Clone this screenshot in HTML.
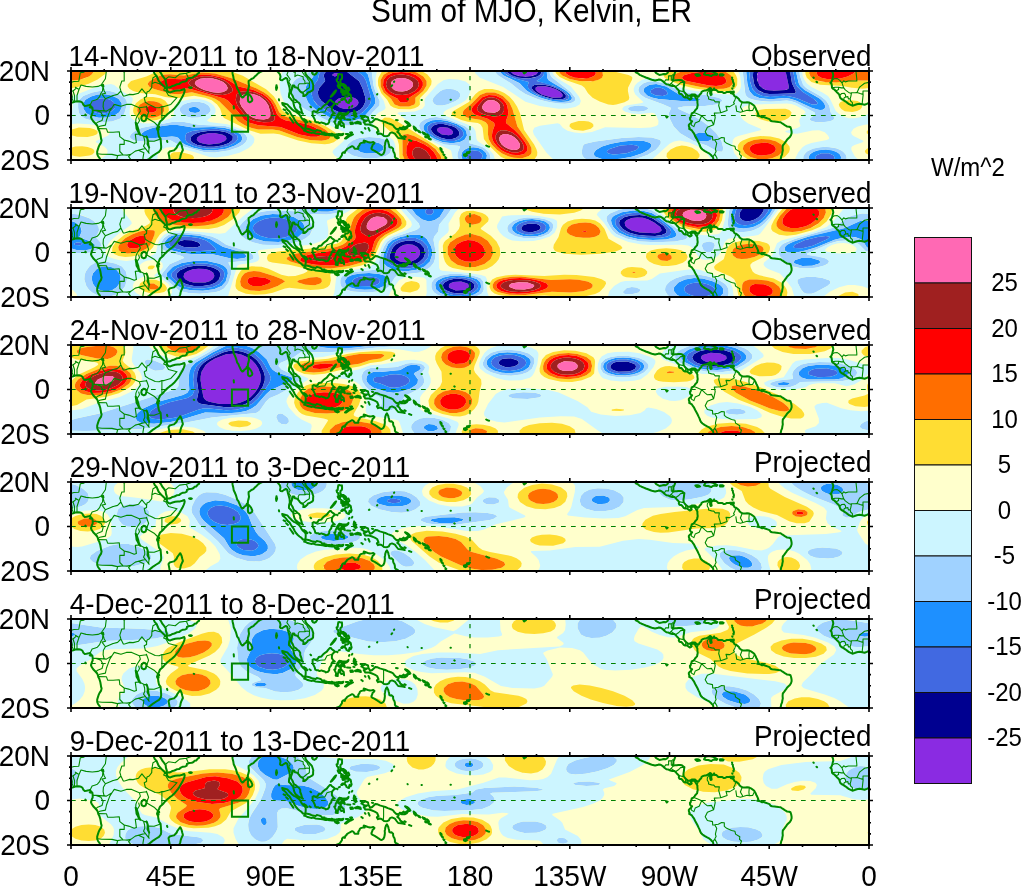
<!DOCTYPE html><html><head><meta charset="utf-8"><title>Sum of MJO, Kelvin, ER</title><style>html,body{margin:0;padding:0;background:#fff;width:1021px;height:889px;overflow:hidden}svg{display:block}text{font-family:"Liberation Sans",Arial,Helvetica,sans-serif;fill:#000}</style></head><body>
<svg width="1021" height="889" viewBox="0 0 1021 889">
<defs>
<g id="map"><path d="M832.4 79.7L834.6 78.8L837.3 78.6L839.5 80.1L842.0 82.8L843.7 80.8L845.3 81.9L848.4 81.0L856.8 81.0L856.8 79.0L855.7 68.8L855.7 64.3M842.0 82.8L843.7 87.9L841.3 87.9L838.6 87.2L835.3 87.2L832.0 87.9M835.8 91.0L838.6 89.5L838.6 87.2M45.7 87.9L47.3 89.9L50.6 92.4L52.8 93.2L53.5 92.8L57.3 92.8L59.0 92.4L61.5 87.2L63.2 85.9L66.6 83.2L71.4 82.3L73.9 81.5L78.8 81.2L80.3 72.8L83.9 72.1L97.6 63.2M843.7 87.9L845.3 89.9L848.6 92.4L850.8 93.2L851.5 92.8L855.3 92.8L857.0 92.4L859.5 87.2L861.2 85.9L864.6 83.2L869.4 82.3L871.9 81.5L876.8 81.2L878.3 72.8L881.9 72.1L895.6 63.2M839.7 95.3L841.7 93.5L844.2 93.2L845.5 94.8L845.7 97.0L844.2 97.7L843.5 100.1M845.7 97.0L847.9 96.6L848.4 99.0L850.2 98.6L850.8 96.6L851.5 92.8M850.2 98.6L850.6 101.0L852.4 102.6L852.4 105.7M59.0 92.4L62.1 93.5L65.0 94.4L65.0 91.0L71.0 91.0L73.0 91.0L76.1 88.4L75.4 87.2L79.0 89.5M857.0 92.4L860.1 93.5L863.0 94.4L863.0 91.0L869.0 91.0L871.0 91.0L874.1 88.4L873.4 87.2L877.0 89.5M64.1 104.2L64.8 97.9L65.2 94.4M862.1 104.2L862.8 97.9L863.2 94.4M71.0 91.0L72.3 96.6L72.1 98.8L73.7 101.9M869.0 91.0L870.3 96.6L870.1 98.8L871.7 101.9M73.0 91.0L74.5 95.5L74.5 101.7M871.0 91.0L872.5 95.5L872.5 101.7M77.0 101.3L77.0 95.5L79.0 89.5L81.0 85.0L86.1 86.4L92.3 87.0L98.0 86.4L101.1 85.0M875.0 101.3L875.0 95.5L877.0 89.5L879.0 85.0L884.1 86.4L890.3 87.0L896.0 86.4L899.1 85.0M105.4 64.3L106.5 69.9L105.4 78.8L101.1 85.0L102.9 86.4L104.2 91.0L105.6 93.2L102.0 94.1L105.4 98.8L103.4 102.2L103.1 106.6L104.2 111.1L106.5 111.1L112.0 107.7M90.1 105.0L92.1 101.0L95.4 99.9L97.2 99.3L99.6 96.6L100.9 93.2L102.5 91.0L102.9 86.4M124.2 72.1L124.2 81.0L121.8 81.0L119.8 87.2L120.9 91.0L123.3 96.1M105.4 98.8L112.0 95.9L113.3 95.5L117.6 94.4L120.9 91.0M104.2 64.3L124.2 72.1L126.4 71.0L126.4 66.5L152.8 66.5M123.3 96.1L125.3 95.7L129.7 94.4L133.1 94.6L138.6 93.2L141.9 88.8L144.6 92.1L146.6 94.4L146.6 96.4L144.2 97.7L145.3 102.2L148.6 104.4L150.6 105.3L155.2 107.5L159.2 107.7L161.9 106.6L164.1 106.6L170.8 104.4L177.0 97.7L168.5 95.5L165.9 91.0L166.8 90.1M156.6 75.7L153.0 77.7L151.9 83.7L151.7 87.7L149.2 91.0L147.0 92.1L146.6 94.4M151.9 83.7L155.0 82.3L157.9 83.2L161.4 83.9L164.8 87.7L163.7 90.1L165.9 91.0M161.9 106.6L161.9 119.3L163.0 119.3M112.0 107.7L114.2 104.4L120.9 106.2L126.4 104.4L131.7 104.4L139.3 107.7L146.1 106.8L146.4 106.2L148.6 112.2L146.4 117.7L154.1 122.2L157.9 126.0M112.0 107.7L109.8 111.1L106.5 120.0L105.4 125.1L99.8 126.2L98.0 127.7M92.7 110.4L96.0 110.4L99.8 110.6L106.5 111.1M96.0 110.4L100.9 112.2L103.1 116.6L102.0 120.6L97.6 122.2L95.6 124.2M98.0 128.6L106.5 128.8L107.6 132.2L113.1 132.2L119.3 131.7L119.8 136.6L124.2 140.0L124.2 144.4L119.8 144.4L119.8 151.5L122.9 154.7M97.2 153.8L102.0 154.2L112.0 154.4L117.3 155.6L122.9 154.7L127.1 155.1L130.8 154.4L135.3 151.1L138.4 150.2M124.2 140.0L128.6 141.1L134.2 143.3L136.4 142.6L135.3 134.4L139.3 134.0M139.3 107.7L140.4 111.1L137.1 116.2L135.9 119.1L135.7 122.8M138.6 117.7L139.5 120.8L138.6 122.2L136.6 125.3M140.2 134.6L144.2 136.6L146.4 136.6M148.1 141.1L154.1 141.3L160.6 138.9M149.2 147.5L148.6 152.2L149.2 153.3L145.3 148.4L138.4 150.2L143.9 152.7L143.0 157.8L142.8 163.1L140.4 165.3M143.5 136.2L144.6 140.0L144.8 143.3L143.5 146.2L145.3 148.4M115.3 164.4L117.6 156.0M130.8 154.4L128.6 156.7L132.0 161.1L135.3 164.9M165.9 79.0L168.5 76.8L175.2 77.7L179.6 74.1L186.3 73.2L188.7 78.6M186.3 73.2L192.9 71.0L194.2 66.5M275.6 69.4L276.3 68.1L276.3 65.4M289.6 93.2L290.7 91.0L291.6 88.4L290.7 84.8L289.3 83.2L288.9 81.5L290.2 79.2L286.9 74.6L288.2 71.4L291.6 70.6L292.9 70.1L293.8 72.1L295.3 71.9L294.9 76.6L297.3 75.0L299.3 75.5L303.1 76.8L303.3 79.2L304.9 81.0L304.9 83.7L299.3 83.7L298.2 85.5L298.4 88.4M297.3 65.7L298.7 67.4L300.4 69.4L302.9 70.1L302.4 72.3L303.8 74.3L307.1 77.5L307.5 78.8L309.3 81.2L309.5 83.5L309.3 87.7L306.6 89.5L304.2 91.5L302.4 92.4M304.9 83.7L306.9 83.0L309.5 83.5M292.9 101.3L295.1 102.8L297.3 101.7M313.9 111.3L317.1 113.1L320.4 112.2L324.8 111.9L327.0 107.7L332.1 106.2M383.6 121.3L383.6 130.9L383.3 135.7M347.9 135.5L348.3 136.9M664.6 83.2L664.6 81.5L665.7 79.9L668.6 79.9L668.6 75.9L671.5 75.9L673.3 74.3M671.3 75.9L671.3 80.1L671.9 80.1M669.3 85.0L671.1 83.5L673.5 80.6M671.1 83.5L672.8 84.6L674.4 85.9M675.5 86.8L678.4 84.8L680.6 82.6L684.6 82.1M679.0 90.6L682.8 91.5L683.7 91.2M685.2 97.5L685.9 94.4M696.3 99.5L697.9 98.1L697.4 96.1M711.0 89.2L708.7 90.8L707.4 92.6L707.2 95.0L708.7 97.5L708.5 99.0L711.6 99.9L713.8 100.1L715.2 101.9L719.4 101.7L718.7 105.5L719.8 109.3L720.7 112.8L727.1 110.4L726.0 106.4L729.8 106.6L734.4 103.9L733.6 102.6L734.9 99.9L736.0 96.6M693.9 112.6L697.2 113.7L701.6 115.7L705.0 118.8L707.4 120.8L711.6 120.4L713.6 124.8L715.2 117.7L714.3 113.1L720.5 112.8M691.0 123.1L691.4 125.1L693.9 126.6L695.2 123.1L699.2 121.3L701.6 115.7M713.6 124.8L707.4 127.3L705.2 131.7L707.4 135.5L712.5 136.6L712.7 140.0L714.7 139.8L716.7 143.3L715.4 149.1L716.1 151.5L714.7 154.0L713.2 156.4M714.7 139.8L718.3 139.3L721.6 137.5L724.3 137.8L724.3 141.3L726.7 143.3L731.6 145.5L734.9 146.2L735.6 149.1L739.8 151.8L739.5 154.4L741.5 156.0L740.2 160.0M714.9 154.4L716.9 157.8L717.4 162.2L720.0 166.2M720.0 166.2L726.0 165.1L730.2 165.1L732.0 161.1L740.2 160.0M742.2 102.2L740.4 107.0L742.7 111.1M749.3 102.6L748.9 107.3L749.3 110.6M735.8 105.3L736.7 111.3L740.4 112.2L743.8 111.3L747.1 110.2L749.3 110.6L752.6 110.4L754.6 106.4" fill="none" stroke="#008a00" stroke-width="1.1" stroke-linejoin="round"/><path d="M33.1 67.7L33.8 71.0L34.9 73.2L35.3 75.5L34.6 78.1L34.2 79.9L33.3 82.1L32.4 82.8L33.5 83.7L33.8 85.2L34.0 87.7L35.1 88.8L36.6 89.7L37.8 91.0L38.6 91.9L40.0 93.2L41.1 94.4L41.7 96.1L42.2 97.7L43.5 99.0L45.5 100.1L47.3 101.3L49.1 102.6L51.0 104.2L54.4 105.7L56.6 105.0L58.8 104.2L61.5 103.7L64.3 104.2L66.6 104.8L68.8 103.9L71.0 102.8L73.2 102.2L75.4 101.5L78.8 101.3L81.0 101.7L82.5 102.8L83.4 104.8L84.7 105.9L86.5 105.7L88.7 105.3L90.1 105.0L91.0 106.6L92.3 107.5L92.7 109.9L92.7 112.6L92.1 113.7L91.6 115.1L91.0 117.1L91.6 118.8L93.2 121.3L95.4 123.5L97.2 125.5L98.0 127.7L98.3 129.1L99.4 131.1L100.3 134.0L100.7 136.2L101.1 138.9L101.6 140.4L101.1 142.6L99.6 144.9L98.7 146.7L98.0 148.9L97.2 151.5L97.2 154.0L98.0 156.0L99.4 157.8L100.7 160.4L102.0 163.3L102.9 165.6M831.1 67.7L831.8 71.0L832.9 73.2L833.3 75.5L832.6 78.1L832.2 79.9L831.3 82.1L830.4 82.8L831.5 83.7L831.8 85.2L832.0 87.7L833.1 88.8L834.6 89.7L835.8 91.0L836.6 91.9L838.0 93.2L839.1 94.4L839.7 96.1L840.2 97.7L841.5 99.0L843.5 100.1L845.3 101.3L847.1 102.6L849.1 104.2L852.4 105.7L854.6 105.0L856.8 104.2L859.5 103.7L862.4 104.2L864.6 104.8L866.8 103.9L869.0 102.8L871.2 102.2L873.4 101.5L876.8 101.3L879.0 101.7L880.5 102.8L881.4 104.8L882.7 105.9L884.5 105.7L886.7 105.3L888.1 105.0L889.0 106.6L890.3 107.5L890.7 109.9L890.7 112.6L890.1 113.7L889.6 115.1L889.0 117.1L889.6 118.8L891.2 121.3L893.4 123.5L895.2 125.5L896.0 127.7L896.3 129.1L897.4 131.1L898.3 134.0L898.7 136.2L899.1 138.9L899.6 140.4L899.1 142.6L897.6 144.9L896.7 146.7L896.0 148.9L895.2 151.5L895.2 154.0L896.0 156.0L897.4 157.8L898.7 160.4L900.0 163.3L900.9 165.6M153.0 65.4L153.5 68.8L153.7 71.7L154.8 74.1L156.6 75.9L158.1 79.5L158.8 81.0L160.3 82.6L162.3 84.8L164.1 86.4L165.4 87.7L167.0 89.2L166.8 90.1L168.5 92.1L170.3 92.4L172.5 91.5L175.2 90.8L177.8 90.6L180.1 90.4L182.3 89.7L184.3 89.0L184.7 90.6L184.3 92.4L183.6 94.1L182.5 96.6L181.2 98.8L179.6 101.5L178.1 103.9L176.3 106.2L174.1 108.8L171.9 110.8L169.6 112.4L167.4 114.2L165.4 116.2L163.7 118.2L161.9 120.0L160.1 121.5L159.0 124.0L157.9 126.0L157.0 128.8L158.1 131.1L158.3 133.3L159.0 136.6L160.6 138.9L160.8 141.1L161.0 144.0L161.2 147.1L160.8 149.5L159.0 151.8L156.3 153.5L153.5 155.3L151.5 156.9L149.2 158.7L147.9 159.6L148.8 162.0L149.5 164.7L149.7 166.7M157.0 65.4L157.9 68.1L159.0 70.6L161.0 73.2L162.5 75.9L164.3 78.1L165.7 80.3L165.9 82.6L166.5 84.6L167.0 86.6L167.4 87.2L169.2 87.5L170.8 87.0L172.5 85.9L174.5 85.5L176.7 84.3L179.0 84.1L180.9 82.6L182.9 81.7L185.2 81.5L186.7 80.6L186.9 79.0L189.1 78.1L191.8 77.7L193.6 77.0L194.5 75.7L196.2 75.5L198.0 73.4L199.1 72.8L199.1 70.3L200.7 69.7L202.0 67.9L203.6 65.7L204.0 64.3M223.5 65.2L225.1 66.1L226.4 68.6L228.4 69.2L230.6 68.6L232.2 67.2L232.6 65.7L232.2 69.0L232.4 71.4L232.6 73.7L233.3 76.6L233.7 79.2L234.8 81.5L235.9 84.1L236.6 86.6L237.2 88.6L238.4 90.1L239.2 92.1L240.1 94.1L241.0 96.1L242.3 97.5L243.5 97.0L244.3 95.7L245.9 94.8L246.8 92.8L247.9 92.4L247.9 90.1L248.6 87.9L249.0 85.7L248.6 83.0L248.6 81.0L250.1 80.1L251.4 79.0L253.4 78.1L254.5 76.8L256.3 75.2L258.1 73.4L259.9 72.1L262.3 71.0L263.6 69.2L263.9 67.4L266.1 66.5L267.4 67.2L268.3 66.5M248.1 93.7L249.2 94.4L250.3 95.7L251.2 96.8L252.3 99.3L252.1 100.8L251.0 101.7L249.7 102.3L248.3 101.5L247.9 99.5L247.9 97.3L248.1 95.5L248.1 93.7M268.3 66.5L269.8 66.8L271.6 65.9L273.6 65.2L274.7 66.8L275.6 69.0L276.9 70.8L278.3 72.3L279.8 74.1L280.5 76.6L280.0 79.2L280.7 80.1L282.2 80.3L284.2 78.8L285.8 77.9L287.3 78.8L287.8 81.7L288.7 84.8L289.6 88.1L289.8 91.5L289.1 94.1L288.9 97.0L290.0 97.9L291.6 99.9L293.1 101.3L293.6 103.7L294.2 106.4L295.3 108.8L296.4 109.9L298.2 111.3L300.4 112.6L302.0 112.4L301.3 109.7L300.2 107.0L300.2 104.8L298.9 102.8L297.3 101.7L295.8 100.1L294.2 99.5L293.3 97.7L292.4 95.5L290.9 93.2L291.1 91.0L292.0 88.8L292.7 86.8L292.7 85.5L294.2 85.5L294.9 87.2L296.7 87.5L298.2 88.8L299.1 89.9L300.0 91.2L301.5 92.4L302.6 92.4L303.5 94.1L303.3 96.1L304.4 96.1L306.4 94.6L307.5 93.5L308.0 92.4L309.5 92.1L311.3 91.0L312.4 90.4L313.1 89.2L313.1 87.0L313.3 85.2L312.6 83.0L312.0 81.2L310.8 79.7L309.1 78.1L307.7 76.8L306.6 75.2L305.3 73.2L305.5 71.4L307.3 69.9L308.6 68.8L310.2 67.7L311.7 67.2L313.5 67.7L314.6 67.9L314.4 69.0L315.3 70.1L316.2 70.3L315.9 68.8L317.1 67.7L319.0 67.2L320.8 66.8L322.6 65.9L324.1 65.7L327.0 64.8L329.2 64.3M312.0 72.8L313.1 74.3L314.6 74.8L315.9 73.9L317.1 71.9L316.2 70.8L314.6 71.0L313.1 71.4L312.0 72.8M337.2 63.9L337.7 65.4L338.6 66.7L339.0 65.7L340.1 64.3L340.5 63.2M338.3 74.3L339.7 74.1L341.2 74.6L341.9 74.3L342.1 76.8L341.9 78.8L340.5 80.1L340.3 81.9L340.8 83.2L341.9 84.1L343.2 83.9L344.3 84.6L345.9 85.9L346.1 87.5L344.3 86.6L342.8 85.7L341.4 84.8L340.3 85.0L339.0 84.3L338.3 83.5L338.3 82.3L337.0 81.2L336.6 79.5L337.7 79.0L337.9 76.6L338.3 74.3M337.7 85.5L339.4 85.5L340.3 86.4L339.9 88.1L338.8 87.9L338.1 86.6L337.7 85.5M346.5 87.7L348.5 87.5L349.4 89.9L348.1 91.0L348.3 93.0L346.5 92.4L347.0 89.9L346.5 87.7M341.2 89.0L342.8 89.9L343.9 90.8L342.5 91.9L341.2 92.1L341.2 89.0M343.4 91.2L344.8 91.9L344.3 94.8L342.8 95.0L342.3 93.7L343.4 91.2M345.4 90.6L346.1 92.1L344.8 94.4L344.3 93.5L345.4 90.6M330.8 96.8L332.3 95.7L333.9 93.9L335.4 91.9L336.1 90.4L335.2 91.0L333.5 93.0L331.7 95.3L330.8 96.8M341.2 99.9L342.5 98.4L343.7 98.6L345.0 98.1L345.4 96.6L347.4 96.6L348.7 95.5L349.2 93.7L350.7 95.0L351.2 97.7L351.6 99.5L350.7 101.3L349.6 99.9L349.0 101.9L349.0 103.0L347.9 102.8L346.3 101.7L346.1 100.4L345.0 99.5L343.4 99.0L341.9 100.1L341.2 99.9M312.6 111.9L313.9 111.1L315.5 111.7L317.5 111.3L318.8 109.0L321.5 108.4L323.3 106.2L325.0 104.8L326.8 103.7L328.1 101.9L329.7 100.1L330.8 99.9L331.9 101.3L333.5 102.4L335.2 103.7L333.7 104.8L332.6 105.9L331.9 107.7L331.9 110.2L333.2 112.2L334.8 113.5L332.6 113.9L331.5 115.5L331.2 117.5L330.1 118.6L329.2 120.4L329.2 122.2L328.1 123.7L325.9 124.4L324.8 123.5L323.0 123.1L321.5 122.4L319.5 123.1L318.2 122.2L316.4 122.2L315.3 121.7L314.8 119.7L313.7 117.3L312.8 115.9L312.6 114.2L312.6 111.9M282.2 103.0L284.9 103.7L287.3 104.4L288.9 106.2L290.5 107.7L292.2 109.5L293.8 110.8L295.8 111.7L297.8 113.1L299.3 114.4L300.6 116.2L301.3 117.7L302.6 119.5L304.2 120.8L305.7 122.6L305.7 125.3L305.5 128.4L304.2 128.4L302.9 128.6L301.5 126.8L299.5 125.5L297.8 124.0L296.0 122.0L294.7 120.0L293.6 117.7L292.0 115.5L290.7 113.5L289.6 111.5L287.6 109.9L286.5 108.2L284.7 106.2L282.7 104.6L282.2 103.0M304.2 130.6L305.5 128.8L307.3 128.8L309.5 129.3L311.3 130.0L313.1 130.6L315.7 130.9L316.8 130.0L318.4 130.4L320.6 130.9L321.9 132.4L324.6 132.6L324.8 134.9L322.6 134.2L320.4 134.0L317.9 133.7L315.7 133.5L313.3 132.6L311.1 132.9L308.6 132.2L306.9 131.7L304.9 130.6L304.2 130.6M325.0 133.5L326.6 133.5L327.5 134.4L326.4 135.1L325.0 134.2L325.0 133.5M328.1 134.0L329.7 134.0L329.5 135.3L328.1 135.1L328.1 134.0M330.1 134.4L331.7 133.7L333.2 134.2L335.0 134.4L334.3 135.3L332.1 135.5L330.1 135.3L330.1 134.4M336.6 134.4L338.8 134.0L341.4 134.2L343.4 133.7L342.8 134.9L340.3 135.3L337.9 135.1L336.6 134.4M334.8 136.4L337.0 136.4L338.8 137.8L337.4 138.4L335.2 137.3L334.8 136.4M345.0 138.4L347.0 136.6L348.7 135.3L351.4 134.2L353.0 134.4L350.7 135.5L348.3 136.9L345.9 138.6L345.0 138.4M348.5 111.9L347.0 113.3L344.3 113.5L342.1 113.3L339.2 112.8L338.3 114.2L337.2 115.5L336.6 117.3L335.7 118.8L335.4 121.1L334.3 121.7L335.2 123.3L336.1 125.3L335.7 127.7L337.7 128.0L337.9 125.7L339.0 121.7L340.5 122.0L339.9 124.4L341.4 126.0L343.2 125.5L344.1 127.3L343.7 124.0L342.1 122.6L341.0 121.1L340.3 119.7L342.5 117.5L344.5 117.5L343.9 116.6L341.2 116.8L339.2 118.4L338.3 118.2L338.6 114.6L340.5 114.4L343.7 114.4L346.3 114.6L348.1 113.3L348.5 111.9M354.1 110.6L355.4 111.9L354.7 113.3L356.3 113.7L355.2 114.8L356.7 116.4L355.4 117.1L354.1 115.5L353.6 113.5L354.1 110.6M355.0 122.8L357.6 121.7L360.3 122.4L360.9 124.0L358.3 123.3L355.8 123.3L355.0 122.8M350.3 122.6L352.5 122.4L353.0 123.7L350.7 124.0L350.3 122.6M361.4 118.4L363.4 117.3L365.6 116.4L368.0 117.5L368.5 120.0L370.2 122.8L372.2 122.0L375.3 119.1L377.6 119.3L379.8 120.4L382.4 121.1L385.3 122.0L387.8 123.1L390.9 124.2L393.1 125.3L394.2 127.1L396.6 129.3L398.2 129.1L398.6 130.6L397.3 132.0L399.3 133.5L400.4 135.7L402.2 136.9L403.9 138.2L404.8 139.1L402.6 138.6L400.6 138.2L398.2 138.0L396.6 136.0L394.9 133.7L392.0 132.4L390.0 133.1L388.9 135.3L387.1 136.2L384.0 136.0L381.6 134.0L379.6 133.5L378.0 134.2L376.9 132.4L378.5 131.1L377.1 128.0L374.7 126.6L371.4 125.3L369.1 124.6L366.7 124.4L365.4 124.6L363.8 122.2L365.6 121.5L366.9 120.6L364.3 120.4L362.0 118.8L361.4 118.4M399.7 127.7L401.9 128.0L403.7 126.6L404.8 127.7L407.0 126.4L408.2 125.1L408.6 125.7L407.0 128.0L404.6 129.3L401.9 129.3L399.7 128.6L399.7 127.7M405.1 121.3L407.5 122.2L409.3 123.7L410.4 125.5L409.7 126.0L407.9 124.0L405.7 122.0L405.1 121.3M413.7 126.6L415.5 128.0L416.6 130.0L415.9 130.6L414.1 128.8L413.7 126.6M417.9 130.6L419.7 131.5L420.3 132.4L419.0 132.0L417.9 130.6M422.6 132.4L424.8 133.3L425.4 134.4L423.5 133.7L422.6 132.4M425.2 136.2L427.0 136.4L427.4 137.5L425.4 137.3L425.2 136.2M427.0 134.2L428.5 135.5L429.0 136.9L427.7 135.5L427.0 134.2M428.5 138.2L430.3 138.9L430.8 139.5L429.0 139.1L428.5 138.2M440.3 148.0L441.6 149.3L441.6 150.2L440.7 149.8L440.3 148.0M441.6 151.1L443.0 152.2L442.3 152.4L441.6 151.1M443.4 154.4L444.5 154.9L444.1 155.3L443.4 154.4M445.4 157.1L446.3 158.0L445.6 158.4L445.4 157.1M433.6 160.2L435.4 160.7L437.9 162.2L440.1 164.0L441.2 165.3L439.4 164.9L436.8 163.1L434.5 161.6L433.6 160.2M464.0 154.4L466.0 154.0L466.9 155.3L465.3 156.2L464.0 155.6L464.0 154.4M466.9 152.4L468.7 152.0L470.0 151.5L469.1 152.9L467.3 153.3L466.9 152.4M322.1 165.6L323.3 164.2L323.9 164.0L325.0 164.0L327.0 163.1L328.6 162.0L330.4 161.3L332.3 161.6L334.3 160.7L336.1 160.0L337.9 159.3L339.7 158.4L340.8 156.9L341.9 155.3L342.1 153.5L343.4 152.2L344.8 152.9L345.2 151.3L346.5 150.0L347.2 148.9L348.7 148.0L350.3 147.1L352.1 146.2L353.6 146.9L354.7 148.7L355.6 148.7L356.9 148.7L358.3 148.7L358.3 146.7L359.4 145.3L359.8 144.0L360.9 143.1L362.5 142.6L364.5 142.6L364.9 141.3L363.8 140.6L365.2 140.9L366.5 141.5L368.0 142.0L369.8 142.4L371.8 142.2L373.4 142.0L374.5 142.9L373.6 144.2L372.5 145.1L372.2 146.4L371.4 148.2L371.6 149.1L373.1 150.2L374.7 150.9L376.2 151.8L377.8 152.9L379.3 153.8L380.4 154.7L381.8 154.9L383.3 154.0L384.2 152.2L384.7 150.0L384.9 148.0L384.7 146.0L385.1 144.2L385.3 142.6L386.0 140.6L386.9 139.3L387.5 140.4L388.2 141.8L388.6 143.5L389.1 145.1L389.3 146.9L390.2 147.5L391.5 147.3L393.1 148.7L393.1 150.2L393.5 151.8L394.4 153.1L394.9 154.9L394.9 156.7L395.5 157.8L397.1 158.7L398.6 159.6L400.2 160.2L401.1 161.3L402.2 162.4L402.8 164.4L404.2 165.1L404.8 165.8M634.7 65.4L635.1 67.7L635.6 69.9L634.9 71.0L636.2 72.6L637.8 73.2L639.6 74.8L641.6 75.7L643.8 76.6L645.8 77.5L648.0 78.3L650.4 79.2L652.9 80.1L655.1 80.6L657.3 80.1L658.9 79.5L660.4 79.7L662.4 80.8L664.4 82.8L666.4 84.3L668.4 84.6L670.4 85.5L672.4 86.1L674.4 85.9L675.3 86.8L676.8 88.4L678.4 89.9L679.0 91.0L678.8 92.6L679.3 93.5L680.4 94.1L681.5 94.1L682.8 95.7L683.7 96.8L685.2 97.5L687.0 97.3L688.3 98.4L689.7 99.5L691.0 99.0L691.7 98.4L690.8 97.0L692.3 95.7L693.7 95.5L695.0 96.6L695.7 97.7L696.5 99.0L697.4 100.6L697.4 102.6L697.7 105.0L697.4 106.8L697.0 108.4L695.7 109.7L694.5 111.3L693.4 112.6L691.7 113.5L691.4 115.1L690.8 116.2L690.6 117.5L689.9 117.9L690.1 119.7L691.2 121.1L692.1 121.3L691.4 122.2L690.8 123.1L689.5 124.0L688.8 125.1L689.0 126.8L689.7 128.0L689.2 128.8L691.9 130.4L693.0 132.2L694.1 133.7L695.2 136.0L696.3 138.0L697.4 140.0L698.5 142.4L699.6 144.6L700.1 146.2L701.0 148.0L702.5 149.5L704.5 150.9L706.7 152.2L709.0 153.3L710.7 154.7L711.8 156.0L712.9 156.9L713.4 159.1L713.6 161.1L713.4 163.3L713.6 165.6M652.4 65.4L653.1 67.7L653.5 69.7L655.1 71.7L656.2 73.2L658.0 74.1L659.5 75.0L661.7 74.6L664.0 74.1L665.7 74.3L667.3 73.2L668.2 71.7L668.6 69.4L669.3 68.3L671.3 68.1L673.5 67.7L675.9 67.7L676.6 69.2L675.3 71.4L674.8 73.2L674.2 74.6L673.3 76.6L673.5 78.3L672.6 80.1L673.7 80.6L674.8 80.3L676.6 80.3L678.4 79.9L680.1 80.1L681.9 80.3L683.2 81.5L684.4 82.1L684.1 83.9L683.9 86.1L683.5 88.4L683.5 90.6L684.1 91.7L685.0 93.0L686.3 94.4L687.7 95.3L688.8 95.9L690.6 95.3L692.1 94.4L693.4 94.4L695.0 94.6L696.3 95.7L697.7 96.6L698.8 96.4L699.6 94.8L701.2 93.2L701.6 91.9L703.0 91.0L704.5 90.6L706.3 90.4L708.1 89.5L709.4 88.4L710.3 87.9L711.4 88.8L711.0 89.9L709.6 90.6L710.3 91.9L710.1 93.2L710.7 95.0L711.6 94.6L711.4 92.8L710.7 91.2L712.3 90.4L713.4 89.7L714.1 88.4L714.7 89.9L716.3 90.1L717.6 91.2L718.3 92.1L720.5 91.9L722.3 91.9L723.6 93.0L725.1 93.0L726.5 92.1L728.5 91.9L730.5 91.7L731.6 91.9L730.9 93.2L732.5 93.5L733.8 94.8L734.7 96.4L736.2 96.8L737.8 98.1L739.1 99.3L739.5 100.4L740.7 101.3L742.2 102.2L743.8 102.4L745.3 102.4L747.1 102.2L749.3 102.6L750.9 103.3L752.4 104.4L754.0 105.5L754.6 106.4L755.5 107.9L756.2 109.7L757.1 111.3L757.9 113.1L758.4 114.6L757.3 115.7L759.1 115.9L761.3 116.8L762.2 117.3L763.0 116.8L765.0 117.5L767.5 118.4L769.5 119.1L770.6 120.8L772.1 121.3L774.6 121.5L776.3 121.7L778.6 122.0L780.6 122.2L782.6 123.7L784.1 124.6L785.7 125.7L787.2 126.6L789.2 126.8L790.5 127.3L791.2 129.5L791.6 131.7L791.6 133.3L791.0 135.3L789.9 136.9L788.5 138.2L787.2 139.5L786.3 140.9L785.2 142.4L783.9 144.2L782.8 145.5L782.6 148.0L782.8 150.4L782.3 152.7L782.1 154.4L781.2 156.4L780.8 158.7L779.7 160.7L778.3 162.9L778.1 164.4L776.3 166.2M680.6 66.8L681.9 66.3L683.9 66.1L686.1 65.2L688.3 66.1L690.6 66.5L692.8 67.4L694.8 67.7L696.5 69.2L697.2 71.0L699.4 71.2L701.6 71.2L704.3 70.8L704.5 70.1L702.1 69.4L699.4 68.3L697.2 66.8L695.0 65.7M695.4 74.6L697.0 74.3L698.8 74.6L700.1 75.5L698.8 75.7L697.0 75.9L695.7 75.0L695.4 74.6M704.1 74.3L705.4 71.7L707.6 71.2L710.3 71.2L712.7 71.7L714.5 72.6L717.4 74.1L716.7 75.0L714.7 74.6L712.7 75.0L711.2 76.1L710.3 75.7L708.3 75.0L706.1 75.0L704.1 74.3M720.0 74.3L722.7 74.3L723.6 74.8L722.9 75.5L720.0 75.5L720.0 74.3M731.8 91.7L733.8 91.5L733.8 92.8L731.8 93.0L732.5 92.4L731.8 91.7M732.0 77.5L732.2 77.7M732.2 79.2L732.9 79.9M732.9 80.8L733.1 81.7M733.3 82.6L733.8 83.5M733.8 84.3L734.0 85.0M733.3 85.9L733.6 86.4M732.2 88.4L732.5 88.8M180.3 142.2L181.6 144.9L182.3 147.8L182.9 150.0L182.3 151.3L181.4 153.1L180.7 155.1L180.3 157.3L179.4 159.6L178.7 161.6L177.8 164.0L177.0 166.2L168.5 166.7L167.6 164.4L167.4 162.7L168.8 160.7L169.6 158.7L169.0 155.6L168.5 153.1L169.6 151.5L171.9 150.9L173.9 150.4L175.4 149.1L176.7 147.5L177.4 145.8L179.2 143.5L180.3 142.2M189.1 87.5L190.7 87.2L191.8 87.7L190.5 88.1L189.1 87.5M167.0 140.9L167.4 142.0M141.5 116.8L143.3 114.8L145.0 115.1L146.6 116.4L146.4 118.2L145.5 120.6L143.7 121.3L141.9 120.4L141.3 118.6L141.5 116.8M135.7 122.8L136.2 125.5L136.6 128.8L137.9 131.1L139.3 134.0L140.2 134.6L138.8 131.7L138.2 128.8L137.3 126.2L136.4 123.3L135.7 122.8M146.4 136.6L147.5 138.9L147.7 141.8L147.5 144.0L148.6 146.2L149.2 147.5L148.4 145.3L148.1 142.2L147.7 139.5L146.8 136.9L146.4 136.6M523.4 70.6L525.2 71.2L525.9 72.1L524.1 73.4L523.4 72.3L523.4 70.6M521.6 68.8L523.2 69.2L522.3 69.7L521.6 68.8M518.1 67.4L519.4 68.1L518.5 68.1L518.1 67.4M666.0 116.2L666.8 117.5L667.7 116.6L666.0 116.2M276.5 85.2L277.1 87.7L276.3 89.9L276.0 87.7L276.5 85.2M278.9 99.3L279.1 100.4M233.7 106.2L233.9 108.4M421.5 100.1L421.9 100.1M407.5 99.0L407.7 99.3M454.3 112.4L454.7 112.6M450.5 99.7L450.9 99.7M368.9 99.0L369.4 98.6M377.1 94.4L377.3 94.1M391.5 86.1L392.2 85.2M394.0 81.9L394.2 81.5M486.2 145.5L487.3 146.2M488.0 146.4L489.1 146.7M480.4 162.4L480.9 162.7M816.5 81.7L817.1 82.3M813.4 77.5L813.8 77.9M85.4 114.6L85.9 115.3M89.8 107.3L90.7 107.7M157.9 128.2L158.6 129.7M159.0 126.4L159.2 127.5M198.2 160.0L198.9 160.9M193.4 162.2L194.5 162.9M193.8 125.7L194.2 126.0M101.8 85.5L103.1 84.8L103.4 86.6M350.3 133.1L351.6 132.4M361.4 132.0L362.7 133.1M368.5 128.0L369.6 130.6M364.9 128.0L365.4 128.8M350.1 132.6L352.1 132.6M345.9 134.0L348.1 134.0M349.0 107.9L349.4 107.0M351.9 106.6L352.3 105.9M347.0 119.5L350.3 119.7M343.7 118.4L345.0 119.1M353.4 118.8L354.5 119.1M372.0 117.7L373.1 117.9M360.5 115.9L362.0 116.2M396.0 120.0L397.7 120.2M404.4 136.2L405.7 136.9M409.0 140.0L411.3 140.9M304.0 119.1L306.0 120.4L307.3 122.2L305.7 121.3L304.0 119.1M309.5 121.3L310.8 122.2M310.4 106.6L311.1 107.3M302.2 113.3L302.9 113.7M289.8 117.5L291.1 119.5M291.8 120.4L293.3 122.6M286.2 112.2L288.0 113.9M283.6 109.3L285.1 110.2M338.8 102.4L339.9 101.9M336.6 103.7L337.4 104.2M345.4 93.0L347.0 93.9M344.1 87.7L345.9 88.8M346.5 90.1L348.1 92.8" fill="none" stroke="#008a00" stroke-width="2" stroke-linejoin="round" stroke-linecap="round"/><path d="M231.9 115.5L248.1 115.5L248.1 131.7L231.9 131.7Z" fill="none" stroke="#008a00" stroke-width="2"/></g>
<clipPath id="c0"><rect x="71.0" y="71" width="798.0" height="89.0"/></clipPath>
<clipPath id="c1"><rect x="71.0" y="208" width="798.0" height="89.0"/></clipPath>
<clipPath id="c2"><rect x="71.0" y="345" width="798.0" height="89.0"/></clipPath>
<clipPath id="c3"><rect x="71.0" y="482" width="798.0" height="89.0"/></clipPath>
<clipPath id="c4"><rect x="71.0" y="619" width="798.0" height="89.0"/></clipPath>
<clipPath id="c5"><rect x="71.0" y="756" width="798.0" height="89.0"/></clipPath>
</defs>
<text transform="translate(531.60,22.40) scale(0.993,1.096)" font-size="30" text-anchor="middle">Sum of MJO, Kelvin, ER</text>
<g clip-path="url(#c0)">
<rect x="71.0" y="71" width="798.0" height="89.0" fill="#ffffcc"/>
<path fill="#8a2be2" fill-rule="evenodd" d="M209.5 144.5L219.7 143.3L224.8 141.1L226.5 138.9L225.9 136.6L222.8 134.7L214 133.1L208.3 133.3L202.7 134.4L199.6 135.7L197.1 137.8L196.8 140L199.1 142.2L202.9 143.6L208.6 144.4ZM442.3 134.6L448.9 135.3L451.7 134.4L452.8 133.3L453.1 132.2L451.9 130L448 127.7L441.2 127L438.7 127.7L437.4 128.8L437.1 130L437.9 131.8L441.9 134.4ZM344.8 108.9L352.5 108.3L356 106.6L358 104.4L358.5 102.2L357.5 99.9L354.7 98.1L351.4 97.2L347 97L341.4 97.7L338.1 98.8L335.5 101L335.3 103.3L336.8 105.5L340.2 107.7L344 108.8ZM553.1 97.8L560.9 97.5L562.4 96.6L562.5 94.4L560.5 92.1L556.4 89.6L550.9 87.5L545.4 86.3L537.4 86.6L535.6 87.7L535.7 89.9L537.8 92.1L541.6 94.4L552.6 97.7ZM767 90.2L772.6 90.7L784.8 90.2L788.5 88.8L788.8 86.6L786 73.2L783.7 69.7L779 66.6L764 66.6L760.4 68.8L758.2 71.4L756.8 76.6L758.2 83.2L761.5 87.5L766 89.9ZM522.1 76.7L529.8 76.5L536.5 74.3L538.8 71L538.3 68.8L536.3 66.6L510.5 66.6L509.1 68.8L510.4 72.1L514.3 74.6L521.4 76.6ZM332.6 75.6L334.8 76.4L338.1 75.6L339.1 74.3L338.3 73.2L334.6 73.2L332.6 74.3L332.3 75.4Z"/><path fill="#000090" fill-rule="evenodd" d="M206.2 146.7L214 146.8L222 145.5L228.4 143.3L232.6 140L232.9 136.6L230.9 134.4L226.1 132.2L218.4 130.8L209.5 130.7L200.7 131.9L195.1 133.7L191.2 136.6L190.4 140L191.9 142.2L197.4 144.9L205.4 146.6ZM208.6 144.4L202.9 143.6L199.1 142.2L196.8 140L197.1 137.8L199.6 135.7L202.7 134.4L208.3 133.3L214 133.1L222.8 134.7L225.9 136.6L226.5 138.9L224.8 141.1L219.7 143.3L209.5 144.5ZM446.7 139L452.3 138.9L456.2 137.8L459 135.5L459.5 132.2L457.1 128.8L453.5 126.6L443.4 123.9L437.9 124L433.4 125.5L431.2 127.7L431 130L433.1 133.3L436 135.5L440.9 137.8L445.8 138.9ZM441.9 134.4L437.9 131.8L437.1 130L437.4 128.8L438.7 127.7L441.2 127L448 127.7L451.9 130L453.1 132.2L452.8 133.3L451.7 134.4L448.9 135.3L442.3 134.6ZM339.2 112.2L348.1 113.2L357 111.4L360.3 109.4L363.2 106.6L365.7 101L365.4 97.7L362.5 88.2L359.2 81.3L346 71L341.4 68.9L337 68.2L332.6 68.7L328.1 70.5L324.8 72.8L323.6 75.4L325.2 81L319.3 87.7L317.8 92.1L318.4 96.6L321.5 101.1L331.6 108.8L339.2 112.2ZM344 108.8L340.2 107.7L336.8 105.5L335.3 103.3L335.5 101L338.1 98.8L341.4 97.7L347 97L351.4 97.2L354.7 98.1L357.5 99.9L358.5 102.2L358 104.4L356 106.6L352.5 108.3L344.8 108.9ZM332.3 75.4L332.6 74.3L334.6 73.2L338.3 73.2L339.1 74.3L338.1 75.6L334.8 76.4L332.6 75.6ZM553.1 99L558.7 99.5L563.1 99.1L565.7 97.7L566 95.5L563.1 92.1L558.7 89.4L552 86.6L545.4 84.9L538.7 84.4L534.3 85L532 86.6L532 88.8L533.7 91L538.8 94.4L545.4 97.1L552.3 98.8ZM552.6 97.7L541.6 94.4L537.8 92.1L535.7 89.9L535.6 87.7L537.4 86.6L545.4 86.3L550.9 87.5L556.4 89.6L560.5 92.1L562.5 94.4L562.4 96.6L560.9 97.5L553.1 97.8ZM764.8 93.4L771.5 94.2L795 93.2L795.8 92.1L795.7 91L792 83.2L790.4 73.2L788.9 69.9L786.2 66.6L779 66.6L783.7 69.7L786 73.2L788.8 86.6L788.5 88.8L785.9 90L773.7 90.7L765.9 89.9L762.6 88.3L759.5 85.5L757.1 79.9L757 74.3L759.2 69.9L764 66.6L756.8 66.6L755.7 67.7L753.5 71L752.7 74.3L753.8 83.2L755.2 86.6L757.9 89.9L764.2 93.2ZM518.8 77.8L528.7 78.5L537.6 76.5L540.5 74.3L541.6 72.1L541.4 68.8L539.9 66.6L536.3 66.6L538.3 68.8L538.8 71L536.5 74.3L532.1 76.1L525.4 76.8L518.8 76.1L513.6 74.3L509.6 71L509.1 68.8L510.5 66.6L506.6 66.6L505.7 69.9L507.7 72.9L512.1 75.7L518.3 77.7Z"/><path fill="#4169e1" fill-rule="evenodd" d="M821.3 162.2L828.3 162.2L833.5 159.8L834.6 157.8L833.6 155.6L829 153.3L821.3 153.2L816.3 155.6L815.2 157.8L815.8 159.4L817.9 161.1L821.3 162.2ZM470 160.2L475.5 160.9L481.1 158.9L482.5 156.7L482.3 154.4L480.4 152.2L478.4 151.1L472.2 150.3L467.5 152.2L466 154.4L466 156.7L467.6 158.9L469.5 160ZM614.1 154.5L626.6 153.3L636.3 150L638.6 147.8L638.4 146.6L636.7 145.5L631.8 144.8L620.4 145.5L609.6 148.9L607 151.1L606.9 152.2L608.5 153.5L613.1 154.4ZM200.7 147.8L209.5 148.7L219.5 148L228.4 145.9L235 142.5L237.9 138.9L237.2 135.5L232.7 132.2L225.1 129.7L216.2 128.8L205.1 129.2L192.1 131.1L186.5 133.3L185.5 135.5L185.2 138.9L186.7 142.2L192.6 145.5L200.3 147.8ZM205.4 146.6L197.4 144.9L191.9 142.2L190.4 140L191.2 136.6L195.1 133.7L200.7 131.9L209.5 130.7L218.4 130.8L226.1 132.2L230.9 134.4L232.9 136.6L232.6 140L228.4 143.3L222 145.5L214 146.8L206.2 146.7ZM447.8 141.1L454.5 140.9L460 139.1L463.3 135.5L463.3 132.2L461 128.8L455.8 125.5L448.9 123L442.3 121.8L436.8 121.9L431.2 123.3L427.5 126.6L427.3 130L429.5 133.3L434.5 137.1L441.2 139.9L447.4 141.1ZM445.8 138.9L440.9 137.8L436 135.5L433.1 133.3L431 130L431.2 127.7L433.4 125.5L437.9 124L443.4 123.9L453.5 126.6L457.1 128.8L459.5 132.2L459 135.5L456.2 137.8L452.3 138.9L446.7 139ZM340.3 116.6L350.3 117L355.8 115.9L360.3 114L363.6 111.5L368.2 106.6L370.4 103.3L371.1 99.9L370.4 95.5L366.1 81L363.6 76.2L358.1 72L343.6 66.6L329.1 66.6L322.1 69.9L319.4 73.2L317.7 79.9L312.9 86.6L311.6 92.1L312.1 96.6L313.3 99.9L318 105.5L330.4 113.1L340.2 116.6ZM339.2 112.2L331.6 108.8L321.5 101.1L318.4 96.6L317.8 92.1L319.3 87.7L325.2 81L323.6 75.4L324.8 72.8L328.1 70.5L332.6 68.7L337 68.2L341.4 68.9L346 71L359.2 81.3L362.5 88.2L365.4 97.7L365.7 101L363.2 106.6L360.3 109.4L357 111.4L348.1 113.2L339.2 112.2ZM98.7 113.4L104.2 113.5L108.7 112.6L112.1 111L115 107.7L115.1 104.4L113.7 102.2L110.6 99.9L106.5 98.6L102 98.3L97.5 98.8L93.2 100.5L90.2 103.3L89.5 106.6L91 109.7L94.3 112L98.2 113.3ZM812.5 104.5L816.9 104.5L817.6 103.3L817.2 102.2L813.8 98.8L802.5 91.8L797.1 86.6L795.4 83.2L793.1 71L790.8 66.6L786.2 66.6L788.9 69.9L790.4 73.2L792 83.2L795.7 91L795.8 92.1L795 93.2L769.2 94.1L763.7 93.1L759.3 91L754.8 85.9L752.7 77.7L753.5 71L756.8 66.6L752 66.6L749.5 72.1L749.9 81L752.4 88.8L756.4 93.2L762.6 95.9L770.4 96.9L783.7 95.7L789.2 96.2L797 98.2L811.8 104.4ZM553.1 100L559.8 100.7L565.3 100.3L568.5 98.8L569 96.6L565.4 92.1L557.6 87.4L548.7 84L536.5 81L542 77.2L543.8 74.3L544.3 69.9L542.9 66.6L539.9 66.6L541.4 68.8L541.8 71L541.2 73.2L539.8 75L535.4 77.3L528.7 78.5L519.9 78L511 75.1L508 73.2L506.1 71L505.6 68.8L506.6 66.6L503.2 66.6L502.5 69.9L504.6 73.2L509.9 76.6L516.6 79L528.8 82.1L527.7 85.5L528.1 87.7L529.7 89.9L534 93.2L542 97.1L552.6 99.9ZM552.3 98.8L545.4 97.1L538.8 94.4L533.7 91L532 88.8L532 86.6L534.3 85L538.7 84.4L545.4 84.9L552 86.6L558.7 89.4L563.1 92.1L566 95.5L565.7 97.7L563.1 99.1L558.7 99.5L553.1 99ZM656.2 95.5L662.8 96L667.2 94.4L667.5 93.2L666.6 91L664 89L660.6 87.8L655.1 87.8L651.1 89.9L650.6 92.1L651.3 93.2L655.9 95.5Z"/><path fill="#1e90ff" fill-rule="evenodd" d="M470 163.4L475.5 163.8L480 163.1L484.2 161.1L486.3 158.9L487 155.6L485.5 152.2L482.2 149.5L477.8 147.7L473.3 147.2L468.4 147.8L464.5 149.7L462.2 152.2L461.2 155.6L462.3 158.9L465.6 161.7L469.7 163.3ZM469.5 160L467.6 158.9L466 156.7L466 154.4L467.5 152.2L472.2 150.3L478.4 151.1L480.4 152.2L482.3 154.4L482.5 156.7L481.1 158.9L475.5 160.9L470 160.2ZM813.6 163.7L815.3 164.4L834.3 164.4L836.8 163.3L839.8 161.1L841.3 157.8L840 154.4L836.9 152.1L831.3 150.1L825.8 149.5L819.1 150L813.6 151.8L809.8 154.4L808.4 157.8L809.8 161.1L812.8 163.3ZM821.3 162.2L817.9 161.1L815.8 159.4L815.2 157.8L816.3 155.6L821.3 153.2L829 153.3L833.6 155.6L834.6 157.8L833.5 159.8L828.3 162.2L821.3 162.2ZM601.9 158.9L610.8 159.5L620.7 158.7L631.9 156.7L642.3 153.3L648.3 150L650.6 147.8L651.5 145.5L651.4 144.4L649.6 142.7L644 141.1L634 140.6L623 141.5L610.8 143.8L602 146.6L596 150L593.7 153.3L594.3 155.6L595.5 156.7L601.9 158.9ZM613.1 154.4L608.5 153.5L606.9 152.2L607 151.1L609.6 148.9L620.4 145.5L631.8 144.8L636.7 145.5L638.4 146.6L638.6 147.8L636.3 150L626.6 153.3L614.1 154.5ZM365.8 153.4L375.8 153.2L379.6 152.2L383 150L383.7 147.8L382.4 145.2L379.4 143.3L374.7 142.1L364.7 142.3L361.1 143.3L357.6 145.5L356.4 147.8L357.3 150L360.9 152.2L365.3 153.3ZM204 150.1L214 150.4L226.2 148.7L235 145.6L240.6 141.9L241.9 140L242.4 137.8L240.6 134.3L232.9 130L224 127.7L214 127L192.9 127.6L177.4 125.1L169.6 124.9L158.6 126.5L150.8 128.5L144.7 131.1L142 133.3L141.7 135.5L142.9 136.6L147.5 137.9L155.2 138L171.9 136.5L176.3 136.9L178.5 137.9L181.5 142.2L184.7 144.4L193.4 147.8L203 150ZM200.3 147.8L192.6 145.5L186.7 142.2L185.2 138.9L185.5 135.5L186.5 133.3L192.1 131.1L205.1 129.2L216.2 128.8L225.1 129.7L232.7 132.2L237.2 135.5L237.9 138.9L235 142.5L228.4 145.9L219.5 148L209.5 148.7L200.7 147.8ZM443.4 142.3L452.3 143.2L460 142.1L464.5 139.7L467 135.5L466.2 131.1L463.3 127.7L456.7 124.1L446.7 120.8L439 119.7L432.3 120.3L426.8 122.5L424.6 124.4L423.5 126.6L423.5 128.8L424.5 131.1L428.9 135.5L435.6 139.5L443.1 142.2ZM447.4 141.1L441.2 139.9L434.5 137.1L429.5 133.3L427.3 130L427.5 126.6L431.2 123.3L436.8 121.9L442.3 121.8L448.9 123L455.8 125.5L461 128.8L463.3 132.2L463.3 135.5L460 139.1L454.5 140.9L447.8 141.1ZM699.4 141.1L707.2 141.5L710.5 140.1L711.6 138.9L711.9 137.8L710.9 135.5L706.1 133L699.4 132.6L696.1 133.7L694 135.5L693.8 136.6L695 138.9L699.2 141.1ZM341.4 121.2L351.4 121.2L361.4 118.2L365.8 114.7L373.1 106.6L375.3 103.3L375.3 98.8L371.7 88.8L368 74.5L363.6 69.9L356.4 66.6L343.6 66.6L358.1 72L363.6 76.2L366.1 81L370.4 95.5L371.1 99.9L370.4 103.3L367.2 107.7L362.5 112.4L358.1 115.1L348.1 117.2L342.5 117L337 115.8L330.4 113.1L321.5 108L316.7 104.4L313.9 101L311.7 94.4L311.8 89.9L312.9 86.6L317.7 79.9L319 74.3L320.4 71.6L323.7 68.8L329.1 66.6L321.9 66.6L318.4 68.8L315.4 72.1L312.5 77.7L307.7 83.2L306 86.6L305.3 92.1L306.1 97.7L308 102.2L310.7 105.5L316.4 109.9L327.9 116.6L334.8 119.6L340.7 121.1ZM99.8 117.8L107.6 117.5L114.4 115.5L119.3 112.2L121.7 107.7L121.7 103.3L118.5 98.8L112 95.5L105.4 94.2L97.6 94.5L91 96.4L85.4 99.8L83.3 103.3L83.4 108.8L86.4 113.3L92.1 116.3L98.7 117.7ZM98.2 113.3L94.3 112L91 109.7L89.5 106.6L90.2 103.3L93.2 100.5L97.5 98.8L102 98.3L106.5 98.6L110.6 99.9L113.7 102.2L115.1 104.4L115 107.7L112.1 111L108.7 112.6L104.2 113.5L98.7 113.4ZM190.7 112.3L195.1 112.9L198.8 112.2L200.2 111L200.3 109.9L197.4 107.4L194 106.7L189.5 107.7L188.2 109.9L190.4 112.2ZM819.1 110L822.4 109.9L824.7 108.5L825.3 106.6L824.3 103.3L820 98.8L804.7 90L800.6 86.6L798.7 83.2L794.9 66.6L790.8 66.6L793.4 72.1L795.1 82.1L796.3 85.5L802.5 91.8L815.2 99.9L817.2 102.2L817.6 103.3L816.9 104.5L811.8 104.4L797 98.2L789.2 96.2L783.7 95.7L768.1 96.8L761.5 95.6L757.1 93.7L752.6 89.2L750.1 82.1L749.4 73.2L750.1 69.9L752 66.6L747.6 66.6L746.2 71L747.3 83.2L749.4 91L753.3 95.5L759.3 98L770.4 99.3L784.8 98.1L789.2 98.4L795.8 100.4L811.4 107.8L819 109.9ZM553.1 101.2L560.9 102L567.5 101.6L571.2 99.9L572 97.7L570.2 94.4L566.4 91.1L548.4 79.9L547.2 77.7L546.7 69.9L545.7 66.6L542.9 66.6L544.4 71L543.2 75.7L540.9 78.1L536.5 81L554.2 86L565.3 92.1L568.6 95.5L569.1 97.7L566.7 99.9L563.1 100.6L550.9 99.6L537.6 95.2L532.3 92.1L528.8 88.8L527.7 85.5L528.8 82.1L514.3 78.3L507.7 75.4L504.6 73.2L502.9 71L502.4 68.8L503.2 66.6L499.6 66.6L499 69.9L500 72.1L503.2 75.2L519.7 83.2L525.9 89.9L531 93.5L540.9 98L552.4 101ZM681.7 101.1L696.7 101L700.1 99.9L699.4 98.8L679.5 94.8L666.3 86.6L656.2 84L649.6 84.7L644.5 87.7L643.5 89.9L643.9 92.1L647.2 95.5L651.8 97.5L658.4 99L681.1 101ZM655.9 95.5L651.3 93.2L650.6 92.1L651.1 89.9L655.1 87.8L660.6 87.8L664 89L666.6 91L667.5 93.2L667.2 94.4L662.8 96L656.2 95.5Z"/><path fill="#a0d2ff" fill-rule="evenodd" d="M463.4 163.9L464.6 164.4L484.2 164.4L488.8 161.3L490.5 157.8L489.5 153.3L484.4 148.1L478.9 145.6L469.5 143.3L468.9 142.2L470.9 136.6L470.8 133.3L469.4 130L465.6 126.5L448.9 119.7L436.8 117.1L431.2 117.5L424.6 119.4L420.6 122.2L419 125.5L419.8 128.8L422.2 132.2L427.4 136.6L433.4 140.2L444.5 144.5L457.8 145.8L460.1 146.6L457.5 153.3L457.4 156.7L458.8 160L462.5 163.3ZM469.7 163.3L465.6 161.7L462.3 158.9L461.2 155.6L462.2 152.2L464.5 149.7L468.4 147.8L473.3 147.2L477.8 147.7L482.2 149.5L485.5 152.2L487 155.6L486.3 158.9L484.2 161.1L480 163.1L475.5 163.8L470 163.4ZM443.1 142.2L435.6 139.5L428.9 135.5L424.5 131.1L423.5 128.8L423.5 126.6L424.6 124.4L426.8 122.5L432.3 120.3L439 119.7L446.7 120.8L456.7 124.1L463.3 127.7L466.2 131.1L467 135.5L464.5 139.7L460 142.1L452.3 143.2L443.4 142.3ZM806.9 163.9L807.7 164.4L815.3 164.4L811 162.2L808.6 158.9L809 155.6L811 153.3L816.9 150.6L825.8 149.5L833.5 150.7L839.1 153.6L841.2 156.7L840.6 160L838.6 162.2L834.3 164.4L842 164.4L845.7 161.1L846.8 157.8L845.7 154.4L842.4 151.1L836.9 148.5L829.1 147L820.2 147.1L812.5 148.8L806.9 151.6L803.6 155.6L803.1 157.8L803.6 160L806.1 163.3ZM596.4 162.4L608.5 162.8L621.8 161.6L636.2 158.7L647.3 155.1L655.6 150L658.8 146.6L660.8 143.3L660.7 141.1L659.5 139.8L651.8 137.5L638.5 136.9L621.8 138L595.2 141.6L585.3 143.7L583.9 144.4L582.6 146.6L581.7 152.2L582.4 155.6L584 157.8L587.3 160L595.3 162.2ZM601.9 158.9L595.5 156.7L594.3 155.6L593.7 153.3L596 150L602 146.6L610.8 143.8L623 141.5L634 140.6L644 141.1L649.6 142.7L651.4 144.4L651.5 145.5L650.6 147.8L648.3 150L642.3 153.3L631.9 156.7L620.7 158.7L610.8 159.5L601.9 158.9ZM361.4 157.8L370.2 158.5L379.1 157.8L385.8 156.1L389.9 153.3L391.4 148.9L389.9 143.3L385.8 139.8L379.1 137.7L369.1 137L359.2 138.1L352.5 140.6L347.8 144.4L345.6 148.9L347.2 152.2L352.7 155.6L361.2 157.8ZM365.3 153.3L360.9 152.2L357.3 150L356.4 147.8L357.6 145.5L361.1 143.3L364.7 142.3L374.7 142.1L379.4 143.3L382.4 145.2L383.7 147.8L383 150L379.6 152.2L375.8 153.2L365.8 153.4ZM205.1 152.3L215.1 152.5L228.4 150.5L238.4 147.2L242.8 144.7L245.6 142.2L246.9 140L247.2 137.8L246.2 135.5L243.9 133.3L235 128.7L225.1 126L198.5 124.8L182.9 121.8L171.9 121.9L142.1 127.7L135.3 130.7L130.7 134.4L129.9 136.6L130.2 137.8L132 139.4L135.3 140.7L146.4 141.8L166.3 140.2L170.8 140.4L178.1 144.4L183.8 146.6L204.8 152.2ZM203 150L193.4 147.8L184.7 144.4L181.5 142.2L178.5 137.9L176.3 136.9L171.9 136.5L155.2 138L147.5 137.9L142.9 136.6L141.7 135.5L142 133.3L144.7 131.1L150.8 128.5L158.6 126.5L169.6 124.9L177.4 125.1L192.9 127.6L214 127L224 127.7L232.9 130L240.6 134.3L242.4 137.8L241.9 140L240.6 141.9L235 145.6L226.2 148.7L214 150.4L204 150.1ZM717.2 151.3L721.6 151.7L722.7 150.7L723.2 147.8L721.5 141.1L716.1 133L709.4 126.5L701.6 120.7L692.8 115.6L678 108.8L677.8 107.7L683.9 106.4L705 106L716.1 104.4L719.5 103.3L722.2 101L722 99.9L720.8 98.8L718.3 97.7L708.4 95.5L683.9 91.9L679.5 90.4L665.1 83.7L655.1 81.3L648.4 81.6L643.5 83.2L639.4 86.6L638.3 89.9L638.9 92.1L640.4 94.4L645.1 97.8L663.5 104.4L670.8 107.7L670.9 108.8L668.7 113.3L669.8 118.8L673.7 126.6L680.1 133.3L693.5 141.1L706.7 145.5L716.7 151.1ZM699.2 141.1L695 138.9L693.8 136.6L694 135.5L696.1 133.7L699.4 132.6L706.1 133L710.9 135.5L711.9 137.8L711.6 138.9L710.5 140.1L707.2 141.5L699.4 141.1ZM681.1 101L658.4 99L651.8 97.5L647.2 95.5L643.9 92.1L643.5 89.9L644.5 87.7L649.6 84.7L656.2 84L666.3 86.6L679.5 94.8L699.4 98.8L700.1 99.9L696.7 101L681.7 101.1ZM341.4 125.6L352.5 125.6L359.2 124.2L364.2 122.2L367.2 120L372.5 112.6L379.5 105.5L379.7 101L375.2 91L373.5 85.5L371.8 72.1L370.2 69.2L367.3 66.6L356.4 66.6L363.6 69.9L368 74.5L371.7 88.8L375.3 98.8L375.5 102.2L374 105.5L364.7 115.8L360.3 118.8L354.7 120.6L343.7 121.4L332.6 118.8L315.9 109.6L310.7 105.5L308 102.2L306.4 98.8L305.5 94.4L305.4 89.9L306.4 85.5L312.6 77.5L316.2 71L321.9 66.6L315.8 66.6L307.1 73.5L296.6 78.8L293.8 81.4L292 84.4L290.9 89.9L292 95.5L295.1 101L299.5 105.5L306.2 109.9L328 121.1L334.8 123.9L341.1 125.5ZM816.9 122.2L824.7 122.2L830.2 121.2L833.2 120L834.5 117.7L830.6 112.2L829.2 105.5L825.5 99.9L820.2 96L807.3 88.8L803.6 85.5L800.1 76.6L798.7 66.6L794.9 66.6L798.4 82.1L799.7 85.5L804.5 89.9L816.6 96.6L822.6 101L825.1 105.5L825.1 107.7L823.6 109.5L820.2 110.1L813.6 108.6L795.8 100.4L789.2 98.4L784.8 98.1L774.8 99.1L767 99.2L759.3 98L753.7 95.7L750 92.1L747.9 86.6L746.1 73.2L746.4 69.9L747.6 66.6L742.9 66.6L742.5 68.8L745.4 94.4L746.8 96.6L749.3 98.4L757.1 100.6L770.4 101.7L787 100.5L794.6 102.2L814.3 112.2L815.1 113.3L814.8 114.4L809.8 118.8L810 120L811.6 121.1L816.2 122.2ZM94.3 121.2L104.2 122.1L112 121.4L119.8 118.7L122.5 116.6L124.2 114.1L126.6 105.5L126.9 102.2L126.3 99.9L124.4 97.7L119.8 94.7L115.3 92.5L109.8 91L100.9 90.7L92.1 92.4L83.2 96.1L79.1 99.9L78.1 103.3L78.1 107.7L78.7 112.2L79.9 114.6L82.1 116.8L85.4 118.7L93.7 121.1ZM98.7 117.7L92.1 116.3L86.4 113.3L83.4 108.8L83.3 103.3L85.4 99.8L91 96.4L97.6 94.5L105.4 94.2L112 95.5L118.5 98.8L121.7 103.3L121.7 107.7L119.3 112.2L114.4 115.5L107.6 117.5L99.8 117.8ZM191.8 117.8L198.5 117.5L204 116.1L208.4 113.8L210.6 111L210.6 108.8L208.4 105.5L204.7 103.3L199.6 101.9L192.9 101.8L187.4 102.9L182.9 104.8L180.1 107.7L179.9 111L181.8 113.8L186.3 116.4L191.5 117.7ZM190.4 112.2L188.2 109.9L189.5 107.7L194 106.7L197.4 107.4L200.3 109.9L200.2 111L198.8 112.2L195.1 112.9L190.7 112.3ZM631.8 111.2L638.5 111.8L645.1 110.8L648.3 108.8L648 107.7L645.1 106.3L638.5 105.5L630.7 106.6L628.6 107.7L628 108.8L628.7 109.9L631 111ZM437.9 105.6L442.3 105.6L447.3 104.4L455.6 101L458.8 98.8L460.1 96.6L459.9 93.2L457.8 91L453.4 89.3L447.8 88.8L443.4 89.6L440.1 91.2L436.3 94.4L433.4 97.7L432.3 101L434.5 104.3L437.4 105.5ZM557.6 103.4L565.3 103.7L572 102.7L574.7 101L575.3 99.9L575.2 97.7L570.6 92.1L552 77.6L550 74.3L548.6 66.6L545.7 66.6L546.7 69.9L547.2 77.7L548.4 79.9L551.1 82.1L565.3 90.3L569.1 93.2L571.7 96.6L571.9 98.8L570.9 100.2L568.6 101.3L564.2 102L557.6 101.8L549.8 100.5L535.4 95.8L527.2 91L519.7 83.2L506.6 77.2L502.1 74.3L499.4 71L498.9 68.8L499.6 66.6L494.8 66.6L494.3 69.9L495.9 73.2L498.8 76L510.9 83.2L519.2 89.9L525.4 93.9L538.7 99.4L547.6 101.8L556.8 103.3Z"/><path fill="#ccf5ff" fill-rule="evenodd" d="M67.7 164.4L159.9 164.4L157.4 158.9L157.8 154.4L161.3 150L166.3 147.6L171.9 147L178.5 147.8L195 152.2L209.5 157.1L216.2 157.5L227.3 156L239.5 152.7L248.3 148.3L251.7 145.5L253.9 142.5L254.5 138.9L253.3 136.6L249.1 133.3L240.6 128.9L227.3 124.2L210.6 122.2L207.3 121.1L207.4 120L214.4 114.4L215.6 112.2L215.5 108.8L213.6 105.5L210.6 103L206.2 100.7L200.7 99.2L195.1 98.8L189.6 99.4L182.1 101L176.7 103.3L174.4 106.6L173.5 116.6L169.6 118.8L158.6 122L149.7 123.4L141.9 123.3L136.4 121.7L132 118.8L129.6 114.4L129.7 108.8L132.8 99.9L132.6 97.7L120.4 89.9L114.2 85L110.9 84.1L104.2 85.1L92.1 88.4L74.3 95.5L72.9 96.6L72 98.8L72.8 106.6L72.1 110.7L69.9 113.9L66.6 115.9L66.6 124.7L77.6 123.5L89.8 124.3L102.6 126.6L106.5 128.1L109.2 130L110.2 132.2L108.3 135.5L96.1 141.1L95.8 142.2L104.1 146.6L106.7 148.9L107.7 151.1L106.9 154.4L102 158.3L95.4 160.7L82.1 162.8L66.6 162.6L66.6 164.4ZM204.8 152.2L183.8 146.6L178.1 144.4L170.8 140.4L166.3 140.2L146.4 141.8L135.3 140.7L132 139.4L130.2 137.8L129.9 136.6L130.7 134.4L135.3 130.7L142.1 127.7L171.9 121.9L182.9 121.8L198.5 124.8L225.1 126L235 128.7L243.9 133.3L246.2 135.5L247.2 137.8L246.9 140L245.6 142.2L242.8 144.7L238.4 147.2L228.4 150.5L215.1 152.5L205.1 152.3ZM93.7 121.1L85.4 118.7L82.1 116.8L79.9 114.6L78.7 112.2L78.1 107.7L78.1 103.3L79.1 99.9L83.2 96.1L92.1 92.4L100.9 90.7L109.8 91L115.3 92.5L119.8 94.7L124.4 97.7L126.3 99.9L126.9 102.2L126.6 105.5L124.2 114.1L122.5 116.6L119.8 118.7L112 121.4L104.2 122.1L94.3 121.2ZM191.5 117.7L186.3 116.4L181.8 113.8L179.9 111L180.1 107.7L182.9 104.8L187.4 102.9L192.9 101.8L199.6 101.9L204.7 103.3L208.4 105.5L210.6 108.8L210.6 111L208.4 113.8L204 116.1L198.5 117.5L191.8 117.8ZM353.6 163.4L361.4 164.4L379.1 164.4L385.8 163.6L391.3 161.3L393.5 158.5L395 154.4L395.5 146.6L394.6 142.9L393.1 140L386.9 135.1L375 130L373.4 127.7L373.3 121.1L374.8 116.6L378 113L384.7 109.6L385.7 107.7L383.8 101L378.2 92.1L375.9 85.5L375.6 77.7L377.9 66.6L367.3 66.6L370.2 69.2L371.8 72.1L373.5 85.5L375.2 91L379.7 101L379.5 105.5L372.5 112.6L365.8 121.2L360.3 123.8L351.4 125.8L340.3 125.4L328 121.1L302.5 107.7L297 103.3L293.6 98.8L291.6 94.4L290.9 89.9L291.5 85.5L293.2 82.1L296.6 78.8L307.1 73.5L315.8 66.6L287 66.6L282.9 71L280.5 76.8L279.5 84.4L280.5 93.2L283.5 101L287.7 107.7L290.1 109.9L294.3 112.2L317 119.5L346.5 133.3L347.4 135.5L346.3 137.8L342.3 142.2L333.3 150L332.4 152.2L334.5 155.6L339.2 158.7L345.9 161.5L353.5 163.3ZM361.2 157.8L352.7 155.6L347.2 152.2L345.6 148.9L347.8 144.4L352.5 140.6L359.2 138.1L369.1 137L379.1 137.7L385.8 139.8L389.9 143.3L391.4 148.9L389.9 153.3L385.8 156.1L379.1 157.8L370.2 158.5L361.4 157.8ZM455.6 163.7L456.2 164.4L464.6 164.4L459.7 161.1L457.4 156.7L457.5 153.3L460.1 146.6L457.8 145.8L444.5 144.5L433.4 140.2L427.4 136.6L422.2 132.2L419.8 128.8L419 125.5L420.6 122.2L424.6 119.4L429 117.9L435.6 117.1L440.1 117.4L447.8 119.4L463.9 125.5L468.5 128.8L470.5 132.2L471 135.5L468.9 142.2L469.5 143.3L482.2 146.9L486.6 149.8L489.5 153.3L490.6 156.7L489.8 160L487.7 162.3L484.2 164.4L493.8 164.4L495.2 160L493.5 154.4L487.7 147.7L477.6 141.1L476.5 138.9L475.5 131.1L473.6 127.7L470 125.5L447 116.6L443.8 114.4L443.4 113.3L443.7 112.2L446.3 109.9L461.1 103.2L466.1 99.9L468.4 96.6L470.4 91L470.7 87.7L469.4 84.4L465.6 81.6L457.8 79.6L448.9 79L443.4 80.2L437.9 84.1L425.5 97.7L424.5 99.9L424.8 105.5L422.3 108.7L414.6 111.4L399.1 112.3L397.2 113.3L407.9 121.3L417.3 131.1L424.3 136.6L434.5 142.6L450.3 150L451.2 151.1L452.9 158.9L455.3 163.3ZM437.4 105.5L434.5 104.3L432.3 101L433.4 97.7L436.3 94.4L440.1 91.2L443.4 89.6L447.8 88.8L453.4 89.3L457.8 91L459.9 93.2L460.1 96.6L458.8 98.8L455.6 101L447.3 104.4L442.3 105.6L437.9 105.6ZM563.1 163.6L566.1 164.4L639.6 164L650.7 160.7L669.5 143.8L673.9 141.5L679.5 140.6L689.4 142.6L700.7 147.8L706 152.2L712.7 162L715.6 164.4L746.7 164.4L739.3 159.4L734.3 153.3L732.2 146.6L732.9 140L734.9 137.6L738.2 135.9L761.3 130L760.5 128.8L748.2 123.4L743.3 120L741.4 117.7L740 114.4L740.8 109.9L744.1 106.6L750.4 104.6L787 103.6L791.4 104L795.9 105.5L803.7 109.9L805.7 112.2L799.7 118.8L799.2 121.1L800.4 125.5L800.1 126.6L797 128.2L785.2 131.1L786 132.2L790.3 133.3L797 133.8L812.5 130.5L819.1 130.2L824.8 132.2L828 135.5L829.2 137.8L828.9 138.9L826.7 140L811.4 142.9L805.8 145L802.5 147.2L798.3 152.2L795.5 157.8L795 161.1L796.2 164.4L807.7 164.4L805 162.2L803.2 158.9L803.6 155.6L805.1 153.3L808 150.9L813.6 148.4L824.7 146.8L835.8 148.1L840.2 149.8L843.8 152.2L846.3 155.6L846.6 158.9L844.8 162.2L842 164.4L873.4 164.4L873.4 163L864.6 162.6L860.1 161.5L854.6 156.1L851.4 150L851.3 147.8L852 146.6L854.6 145L862.6 142.2L863.7 141.1L853.5 136L851.8 134.4L851.1 132.2L853.5 128.8L857.8 126.6L864.6 124.7L873.4 123.6L873.4 94.8L870.2 97.7L870.6 108.8L869.4 112.2L867.3 114.4L861.2 117L854.6 118.3L849 118.3L844.6 117L839.1 114.1L835.8 111L830.2 99.2L828 96L822.4 92.4L811.4 87L806.9 83.4L804.5 79.9L802.6 75.4L802.1 71L802.7 66.6L798.7 66.6L799.8 75.4L802.8 84.4L805.8 87.7L821.3 96.7L826.9 101.5L829.6 106.6L830.6 112.2L834.5 117.7L833.5 119.7L831.3 120.8L821.3 122.4L816.2 122.2L811.6 121.1L810 120L809.8 118.8L814.8 114.4L815.1 113.3L814.3 112.2L797.1 103.3L791.4 101.1L785.9 100.5L773.7 101.6L763.7 101.4L753.7 100L748.2 97.7L746 95.5L744.9 92.1L742.6 71L742.9 66.6L736.3 66.6L740.3 76.6L741.1 85.5L740.4 88.8L738.3 92.1L736 93.7L732.7 94.6L718.3 93.9L690.6 90.2L679.5 87.3L658.4 79L652.9 78L647.3 78.2L641.8 80.1L637.4 82.8L634.9 85.5L633.7 88.8L633.8 91L635.3 94.4L643.6 102.2L640.7 103.2L627.4 105.2L624 106.6L622.3 108.8L622.7 109.9L625.2 111.7L631.8 113.5L639.6 113.9L651.8 112.7L654.4 113.3L656.3 115.5L658.5 121.1L658.2 124.4L656.2 126.1L650.7 127.4L640.7 128.1L605.2 127.2L591.9 131.9L581.9 133.2L574.2 132.6L567.5 130.7L562.8 127.7L559.8 124L557.6 123.2L539.8 125.8L534.3 127.8L532.8 131.1L533.8 134.4L546.5 152.8L553.1 159.3L562.4 163.3ZM595.3 162.2L587.3 160L584 157.8L582.4 155.6L581.7 152.2L582.6 146.6L583.9 144.4L585.3 143.7L595.2 141.6L621.8 138L638.5 136.9L651.8 137.5L659.5 139.8L660.7 141.1L660.8 143.3L658.8 146.6L655.6 150L647.3 155.1L636.2 158.7L621.8 161.6L608.5 162.8L596.4 162.4ZM716.7 151.1L706.7 145.5L693.5 141.1L680.1 133.3L673.7 126.6L669.8 118.8L668.7 113.3L670.9 108.8L670.8 107.7L663.5 104.4L645.1 97.8L640.4 94.4L638.9 92.1L638.3 89.9L639.4 86.6L643.5 83.2L648.4 81.6L655.1 81.3L665.1 83.7L679.5 90.4L683.9 91.9L708.4 95.5L718.3 97.7L720.8 98.8L722 99.9L722.2 101L719.5 103.3L716.1 104.4L705 106L683.9 106.4L677.8 107.7L678 108.8L692.8 115.6L701.6 120.7L709.4 126.5L716.1 133L721.5 141.1L723.2 147.8L722.7 150.7L721.6 151.7L717.2 151.3ZM631 111L628.7 109.9L628 108.8L628.6 107.7L630.7 106.6L638.5 105.5L645.1 106.3L648 107.7L648.3 108.8L645.1 110.8L638.5 111.8L631.8 111.2ZM558.7 108.8L567.5 108.6L575.3 106.9L579.6 104.4L580.9 101L579 96.6L570.9 86.6L557.6 78.4L554 75.4L552.3 72.1L551.8 66.6L548.6 66.6L549.8 73.6L551.1 76.6L570.9 92.3L575.2 97.7L575.3 99.9L573.2 102.2L569.8 103.3L564.2 103.8L553.1 102.8L543.2 100.7L533.2 97.5L525.4 93.9L519.2 89.9L510.9 83.2L497.7 75.1L494.6 71L494.2 68.8L494.8 66.6L473.1 66.6L473.3 67.7L475.3 73.2L479.9 77.7L503.2 86.9L525.4 101.7L539.8 106.1L558.5 108.8Z"/><path fill="#ffdd33" fill-rule="evenodd" d="M403.5 164.2L409 164.4L404.3 158.9L402.5 153.3L402.4 136.6L403.5 134.4L404.6 134L409 134.2L415.7 136.8L427.9 143.3L434.3 147.8L437.6 151.1L440.5 155.6L442.1 160L442.4 164.4L447.7 164.4L445.7 156.7L441.4 150L435.6 145.5L396.7 121.1L389.8 117.7L384.7 117.4L381.6 120L381.8 123.3L384.5 126.6L394.6 135.2L397.3 138.9L398.9 144.4L399.5 157.8L402.7 163.3ZM179.6 162.2L185.2 162.3L189.6 161.3L192.4 160L194.2 157.8L192.7 155.6L190.4 154.4L180.7 152.1L173.8 152.2L171.5 153.3L170 155.6L170.4 157.8L172.6 160L179.6 162.2ZM518.8 162.3L527.6 162.1L534.3 159.6L537.1 155.6L537.3 152.2L536.4 148.9L534.1 144.4L524.1 130L520 113.3L517 106.6L513.4 101L509.3 96.6L504.4 93L498.8 90.5L492.2 88.9L484.4 89.1L478.9 91.3L475.5 94.1L468.9 102.1L453.4 110.9L452 112.2L451.6 114.4L453.8 116.6L461.4 120L467.8 121.7L477.8 123.1L480.6 124.4L482.6 127.7L483.9 138.9L487.9 144.4L501 156.9L508.8 160.3L518 162.2ZM514 157.8L507.7 156.1L502.1 153.6L496.6 149.5L491.7 144.4L488.7 138.9L488 134.4L488.1 126.6L487.5 124.4L485.7 122.2L481 120L467.8 117.7L465.2 116.6L463 114.4L462.8 112.2L464 109.9L472.2 103.1L480 95.1L486.6 92.5L494.4 92.6L498.8 93.9L503.2 96.2L509.3 102.2L512.4 108.8L517.4 126.6L528.5 142.2L531.4 147.8L531.6 152.2L530.6 154.4L528.7 156.1L522.1 158.2L514.3 157.8ZM677.3 162.4L683.9 162.8L690.6 162L696.2 160L699.4 157.1L699.6 154.4L697.2 151L692.1 147.8L686.1 145.9L681.7 145.6L676.2 146.7L670.6 149.6L666.9 153.3L666.5 156.7L668.3 158.9L671.7 160.8L676.6 162.2ZM758.2 162.3L767 162.4L777 160.6L784.8 156.9L789 152.2L789.9 148.9L789.5 146.6L786.1 142.2L779.2 138.5L770.4 136.4L760.4 136L750.4 137.5L742.7 140.4L740 142.2L738.3 144.4L737.7 146.6L738.1 150L741.9 155.6L748.2 159.6L757.8 162.2ZM757.4 158.9L750.4 156.9L745.1 153.3L742.8 148.9L743.6 145.5L747.6 142.2L753.7 140L761.5 139L769.2 139.4L775.9 141.2L781.2 144.4L783.2 147.8L783.2 150L782.2 152.2L778.5 155.6L772.6 158L765.9 159.2L758.2 159ZM79.9 156.7L89.5 155.6L92.3 154.4L94.5 152.2L94.1 150L92.1 148.5L87.6 147L82.1 146.3L75.4 146.6L71 147.7L68.6 148.9L66.8 151.1L67.7 153.3L69.9 154.7L74.3 156.1L79.6 156.7ZM871.2 155.8L873.4 156.2L873.4 146.6L866.8 148.8L864.8 151.1L865.7 153.3L870.1 155.6ZM311.5 143.3L324.8 144.3L329.2 143.8L333.7 142.3L336.8 140L338 137.8L337.8 135.5L334.9 132.2L326.1 126.6L315.9 121.8L285.9 113.3L282 109.9L277.9 102.2L273.8 96.3L266.1 89.2L242.8 75.8L233.9 72.5L225.1 70.4L204 68.9L195.1 69.3L184 70.8L169.6 69.8L161.9 70.4L156.3 71.9L146.4 76.6L131.1 81L127.7 84.4L127.7 86.6L129.4 88.8L133.1 91L139.7 93L155.2 94.2L165.2 97L170.8 97.8L178.5 98L194 95.7L205.2 97.7L211.8 100.3L217.1 104.4L220.2 108.8L222.2 115.5L224 118.1L248.3 129.9L260.5 133.7L273.8 133.6L279.4 134.3L298.2 140.5L311.3 143.3ZM309.7 140L297.1 136.9L279.4 130.4L272.7 129.6L258.3 129.5L251.7 128L245.3 125.5L237.9 121.1L232.5 114.4L219.5 101.6L215.1 98.8L210.6 97.1L191.8 92.2L178.5 94.3L170.8 93.8L154.1 89.1L149.7 86.9L147.8 84.4L147.9 83.2L149.8 81L157.4 76.7L163 74.7L169.6 74.2L184 75.5L201.8 72.6L215.1 73.6L231.7 78.3L256.1 88.2L263.8 92.2L268.4 95.5L272.7 99.8L275.6 104.4L279.2 112.2L282.9 115.5L288.2 117.4L311.5 122.8L318.3 125.5L326 130L330.3 134.4L330.7 136.6L328.9 138.9L325.9 140.1L321.5 140.8L310.4 140.1ZM76.5 136.7L87.6 136.9L93.2 135.8L96.4 134.4L97.6 133.3L97.5 131.1L94.3 129.2L89.8 128.1L78.8 127.6L70.1 130L68.8 131.1L68.7 133.3L72.1 135.5L76.4 136.6ZM871.2 135.8L873.4 136.4L873.4 128.2L869 129.5L866.8 131.1L866.7 133.3L870.2 135.5ZM575.3 130.1L583.1 130.7L590.8 128.8L593.4 126.6L593.3 124.4L591.9 123.1L588.6 121.6L584.2 120.9L578.6 121L571 123.3L569.8 124.5L569.5 126.6L571.8 128.8L574.8 130ZM767 121.2L773.7 121.7L779.2 121.3L784.8 120L788.1 118.2L790.9 115.5L791.5 112.2L789.2 109.9L785.4 108.8L765.9 109.1L760.4 109.8L757.1 111L755.4 113.3L756.5 116.6L760.4 119.2L766.4 121.1ZM143 120L149.7 120.8L156.8 120L163.2 117.7L167.4 114.4L169 109.9L168.1 104.4L165.2 100.8L160.8 98.3L153 96.9L146.4 97L140.8 99.3L135.9 103.3L133.5 107.7L133.1 111L133.6 113.3L136.4 116.9L142.9 120ZM146.8 117.7L142.7 116.6L139.2 114.4L137.2 111L137.5 107.7L139.9 104.4L143.9 102.2L148.6 101.1L154.1 101.2L158.6 102.4L161.9 104.4L164.1 107.7L164.1 111L161.7 114.4L157.9 116.6L153 117.8L147.5 117.8ZM844.6 111.2L852.4 112L857 111L860.1 109.5L861.7 107.7L862.1 105.5L861.1 103.3L857.6 101L849 100L843.5 100.8L840.2 102.2L838.8 104.4L839.4 106.6L841.3 109L844.4 111ZM398 108.9L410.2 109.2L414.6 108.3L418.2 106.6L419.9 104.4L419.6 99.9L420.3 97.7L427.1 91L431.2 84.4L431.6 81L430.9 78.8L427.2 74.3L420.1 70.2L411.3 67.5L399.1 66.7L388 68.4L384.7 69.8L381.6 72.1L378.5 77.7L377.9 81L378.2 85.5L381.3 93.2L387.3 99.9L390.3 105.5L393.5 107.6L397.8 108.8ZM400.1 106.6L394.6 104.4L391 98.8L383.6 92.5L380.7 86.6L380.6 79.9L383.6 74.7L389.1 71.5L399.1 69.7L409 70.3L416.8 72.5L423.4 76.5L426.6 81L426.6 85.5L423.3 91L415.4 97.7L415.4 102.2L414.4 104.4L409 106.6L400.2 106.6ZM608.5 104.4L613 105L616.3 104.6L624.5 102.2L628.6 99.9L629.3 97.7L627.9 91L628 87.7L631.9 79.9L632.4 77.7L631.6 76.6L628.5 74.9L613 71.2L604.4 66.6L596.4 66.6L601.8 71L603.1 74.3L602.7 76.6L598.6 79.8L590.8 81.5L577.5 80.8L570.9 79.3L565.3 77.2L560.9 74.3L559.3 72.1L558.9 68.8L560.3 66.6L555.5 66.6L555 69.9L555.9 73.2L559.8 76.9L566.4 80.3L581.8 85.5L584.6 87.7L588 93.2L592.6 97.7L599.7 101.5L608.3 104.4ZM713.8 91.1L723.8 91.5L730.5 90.8L734.7 88.8L737.1 85.3L737.3 78.8L736 75.2L733.8 72.1L728.2 68.5L721 66.6L684.4 66.6L676.2 68.4L669.5 70.8L665.1 73.2L663.5 75.4L664.7 77.7L668.1 79.9L680.6 85.1L695 88.4L713.1 91ZM714.1 88.8L700.5 86.9L683.9 83.5L676.9 81L672.6 77.7L672.8 75.9L674.4 74.3L683.9 70.6L696.1 68.7L708.3 68.7L718.3 69.9L725.9 72.1L730.5 75L732.9 78.8L733.2 81L732.7 83.9L729.4 87.2L723.8 88.7L714.9 88.9ZM67.7 88.7L77.6 87.1L88.7 83.7L97.6 79.5L104.8 74.3L108.5 69.9L109.3 66.6L91.9 66.6L93.5 68.8L93.4 72.1L91.9 74.3L89 76.6L84.3 78.6L78.8 80L66.6 80.7L66.6 88.8ZM852.4 87.8L862.4 88.8L873.4 87.6L873.4 80.5L854.6 80.5L832.4 82.3L824.7 82.1L818 81L812.5 78.6L810.5 76.6L809.4 74.3L809.3 72.1L810 69.9L814 66.6L807.4 66.6L805.3 71L805.5 74.3L806.8 77.7L811.4 82L820.2 84.7L842.4 86.1L851.8 87.7Z"/><path fill="#ff6e00" fill-rule="evenodd" d="M407.9 163.5L409 164.4L414.2 164.4L408.5 158.9L406.2 153.3L407 145.5L408.3 142.2L410.2 140.4L413.5 140.1L419 141.7L426.4 145.5L430.9 148.9L434 152.2L436.7 156.7L437.7 161.1L437.2 164.4L442.4 164.4L442.4 162.2L440.5 155.6L435.5 148.9L427.9 143.3L414.6 136.3L407.9 134L403.5 134.4L402.4 136.6L402.6 154.4L404.3 158.9L407.8 163.3ZM758.2 159L765.9 159.2L772.6 158L778.5 155.6L782.2 152.2L783.2 150L783.2 147.8L781.2 144.4L775.9 141.2L769.2 139.4L761.5 139L753.7 140L747.6 142.2L743.6 145.5L742.8 148.9L745.1 153.3L750.4 156.9L757.4 158.9ZM760.7 155.6L756 154.7L752.6 153.2L750.3 151.1L749.7 147.8L751.5 145.5L756 143.5L764.8 142.6L769.2 143.3L773.7 145.3L775.7 147.8L775.8 150L774.3 152.2L770.4 154.4L761.5 155.6ZM514.3 157.8L522.1 158.2L528.7 156.1L530.6 154.4L531.6 152.2L531.4 147.8L528.5 142.2L517.4 126.6L512.4 108.8L509.3 102.2L503.2 96.2L498.8 93.9L494.4 92.6L486.6 92.5L480 95.1L472.2 103.1L464 109.9L462.8 112.2L463 114.4L465.2 116.6L467.8 117.7L481 120L485.7 122.2L487.5 124.4L488.1 126.6L488 134.4L488.7 138.9L491.7 144.4L496.6 149.5L502.1 153.6L507.7 156.1L514 157.8ZM511 154.4L505.5 152.5L501 150L497.1 146.6L493.7 142.2L492.3 138.9L491.9 135.5L492.6 131.1L494.6 125.5L494.3 123.3L493.4 122.2L487.6 118.8L474.5 114.4L471.5 111L471.6 108.8L473 106.6L482.2 97.2L488.8 95L495.5 95.5L502.2 98.8L505.4 102.2L507.2 105.5L508.4 112.2L507.7 116.6L505.9 121.1L506.3 123.3L514.3 129.8L519.9 135.5L525.1 142.2L527.3 146.6L527.1 151.1L524.3 153.9L518.8 155.3L512.1 154.7ZM310.4 140.1L321.5 140.8L325.9 140.1L328.9 138.9L330.7 136.6L330.3 134.4L326 130L318.3 125.5L311.5 122.8L288.2 117.4L282.9 115.5L279.2 112.2L275.6 104.4L272.7 99.8L268.4 95.5L263.8 92.2L256.1 88.2L231.7 78.3L215.1 73.6L201.8 72.6L184 75.5L169.6 74.2L163 74.7L157.4 76.7L149.8 81L147.9 83.2L147.8 84.4L149.7 86.9L154.1 89.1L170.8 93.8L178.5 94.3L191.8 92.2L210.6 97.1L215.1 98.8L219.5 101.6L232.5 114.4L237.9 121.1L245.3 125.5L251.7 128L258.3 129.5L272.7 129.6L279.4 130.4L297.1 136.9L309.7 140ZM309.7 136.6L299.6 134.4L280.5 127L258.3 125.2L248.3 122.5L243.9 119.6L238.4 112.3L228.4 101L224.9 98.8L189.6 88.8L185.2 88.5L177.4 89.8L173 89.9L164.6 87.7L159.8 85.5L159 84.4L159.8 82.1L163.7 79.9L167.3 78.8L181.8 79.2L198.5 74.9L209.5 74.8L222.8 77.8L229.8 81L238.4 86.6L252.8 89.7L262.7 94.1L267.2 97.2L270.8 101L273.5 105.5L277.1 114.4L280.5 118L286 120.4L302.1 123.3L310.3 125.5L315.3 127.7L320 131.1L321.4 133.3L320.4 135.6L317 136.7L310.4 136.7ZM147.5 117.8L153 117.8L157.9 116.6L161.7 114.4L164.1 111L164.1 107.7L161.9 104.4L158.6 102.4L154.1 101.2L148.6 101.1L143.9 102.2L139.9 104.4L137.5 107.7L137.2 111L139.2 114.4L142.7 116.6L146.8 117.7ZM147.6 112.2L145.4 109.9L145.3 108.8L146.4 107.2L149.7 105.8L154.1 106.2L156.3 107.6L156.9 108.8L156.2 111L153 112.6L148.6 112.5ZM400.2 106.6L409 106.6L414.4 104.4L415.4 102.2L415.4 97.7L423.3 91L426.6 85.5L426.6 81L423.4 76.5L416.8 72.5L409 70.3L399.1 69.7L389.1 71.5L383.6 74.7L380.6 79.9L380.7 86.6L383.6 92.5L391 98.8L394.6 104.4L400.1 106.6ZM400.5 102.2L398.9 101L397.7 98.8L389.1 94.5L385.4 91L383 85.5L383.5 79.9L386.9 75.6L392.4 73.1L401.3 72L410.2 73.1L415.7 75.1L420.1 78L422.8 82.1L422.9 85.5L421.3 88.8L419 91.4L409.1 97.7L408.7 101L407.9 101.7L404.6 102.5L401.3 102.4ZM714.9 88.9L723.8 88.7L729.4 87.2L732.7 83.9L733.2 81L732.9 78.8L730.5 75L725.9 72.1L718.3 69.9L708.3 68.7L696.1 68.7L683.9 70.6L674.4 74.3L672.8 75.9L672.6 77.7L676.9 81L683.9 83.5L700.5 86.9L714.1 88.8ZM709.1 85.5L686.9 81L683.9 79.8L681.9 77.7L683.9 75.3L691.7 72.9L700.5 71.9L710.5 72.3L716.1 73.3L722.1 75.4L725.2 77.7L726.5 81L725.5 83.2L721.6 85.3L716.1 85.9L709.4 85.5ZM825.8 82.2L836.9 82.2L854.6 80.5L873.4 80.5L873.4 66.6L814 66.6L810.8 68.8L809.5 71L809.2 73.2L810.5 76.6L812.8 78.8L815.8 80.3L825.1 82.1ZM825.8 78.8L821.2 77.7L817.5 75.4L816.5 72.1L818.1 69.9L822.4 68L828 66.9L841.3 67.1L853 69.9L854.6 71L854.8 72.1L853.9 73.2L847.6 76.6L841.3 78.3L834.6 79.2L826.9 78.9ZM579.7 81.1L593 81.2L598.6 79.8L601.9 77.7L603 75.4L602.5 72.1L599.7 68.8L596.4 66.6L588.4 66.6L593 68.8L595.3 71L595.9 73.2L594.7 75.4L590.4 77.7L583.1 78.6L574.9 77.7L568.8 75.4L565.7 73.2L564.4 71L564.8 68.8L567.6 66.6L560.3 66.6L558.9 68.8L558.9 71L559.9 73.2L562.3 75.4L569.8 79L579.1 81ZM67.7 80.7L79.9 79.8L89 76.6L91.9 74.3L93.4 72.1L93.5 68.8L91.9 66.6L66.6 66.6L66.6 80.7Z"/><path fill="#ff0000" fill-rule="evenodd" d="M413.5 163.9L414.2 164.4L437.2 164.4L437.7 161.1L436.7 156.7L434 152.2L429.6 147.8L424.6 144.4L416.8 140.9L412.4 140L409 141.2L406.7 146.6L406.2 153.3L407.9 158L412.8 163.3ZM422.6 163.3L416.2 160L413.5 156.9L412.4 154.4L412.4 151.5L413.6 148.9L415.7 147.4L419 147.3L423.1 148.9L426.3 151.1L430.4 156.7L430.7 160L429.5 162.2L426.8 163.6L423.4 163.5ZM761.5 155.6L770.4 154.4L774.3 152.2L775.8 150L775.7 147.8L773.7 145.3L769.2 143.3L764.8 142.6L756 143.5L751.5 145.5L749.7 147.8L750.3 151.1L752.6 153.2L756 154.7L760.7 155.6ZM512.1 154.7L518.8 155.3L524.3 153.9L527.1 151.1L527.3 146.6L525.1 142.2L519.9 135.5L514.3 129.8L506.3 123.3L505.9 121.1L507.7 116.6L508.4 112.2L507.2 105.5L505.4 102.2L502.2 98.8L495.5 95.5L488.8 95L482.2 97.2L473 106.6L471.6 108.8L471.5 111L474.5 114.4L487.6 118.8L493.4 122.2L494.3 123.3L494.6 125.5L492.6 131.1L491.9 135.5L492.3 138.9L493.7 142.2L497.1 146.6L501 150L505.5 152.5L511 154.4ZM511.7 152.2L505.5 150L501 147.1L497.5 143.3L495.7 138.9L495.7 135.5L497.7 131.9L501 130.3L506.6 130.4L512.1 132.5L516.6 135.7L521.3 141.1L523.6 145.5L523.6 148.9L521.9 151.1L517.7 152.6L512.1 152.3ZM493.8 116.6L487.7 115.6L481.1 113.3L478 111L477.1 108.8L478.3 105.5L483.1 99.9L486.6 98L491.1 97.3L495.5 98.1L499.3 99.9L502.6 103.3L504 106.6L503.9 111L502.1 113.8L498.8 115.9L494.4 116.6ZM310.4 136.7L317 136.7L320.4 135.6L321.4 133.3L320 131.1L315.3 127.7L310.3 125.5L302.1 123.3L286 120.4L280.5 118L277.1 114.4L273.5 105.5L270.8 101L267.2 97.2L262.7 94.1L252.8 89.7L238.4 86.6L229.8 81L222.8 77.8L209.5 74.8L198.5 74.9L181.8 79.2L167.3 78.8L163.7 79.9L159.8 82.1L159 84.4L159.8 85.5L164.6 87.7L173 89.9L177.4 89.8L185.2 88.5L189.6 88.8L224.9 98.8L228.4 101L238.4 112.3L243.9 119.6L248.3 122.5L258.3 125.2L280.5 127L299.6 134.4L309.7 136.6ZM263.6 122.2L253.9 120.7L248.3 118.2L245 115.2L237.4 105.5L235.7 99.9L236.6 94.4L240.6 91.8L247.2 91.1L255 92.5L261.5 95.5L267.2 99.9L270.5 104.4L274.4 116.6L274.4 120L273.2 121.1L270.5 121.9L263.8 122.2ZM215.1 94.4L207.3 92.6L199.4 89.9L190.2 85.5L188.5 83.2L188.7 82.1L191.1 79.9L197.4 77.2L204 76.2L211.8 76.6L219.5 78.5L225.2 81L229.8 84.4L232.5 88.8L232.5 91L231.7 92.1L228.4 93.8L222.8 94.9L216.2 94.5ZM148.6 112.5L153 112.6L156.2 111L156.9 108.8L156.3 107.6L154.1 106.2L149.7 105.8L146.4 107.2L145.3 108.8L145.4 109.9L147.6 112.2ZM401.3 102.4L404.6 102.5L407.9 101.7L408.7 101L409.1 97.7L419 91.4L421.3 88.8L422.9 85.5L422.8 82.1L420.1 78L415.7 75.1L410.2 73.1L401.3 72L392.4 73.1L386.9 75.6L383.5 79.9L383 85.5L385.4 91L389.1 94.5L397.7 98.8L398.9 101L400.5 102.2ZM395.6 94.4L390.5 92.1L387.4 88.8L386 84.4L387.1 79.9L390.2 77L395.7 75L402.4 74.5L408.8 75.4L414.2 77.7L417.9 81L418.9 84.4L417.9 87.7L414.6 91.2L409 93.9L402.4 95.1L395.7 94.4ZM709.4 85.5L716.1 85.9L721.6 85.3L725.5 83.2L726.5 81L725.2 77.7L722.1 75.4L716.1 73.3L710.5 72.3L700.5 71.9L691.7 72.9L683.9 75.3L681.9 77.7L683.9 79.8L686.9 81L709.1 85.5ZM826.9 78.9L834.6 79.2L841.3 78.3L847.6 76.6L853.9 73.2L854.8 72.1L854.6 71L853 69.9L841.3 67.1L828 66.9L822.4 68L818.1 69.9L816.5 72.1L817.5 75.4L821.2 77.7L825.8 78.8ZM575.3 77.8L586.4 78.4L590.8 77.6L594.7 75.4L595.9 73.2L595.3 71L593 68.8L588.4 66.6L567.6 66.6L565.8 67.7L564.4 69.9L565.7 73.2L568.8 75.4L574.9 77.7Z"/><path fill="#a02020" fill-rule="evenodd" d="M423.4 163.5L426.8 163.6L429.5 162.2L430.7 160L430.4 156.7L426.3 151.1L423.1 148.9L419 147.3L415.7 147.4L413.6 148.9L412.4 151.5L412.4 154.4L413.5 156.9L416.2 160L422.6 163.3ZM512.1 152.3L517.7 152.6L521.9 151.1L523.6 148.9L523.6 145.5L521.3 141.1L516.6 135.7L512.1 132.5L506.6 130.4L501 130.3L497.7 131.9L495.7 135.5L495.7 138.9L497.5 143.3L501 147.1L505.5 150L511.7 152.2ZM513.1 150L508.8 149L504.4 146.7L501.7 144.4L499.6 141.1L499.3 137.8L500.6 135.5L503.2 134.2L506.6 134L511 135.3L514.3 137.2L517.3 140L519.5 143.3L520.1 146.6L518.8 148.8L516.6 149.8L513.2 150ZM263.8 122.2L270.5 121.9L273.2 121.1L274.4 120L274.4 116.6L270.5 104.4L267.2 99.9L261.5 95.5L255 92.5L247.2 91.1L240.6 91.8L236.6 94.4L235.7 99.9L237.4 105.5L245 115.2L248.3 118.2L253.9 120.7L263.6 122.2ZM256.3 118.8L251.7 117.1L247.2 113.7L241.5 106.6L239.7 102.2L240.3 97.7L242.8 94.9L247.2 93.5L252.8 93.9L259.9 96.6L265.5 101L268.4 105.5L270.3 112.2L270.2 116.6L268.3 118.5L263.8 119.5L257.2 119ZM494.4 116.6L498.8 115.9L502.1 113.8L503.9 111L504 106.6L502.6 103.3L499.3 99.9L495.5 98.1L491.1 97.3L486.6 98L483.1 99.9L478.3 105.5L477.1 108.8L478 111L481.1 113.3L487.7 115.6L493.8 116.6ZM487.2 112.2L484.4 110.9L482.5 108.8L482.3 106.6L483.2 104.4L485.1 102.2L487.7 100.6L491.1 100L494.4 100.5L497.6 102.2L499.5 104.4L500.2 107.7L499.4 109.9L497.7 111.6L494.4 112.8L487.7 112.3ZM216.2 94.5L222.8 94.9L228.4 93.8L231.7 92.1L232.5 91L232.5 88.8L229.8 84.4L225.2 81L219.5 78.5L211.8 76.6L204 76.2L197.4 77.2L191.1 79.9L188.7 82.1L188.5 83.2L190.2 85.5L199.4 89.9L207.3 92.6L215.1 94.4ZM212 92.1L204.3 89.9L199.5 87.7L196.1 85.5L194.8 83.2L195.9 81L200.2 78.8L206.2 77.9L212.9 78.5L218.4 79.9L223.1 82.1L226 84.4L227.7 87.7L227 89.9L223.4 92.1L218.4 92.8L212.9 92.3ZM395.7 94.4L402.4 95.1L409 93.9L414.6 91.2L417.9 87.7L418.9 84.4L417.9 81L414.2 77.7L408.8 75.4L402.4 74.5L395.7 75L390.2 77L387.1 79.9L386 84.4L387.4 88.8L390.5 92.1L395.6 94.4ZM397 91L394.3 89.9L391.9 87.7L390.9 85.5L391.3 82.1L393.4 79.9L396.8 78.5L401.3 78L405.7 78.4L409.7 79.9L412.3 82.1L413.1 84.4L412.6 86.6L410.6 88.8L406.8 90.7L402.4 91.5L398 91.2Z"/><path fill="#ff69b4" fill-rule="evenodd" d="M513.2 150L516.6 149.8L518.8 148.8L520.1 146.6L519.5 143.3L517.3 140L514.3 137.2L511 135.3L506.6 134L503.2 134.2L500.6 135.5L499.3 137.8L499.6 141.1L501.7 144.4L504.4 146.7L508.8 149L513.1 150ZM257.2 119L263.8 119.5L268.3 118.5L270.2 116.6L270.3 112.2L268.4 105.5L265.5 101L259.9 96.6L252.8 93.9L247.2 93.5L242.8 94.9L240.3 97.7L239.7 102.2L241.5 106.6L247.2 113.7L251.7 117.1L256.3 118.8ZM487.7 112.3L494.4 112.8L497.7 111.6L499.4 109.9L500.2 107.7L499.5 104.4L497.6 102.2L494.4 100.5L491.1 100L487.7 100.6L485.1 102.2L483.2 104.4L482.3 106.6L482.5 108.8L484.4 110.9L487.2 112.2ZM212.9 92.3L218.4 92.8L223.4 92.1L227 89.9L227.7 87.7L226 84.4L223.1 82.1L218.4 79.9L212.9 78.5L206.2 77.9L200.2 78.8L195.9 81L194.8 83.2L196.1 85.5L199.5 87.7L204.3 89.9L212 92.1ZM398 91.2L402.4 91.5L406.8 90.7L410.6 88.8L412.6 86.6L413.1 84.4L412.3 82.1L409.7 79.9L405.7 78.4L401.3 78L396.8 78.5L393.4 79.9L391.3 82.1L390.9 85.5L391.9 87.7L394.3 89.9L397 91Z"/>
<use href="#map" transform="translate(0,0)"/>
<line x1="71.0" y1="115.5" x2="869.0" y2="115.5" stroke="#008000" stroke-width="1.2" stroke-dasharray="4.7,5.3"/>
<line x1="470.0" y1="71" x2="470.0" y2="160.0" stroke="#008000" stroke-width="1.2" stroke-dasharray="4.3,5.7" stroke-dashoffset="5.1"/>
</g>
<rect x="71.0" y="71" width="798.0" height="89.0" fill="none" stroke="#000" stroke-width="2"/>
<path d="M71.0 71v-4M71.0 160.0v4M104.2 71v-2M104.2 160.0v2M137.5 71v-2M137.5 160.0v2M170.8 71v-4M170.8 160.0v4M204.0 71v-2M204.0 160.0v2M237.2 71v-2M237.2 160.0v2M270.5 71v-4M270.5 160.0v4M303.8 71v-2M303.8 160.0v2M337.0 71v-2M337.0 160.0v2M370.2 71v-4M370.2 160.0v4M403.5 71v-2M403.5 160.0v2M436.8 71v-2M436.8 160.0v2M470.0 71v-4M470.0 160.0v4M503.2 71v-2M503.2 160.0v2M536.5 71v-2M536.5 160.0v2M569.8 71v-4M569.8 160.0v4M603.0 71v-2M603.0 160.0v2M636.2 71v-2M636.2 160.0v2M669.5 71v-4M669.5 160.0v4M702.8 71v-2M702.8 160.0v2M736.0 71v-2M736.0 160.0v2M769.2 71v-4M769.2 160.0v4M802.5 71v-2M802.5 160.0v2M835.8 71v-2M835.8 160.0v2M869.0 71v-4M869.0 160.0v4M71.0 71.0h-4M869.0 71.0h4M71.0 82.1h-2M869.0 82.1h2M71.0 93.2h-2M869.0 93.2h2M71.0 104.4h-2M869.0 104.4h2M71.0 115.5h-4M869.0 115.5h4M71.0 126.6h-2M869.0 126.6h2M71.0 137.8h-2M869.0 137.8h2M71.0 148.9h-2M869.0 148.9h2M71.0 160.0h-4M869.0 160.0h4" stroke="#000" stroke-width="1.6" fill="none"/>
<text transform="translate(68.60,65.60) scale(0.993,1.048)" font-size="28">14-Nov-2011 to 18-Nov-2011</text>
<text transform="translate(871.50,65.60) scale(0.993,1.048)" font-size="28" text-anchor="end">Observed</text>
<text transform="translate(50.00,80.90) scale(1.0,1.053)" font-size="28" text-anchor="end">20N</text>
<text transform="translate(50.00,125.40) scale(1.0,1.053)" font-size="28" text-anchor="end">0</text>
<text transform="translate(50.00,169.90) scale(1.0,1.053)" font-size="28" text-anchor="end">20S</text>
<g clip-path="url(#c1)">
<rect x="71.0" y="208" width="798.0" height="89.0" fill="#ffffcc"/>
<path fill="#8a2be2" fill-rule="evenodd" d="M455.6 290.4L463.4 290.1L466.2 289.2L468.7 287L468.5 284.8L467.4 283.6L461.1 281.6L453.4 282.1L450 283.6L449 284.8L448.9 287L449.8 288.1L455.3 290.3ZM194 282.6L205.3 282.5L209.5 281.3L212.9 279.1L214.4 275.9L213.1 272.5L209.5 270.3L205.1 269.1L198.5 268.7L192.9 269.3L187.4 271.2L184.2 273.6L183.6 277L185.3 279.2L189.4 281.4L193.6 282.5ZM400.2 261.4L405.7 262.2L411.3 261.5L415.7 259.6L418.6 257L420.1 253.6L419.7 250.3L417.2 246.9L412.9 244.7L407.9 244.2L403.5 245L399.9 246.9L396.8 250.1L395 253.6L394.8 257L396.1 259.2L400 261.4ZM640.7 232.6L655.1 233.3L659.5 232.3L661.7 230.2L660.2 226.9L654.2 222.5L648.4 219.4L642.9 217.8L637.4 217.5L631.8 218.1L626.5 220.2L624.7 222.5L625.2 225.7L627.4 228L631.8 230.4L639.8 232.5Z"/><path fill="#000090" fill-rule="evenodd" d="M452.3 292.7L458.9 293.4L464.5 292.9L469.7 291.4L473.2 289.2L474.5 287L473.8 283.6L471.1 281.4L465.6 279.5L460 278.8L453.4 279.1L448.3 280.3L444.5 282.5L442.9 284.8L443.4 288.1L445.9 290.3L451.5 292.6ZM455.3 290.3L449.8 288.1L448.9 287L449 284.8L450 283.6L453.4 282.1L461.1 281.6L467.4 283.6L468.5 284.8L468.7 287L466.2 289.2L463.4 290.1L455.6 290.4ZM194 285.9L202.9 286.1L210.6 284.8L215.9 282.5L219.2 279.2L220.4 274.8L219.9 272.5L218.2 270.3L212.9 267.5L205.1 265.8L196.2 265.6L187.4 267.1L180 270.3L176.9 273.6L176.7 277L180.7 281.4L186.3 284.2L193.9 285.9ZM193.6 282.5L189.4 281.4L185.3 279.2L183.6 277L184.2 273.6L187.4 271.2L192.9 269.3L198.5 268.7L205.1 269.1L209.5 270.3L213.1 272.5L214.4 275.9L212.9 279.1L209.5 281.3L205.3 282.5L194 282.6ZM399.1 265L405.7 265.8L413.5 264.7L419 262.3L423.5 258.1L425.1 253.6L424.1 248L420.2 243.6L414.6 241L407.9 240.4L401.3 241.7L395.7 244.6L392.6 248L389.8 254.7L390.1 259.2L393.1 262.5L398.2 264.7ZM400 261.4L396.1 259.2L394.8 257L395 253.6L396.8 250.1L399.9 246.9L403.5 245L407.9 244.2L412.9 244.7L417.2 246.9L419.7 250.3L420.1 253.6L418.6 257L415.7 259.6L411.3 261.5L405.7 262.2L400.2 261.4ZM184 247L192.9 247.6L197.9 246.9L200.1 245.8L200.4 244.7L198.5 242.5L191.8 240.3L184 239.9L178.4 241.4L177.4 242.5L178.4 244.7L183.9 246.9ZM646.2 235.8L655.1 235.9L661.7 235.1L665.3 233.6L666.3 232.5L666.7 230.2L663.5 225.8L652.9 218.4L646.2 215.8L639.6 214.9L630.7 215.4L624.1 217.3L620 220.2L619.1 222.5L619.4 224.7L622.8 229.1L628.8 232.5L636.7 234.7L646.2 235.8ZM639.8 232.5L631.8 230.4L627.4 228L625.2 225.7L624.7 222.5L626.5 220.2L631.8 218.1L637.4 217.5L642.9 217.8L648.4 219.4L654.2 222.5L660.2 226.9L661.7 230.2L659.5 232.3L655.1 233.3L640.7 232.6ZM525.4 231.7L532.1 232.2L538.8 230.2L540.1 229.1L540.8 226.9L538.7 224.7L536.5 223.9L528.7 223.4L523.2 225.3L521.1 228L522.3 230.2L524.4 231.4ZM742.7 220.4L746 221.2L750.4 220.9L754.8 219.4L758.8 216.9L761.9 213.6L763.8 210.2L763.8 206.9L761.5 204.6L757.2 203.5L752.6 203.9L747.1 205.6L743.3 208L740.4 211.3L739.4 214.7L740.1 218L742.3 220.2Z"/><path fill="#4169e1" fill-rule="evenodd" d="M695 296.1L701.6 296.4L707.2 295.9L712.7 293.9L715 291.4L714.9 289.2L712.7 286.8L708.3 284.5L701.6 282.7L696.1 282.5L691.7 283.2L687.4 284.8L684.8 287L684.2 290.3L685.8 292.6L689.8 294.8L693.9 295.9ZM453.4 294.9L461.1 295.2L467.8 294.3L473.3 292.4L477.3 289.2L478.1 287L478.1 284.8L476 281.4L471.9 279.2L464.5 277.5L456.7 277L448.9 277.9L443.4 279.9L440 282.5L438.9 284.8L438.9 287L441.1 290.3L445.6 293L452.4 294.8ZM451.5 292.6L445.9 290.3L443.4 288.1L442.9 284.8L444.5 282.5L448.3 280.3L453.4 279.1L460 278.8L465.6 279.5L471.1 281.4L473.8 283.6L474.5 287L473.2 289.2L469.7 291.4L464.5 292.9L458.9 293.4L452.3 292.7ZM192.9 288.2L202.9 288.5L212.9 287L219.5 283.9L222.8 280.1L224.1 277L224.4 273.6L223.9 271.4L222.4 269.2L216.2 265.6L206.2 263.5L195.1 263.3L185.2 264.9L177 268.1L172.1 272.5L171.3 274.8L171.8 277L177.4 282.6L184 286.4L192.1 288.1ZM193.9 285.9L186.3 284.2L180.7 281.4L176.7 277L176.9 273.6L180 270.3L187.4 267.1L196.2 265.6L205.1 265.8L212.9 267.5L218.2 270.3L219.9 272.5L220.4 274.8L219.2 279.2L215.9 282.5L210.6 284.8L202.9 286.1L194 285.9ZM359.2 286L370.2 286.3L374.7 285.5L378 284L379.5 282.5L379.9 280.3L377.4 278.1L373.6 276.9L363.6 276.3L358.6 277L354.7 278.4L352.6 280.3L352.5 282.5L355.1 284.8L358.5 285.9ZM400.2 268.2L409 268.4L416.8 266.7L423.4 263.2L427.8 258.1L429 252.5L427.1 245.8L422.3 240.7L415.7 238L407.9 237.7L399.1 239.6L393.4 242.5L389.1 247.7L386.2 255.8L386.1 259.2L386.9 261.4L391.3 265.3L399.7 268.1ZM398.2 264.7L393.1 262.5L390.1 259.2L389.8 254.7L392.6 248L395.7 244.6L401.3 241.7L407.9 240.4L414.6 241L420.2 243.6L424.1 248L425.1 253.6L423.5 258.1L419 262.3L413.5 264.7L405.7 265.8L399.1 265ZM190.7 251.4L214.4 250.3L216.3 249.2L209.1 242.5L205.5 240.3L198.5 237.9L187.4 236.4L179.6 236.5L174.1 237.7L170.1 240.3L168.7 243.6L169.9 245.8L174.1 248.2L181.4 250.3L189.7 251.4ZM183.9 246.9L178.4 244.7L177.4 242.5L178.4 241.4L184 239.9L191.8 240.3L198.5 242.5L200.4 244.7L200.1 245.8L197.9 246.9L192.9 247.6L184 247ZM794.7 248.1L802.5 248.2L812.7 245.8L827.2 239.2L829.7 236.9L829.1 236.5L825.8 236.1L817.8 236.9L804.4 240.3L794.7 244.7L793.4 246.9L794.7 248ZM75.4 245.1L79.9 245.3L81.7 244.7L82.4 243.6L79.6 242.5L76.5 242.5L74.3 243.6L74.7 244.7ZM873.4 245.1L873.4 242.9L872.3 243.6L872.7 244.7ZM268.3 238.1L277.2 238.5L284.9 237.4L292.2 234.7L296.1 231.4L297.1 229.1L297.1 226.9L295.1 223.6L290 220.2L281.9 218L272.7 217.6L265 218.7L258.2 221.4L254.2 224.7L253 226.9L252.9 229.1L254.8 232.5L259.9 235.8L268 238ZM637.4 237L648.4 238L660.6 237.7L667.3 236.4L669.5 235.3L670.9 233.6L671.1 231.4L670 229.1L665.5 224.7L654 216.5L645.1 213.4L635.1 212.7L626.3 213.8L618.5 216.7L615.2 220.2L615.5 224.7L619.8 230.2L627.4 234.4L637.2 236.9ZM646.2 235.8L636.7 234.7L628.8 232.5L622.8 229.1L619.4 224.7L619.1 222.5L620 220.2L624.1 217.3L630.7 215.4L639.6 214.9L646.2 215.8L652.9 218.4L663.5 225.8L666.7 230.2L666.3 232.5L665.3 233.6L661.7 235.1L655.1 235.9L646.2 235.8ZM528.7 234.7L539 233.6L543.8 231.4L545.8 229.1L545.9 225.8L543.8 223.6L539.8 221.9L534.3 221L527.6 221.1L522.1 222.4L517.9 224.7L516.1 226.9L516.6 230.2L518.8 232.1L522.1 233.6L528.3 234.7ZM524.4 231.4L522.3 230.2L521.1 228L523.2 225.3L528.7 223.4L536.5 223.9L538.7 224.7L540.8 226.9L540.1 229.1L538.8 230.2L532.1 232.2L525.4 231.7ZM740.4 224.8L744.9 225.4L750.4 224.7L756 222.8L760.4 220.2L764.8 216L768.2 211.3L769.7 206.9L769 203.6L757.2 203.5L760.4 204.2L763 205.8L764 208L763.3 211.3L761.1 214.7L757.3 218L752.8 220.2L748.2 221.2L743.8 220.8L740.8 219.1L739.4 215.8L739.9 212.4L742.1 209.1L744.9 206.8L749.5 204.7L755.3 203.6L743.1 203.6L740.4 205.2L735.9 210.2L734.4 216.9L734.9 220.2L736 222.2L739.9 224.7ZM427.9 214.8L431.4 214.7L433.4 212.5L433.2 210.2L431.2 208.3L427.9 208.6L425.6 210.2L425.2 212.4L427.4 214.7Z"/><path fill="#1e90ff" fill-rule="evenodd" d="M691.7 300.3L701.6 301L711.6 299.9L719.4 297.3L723 293.7L723.4 289.2L722.2 287L719.9 284.8L712.7 281.2L702.8 278.5L693.9 278L685 279.6L678.4 282.6L674.2 287L673.7 289.2L674.2 291.4L676.9 294.8L682.9 298.1L691.7 300.3ZM693.9 295.9L689.8 294.8L685.8 292.6L684.2 290.3L684.8 287L687.4 284.8L691.7 283.2L696.1 282.5L701.6 282.7L708.3 284.5L712.7 286.8L714.9 289.2L715 291.4L712.7 293.9L707.2 295.9L701.6 296.4L695 296.1ZM456.7 297L466.7 296.5L474.4 294.4L479.2 291.4L481.2 287L480.5 282.5L477.1 279.2L470 276.8L460 275.5L451.2 275.7L443.4 277.4L438 280.3L436 282.5L435.2 284.8L436 289.2L440.1 292.9L446.7 295.5L456.4 297ZM452.4 294.8L445.6 293L441.1 290.3L438.9 287L438.9 284.8L440 282.5L443.4 279.9L448.9 277.9L456.7 277L464.5 277.5L471.9 279.2L476 281.4L478.1 284.8L478.1 287L477.3 289.2L473.3 292.4L467.8 294.3L461.1 295.2L453.4 294.9ZM100.9 290.6L106.5 291.4L112 290.3L116.4 287.6L119.5 283.6L120.7 278.1L119.5 273.6L116.4 269.7L112 267.3L106.5 266.3L100.9 267L96.5 269.3L92.8 273.6L91.6 278.1L92.7 283.6L95.4 287.3L100.3 290.3ZM190.7 290.3L202.9 290.8L214 289.3L221.7 286L225.7 281.4L227.9 273.6L227.5 270.3L226.2 267.9L223.7 265.8L219.5 263.8L207.3 261.1L195.1 260.7L181.8 263.1L173 266.7L167.3 272.5L166.5 274.8L167.4 277L177.4 285.8L182.9 288.7L190.7 290.3ZM192.1 288.1L184 286.4L177.4 282.6L171.8 277L171.3 274.8L172.1 272.5L177 268.1L185.2 264.9L195.1 263.3L206.2 263.5L216.2 265.6L222.4 269.2L223.9 271.4L224.4 273.6L224.1 277L222.8 280.1L219.5 283.9L212.9 287L202.9 288.5L192.9 288.2ZM357 289.2L364.7 289.8L372.5 289.5L379.1 288.2L383.6 286.2L386.9 282.5L387.8 280.3L387.6 278.1L384.7 275.4L379.1 273.9L369.1 273L360.3 273.4L352.5 274.8L347.5 277L345.1 280.3L345.1 282.5L346 284.8L350.3 287.6L356.9 289.2ZM358.5 285.9L355.1 284.8L352.5 282.5L352.6 280.3L354.7 278.4L358.6 277L363.6 276.3L373.6 276.9L377.4 278.1L379.9 280.3L379.5 282.5L378 284L374.7 285.5L370.2 286.3L359.2 286ZM395.7 270.5L406.8 271.3L416.8 269.8L424.6 266.4L429.9 261.4L432.2 254.7L432.1 250.3L431.2 246.6L426.8 238.9L423.4 236.3L420.1 235.1L411.3 234.8L400.3 236.9L392.4 240.2L388 244.3L383.5 254.7L382.9 261.4L383.8 263.6L386.9 266.6L394.8 270.3ZM399.7 268.1L391.3 265.3L386.9 261.4L386.1 259.2L386.2 255.8L389.1 247.7L393.4 242.5L399.1 239.6L407.9 237.7L415.7 238L422.3 240.7L427.1 245.8L429 252.5L427.8 258.1L423.4 263.2L416.8 266.7L409 268.4L400.2 268.2ZM802.5 266L812.1 265.8L819.1 263.6L820 262.5L820 261.4L819 260.3L811.4 258L801.4 258L794.6 260.3L793.8 262.5L794.7 263.6L801.6 265.8ZM229.5 258.2L237.2 259L244.5 258.1L246.1 257L246.3 255.8L244.3 253.6L239.1 251.4L222.8 246.8L210.4 239.2L199.6 235.8L182.9 234.3L176.3 234.7L171.9 235.8L167.9 238L165.1 241.4L164.4 244.7L166.7 248L173 250.7L184 253.2L194 254.3L211.8 253.9L228.6 258.1ZM189.7 251.4L181.4 250.3L174.1 248.2L169.9 245.8L168.7 243.6L170.1 240.3L174.1 237.7L179.6 236.5L187.4 236.4L198.5 237.9L205.5 240.3L209.1 242.5L216.3 249.2L214.4 250.3L190.7 251.4ZM788.1 252.6L794.7 252.7L805.8 250.5L816.9 247.1L834.6 239.8L843.5 237.6L850.2 236.7L855.7 237.3L861.2 239.3L862.5 240.3L866.8 247.2L870.1 249.2L873.4 250L873.4 245.1L872.3 243.6L873.4 242.9L873.4 222.3L870.1 221L865.7 220.4L860.1 221L844.6 228L811.3 235.8L793.6 241.4L787.2 244.7L784.9 246.9L784.6 250.3L787.9 252.5ZM794.7 248L793.4 246.9L794.7 244.7L804.4 240.3L817.8 236.9L825.8 236.1L829.1 236.5L829.7 236.9L827.2 239.2L812.7 245.8L802.5 248.2L794.7 248.1ZM77.6 250.3L84.3 250.4L90.7 249.2L94.4 246.9L94.9 244.7L91 241.4L81 238L79.4 236.9L81.7 231.4L80.5 226.9L75.8 222.5L69.9 220.6L66.6 220.4L66.6 244.3L69.9 248L77.1 250.3ZM74.7 244.7L74.3 243.6L76.5 242.5L79.6 242.5L82.4 243.6L81.7 244.7L79.9 245.3L75.4 245.1ZM266.1 241.5L278.3 242L289.3 240.4L298.2 236.9L303.3 232.5L304.5 230.2L304.7 226.9L303.3 223.6L301.3 221.4L293.8 217L283.8 214.5L272.7 214L261.6 215.6L253.2 219.1L246.9 224.7L245.6 228L245.7 230.2L248.6 234.7L256.1 239L265.2 241.4ZM268 238L259.9 235.8L254.8 232.5L252.9 229.1L253 226.9L254.2 224.7L258.2 221.4L265 218.7L272.7 217.6L281.9 218L290 220.2L295.1 223.6L297.1 226.9L297.1 229.1L296.1 231.4L292.2 234.7L284.9 237.4L277.2 238.5L268.3 238.1ZM639.6 239.2L652.9 240L666.2 239.4L673.9 237.6L676.2 236L676.6 234.7L675.2 231.4L672.4 228L657.3 216.2L651.8 213L644 211L632.9 210.6L621.8 212.3L614 215.8L611.7 218L611 220.2L611.6 223.6L613.3 226.9L618.6 232.5L627.4 236.6L638.9 239.2ZM637.2 236.9L627.4 234.4L619.8 230.2L615.5 224.7L615.2 220.2L618.5 216.7L626.3 213.8L635.1 212.7L645.1 213.4L654 216.5L665.5 224.7L670 229.1L671.1 231.4L670.9 233.6L669.5 235.3L667.3 236.4L660.6 237.7L648.4 238L637.4 237ZM523.2 235.9L529.8 236.6L537.6 235.9L544.3 233.8L548 231.4L550 228L549.3 224.7L545.4 221.6L539.8 219.9L532.1 219.1L525.4 219.6L518.8 221.3L514.3 223.8L512 226.9L512.3 230.2L516 233.6L522.6 235.8ZM528.3 234.7L522.1 233.6L518.8 232.1L516.6 230.2L516.1 226.9L517.9 224.7L522.1 222.4L527.6 221.1L534.3 221L539.8 221.9L543.8 223.6L545.9 225.8L545.8 229.1L543.8 231.4L539 233.6L528.7 234.7ZM738.2 228.1L743.8 228.6L749.3 228L754.8 226.4L760.4 223.5L765.5 219.1L770.1 213.6L773.3 208L774.1 203.6L769 203.6L769.7 206.9L768.2 211.3L764.8 216L760.4 220.2L753.7 223.8L744.9 225.4L738.2 224L736.2 222.5L734.9 220.2L734.4 215.8L735.9 210.2L738.5 206.9L743.1 203.6L737.5 203.6L734.9 206L732.7 209.4L731.4 213.6L730.9 219.1L731.3 222.5L732.7 225.2L734.9 227L737.8 228ZM429 221.4L434.5 220.3L439.6 216.9L445.3 208L446.1 205.8L445.8 203.6L411.4 203.6L410.6 205.8L411.1 208L416 214.7L422.3 219.5L428.6 221.4ZM427.4 214.7L425.2 212.4L425.6 210.2L427.9 208.6L431.2 208.3L433.2 210.2L433.4 212.5L431.4 214.7L427.9 214.8ZM318.2 211.4L328.1 211.7L335.9 210.2L341.4 206.9L342 204.7L341.4 203.6L308.8 203.6L307.3 205.8L308.2 208L312.3 210.2L317.4 211.3Z"/><path fill="#a0d2ff" fill-rule="evenodd" d="M676.2 300.5L678.6 301.4L722.7 301.1L725.8 299.2L727.6 297L728.6 293.7L728.5 289.2L726 284.5L719.2 280.3L707.2 276.2L696.1 274.3L685 275.3L675 278.4L670.6 280.9L667.4 283.6L665.3 287L664.9 289.2L665.3 291.4L667.4 294.8L670.6 297.6L675.7 300.3ZM691.7 300.3L682.9 298.1L676.9 294.8L674.2 291.4L673.7 289.2L674.2 287L678.4 282.6L685 279.6L693.9 278L702.8 278.5L712.7 281.2L719.9 284.8L722.2 287L723.4 289.2L723 293.7L719.4 297.3L711.6 299.9L701.6 301L691.7 300.3ZM447.8 298.2L456.7 299.2L466.7 298.8L475.5 296.8L481.5 293.7L483.1 291.4L483.8 289.2L483.3 281.4L480.3 278.1L473.3 275.7L461.1 274L450 273.9L441.2 275.5L434.5 278.8L432.4 281.4L431.5 283.6L431.4 287L432.4 290.3L434.5 292.8L437.9 295L447.4 298.1ZM456.4 297L446.7 295.5L440.1 292.9L436 289.2L435.2 284.8L436 282.5L438 280.3L443.4 277.4L451.2 275.7L460 275.5L470 276.8L477.1 279.2L480.5 282.5L481.2 287L479.2 291.4L474.4 294.4L466.7 296.5L456.7 297ZM99.8 296.2L107.6 296.9L115.3 295L121.1 291.4L125.2 285.9L127.3 278.1L125.9 271.4L122 266.5L115.3 263.5L104.2 261.3L96.5 262L89.9 265.8L85.8 271.4L84.7 274.8L84.3 279.2L86.3 285.9L88.6 289.2L92.1 292.5L98.8 295.9ZM100.3 290.3L95.4 287.3L92.7 283.6L91.6 278.1L92.8 273.6L96.5 269.3L100.9 267L106.5 266.3L112 267.3L116.4 269.7L119.5 273.6L120.7 278.1L119.5 283.6L116.4 287.6L112 290.3L106.5 291.4L100.9 290.6ZM199.6 293.7L215.1 292.2L219.5 290.9L224 288.5L228.4 282.8L231.3 273.6L231.1 268.1L228.3 262.5L249.4 260.6L252.8 259L253.5 258.1L253.4 255.8L251.6 253.6L248 251.4L226.3 244.7L218 239.2L211.8 236.5L198.5 233.7L181.8 232.5L174.1 233L168.7 234.7L164.1 238L161.8 241.4L160.8 245.8L161.4 248L163 249.8L167.4 252L180.9 255.8L183.6 257L184 258.1L169.6 264.2L162.2 273.6L161.8 275.9L179.6 290.9L188.5 293L199.5 293.7ZM190.7 290.3L182.9 288.7L177.4 285.8L167.4 277L166.5 274.8L167.3 272.5L173 266.7L181.8 263.1L195.1 260.7L207.3 261.1L219.5 263.8L223.7 265.8L226.2 267.9L227.5 270.3L227.9 273.6L225.7 281.4L221.7 286L214 289.3L202.9 290.8L190.7 290.3ZM228.6 258.1L211.8 253.9L194 254.3L184 253.2L173 250.7L166.7 248L164.4 244.7L165.1 241.4L167.9 238L171.9 235.8L176.3 234.7L182.9 234.3L199.6 235.8L210.4 239.2L222.8 246.8L239.1 251.4L244.3 253.6L246.3 255.8L246.1 257L244.5 258.1L237.2 259L229.5 258.2ZM625.2 293.9L631.8 294.2L638.7 292.6L640.6 290.3L639.6 288.9L636.2 287.5L631.8 287L626.8 288.1L623.2 291.4L623 292.6L624.4 293.7ZM806.9 293.7L811.4 293.7L815.2 292.6L827.3 285.9L830.1 283.6L830.4 281.4L829.1 280.3L822.4 278L815.5 277L808 276.8L801.4 277.8L798.3 279.2L797.4 280.3L797.5 282.5L800.9 289.2L803.6 292.4L806.6 293.7ZM352.5 291.5L368 292.5L381.3 290.9L385.4 289.2L388.4 287L391.2 283.6L394.6 277.7L396.8 275.7L400.3 274.8L420.1 272.4L425.7 270.3L430.1 267.3L433.9 262.5L435.4 257L435.4 250.3L433.5 240.3L434 236.9L438.3 231.4L439.1 224.7L446.6 215.8L452.8 206.9L454.1 203.6L445.8 203.6L446.1 205.8L445.3 208L439.6 216.9L434.5 220.3L429 221.4L422.3 219.5L416 214.7L411.1 208L410.6 205.8L411.4 203.6L403.9 203.6L404 205.8L405.6 209.1L418.8 223.6L419.9 226.9L417.9 229L415.4 230.2L393.5 237.3L387.3 241.4L383.8 246.9L379.8 258.1L379 262.5L379.9 268.1L379.1 269.2L353.6 271.9L346.7 273.6L342.5 275.9L340.9 278.1L340.3 280.3L340.3 283.6L341.4 286.7L344.8 289.3L352.4 291.4ZM356.9 289.2L350.3 287.6L346 284.8L345.1 282.5L345.1 280.3L347.5 277L352.5 274.8L360.3 273.4L369.1 273L379.1 273.9L384.7 275.4L387.6 278.1L387.8 280.3L386.9 282.5L383.6 286.2L379.1 288.2L372.5 289.5L364.7 289.8L357 289.2ZM394.8 270.3L386.9 266.6L383.8 263.6L382.9 261.4L383.5 254.7L388 244.3L392.4 240.2L400.3 236.9L411.3 234.8L420.1 235.1L423.4 236.3L426.8 238.9L431.2 246.6L432.1 250.3L432.2 254.7L429.9 261.4L424.6 266.4L416.8 269.8L406.8 271.3L395.7 270.5ZM800.3 268.1L808 268.5L816.9 267.6L823.7 265.8L827.9 263.6L829 261.4L828.4 260.3L825.8 258.6L819.1 256.6L807.3 254.7L807.2 253.6L829.7 243.6L838 241.1L846.8 240.5L854.6 241.9L859 244.2L865.7 251L873.4 253L873.4 250L870.1 249.2L866.5 246.9L862.4 240.1L856.8 237.7L851.3 236.7L844.6 237.4L834.6 239.8L814.7 247.9L799.2 252L792.5 252.9L788.1 252.6L785.5 251.4L784.3 249.2L785.8 245.8L788.9 243.6L803.3 238L843.5 228.4L860.1 221L866.8 220.4L873.4 222.3L873.4 213.9L862.4 213.5L852.4 215.4L845.7 218.5L838.1 224.7L832.1 228L794.1 239.2L782.6 244.1L779.2 248L778.6 252.5L779.5 255.8L782.8 259.2L784.3 262.5L789.7 265.8L800.2 268.1ZM801.6 265.8L794.7 263.6L793.8 262.5L794.6 260.3L801.4 258L811.4 258L819 260.3L820 261.4L820 262.5L819.1 263.6L812.1 265.8L802.5 266ZM73.2 252.7L83.2 253.3L92.1 252.2L97.6 250L99.9 248L101.1 245.8L100.6 242.5L96.5 238L96.4 236.9L99.1 230.2L98.6 226.9L97.4 224.7L94.3 221.4L89.8 218.4L78.8 214.4L66.6 213.4L66.6 220.4L73.3 221.4L78.7 224.7L81 227.8L81.7 230.2L81.4 232.5L79.4 236.9L92.9 242.5L94.3 243.7L94.9 245.8L93.1 248L89.8 249.4L85.4 250.3L78.8 250.4L71 248.6L68.5 246.9L66.6 244.3L66.6 250.2L72.3 252.5ZM708.3 252.5L710.5 252L712.7 250.5L714.8 245.8L714.3 243.6L713 242.5L709.4 241.6L704.1 242.5L702.6 243.6L701.8 245.8L703.6 250.3L706.1 252L708.1 252.5ZM262.7 244.7L272.7 245.3L284.9 244.5L294.9 242.8L302.2 240.3L306.1 238L309.9 234.7L312.5 229.1L311.4 223.6L304.4 214.7L307.1 214.1L327 214.5L337 213.1L342 211.3L345.9 209.1L348.7 205.8L348.8 203.6L341.4 203.6L342 205.8L340.3 208L335.9 210.2L330.4 211.4L321.5 211.7L313.7 210.6L308.2 208L307.3 205.8L308.8 203.6L299.9 203.6L298.2 206.9L298.2 210.9L297.1 211.6L279.4 210.3L270.5 210.4L261.6 211.7L253.9 214.3L247.6 218L242.4 222.5L239.2 226.9L238.5 231.4L241.1 235.8L246.1 239.5L253.9 242.8L262.5 244.7ZM265.2 241.4L256.1 239L248.6 234.7L245.7 230.2L245.6 228L246.9 224.7L253.2 219.1L261.6 215.6L272.7 214L283.8 214.5L293.8 217L301.3 221.4L303.3 223.6L304.7 226.9L304.5 230.2L303.3 232.5L298.2 236.9L289.3 240.4L278.3 242L266.1 241.5ZM640.7 241.5L656.2 242.2L675 241.4L685 239.4L687.1 238L687.4 236.9L685.4 234.7L666.7 221.4L656.2 212.7L650.7 209.8L644 208.3L631.8 207.8L619.6 209.6L609.9 213.6L607.3 215.8L606.4 218L607.1 221.4L610.1 226.9L613 230.9L616.3 233.9L626.3 238.4L639.8 241.4ZM638.9 239.2L627.4 236.6L618.6 232.5L613.3 226.9L611.6 223.6L611 220.2L611.7 218L614 215.8L621.8 212.3L632.9 210.6L644 211L651.8 213L657.3 216.2L672.4 228L675.2 231.4L676.6 234.7L676.2 236L673.9 237.6L666.2 239.4L652.9 240L639.6 239.2ZM524.3 238.1L533.2 238.3L542 236.8L548.7 233.9L552.4 230.2L553.4 225.8L552.6 223.6L550.9 221.8L545.4 219.3L537.6 217.8L527.6 217.4L519.9 218.5L513.2 221L508.6 224.7L507.4 226.9L507.3 229.1L508.1 231.4L509.9 233.2L515.4 236.2L523.8 238ZM522.6 235.8L516 233.6L512.3 230.2L512 226.9L514.3 223.8L518.8 221.3L525.4 219.6L532.1 219.1L539.8 219.9L545.4 221.6L549.3 224.7L550 228L548 231.4L544.3 233.8L537.6 235.9L529.8 236.6L523.2 235.9ZM734.9 231.6L740.4 232.2L747.1 231.8L753.7 230.2L759.3 227.6L764.8 223.3L770.4 217L775.8 209.1L778.4 203.6L774.1 203.6L773.3 208L770.1 213.6L765.5 219.1L760.4 223.5L752.6 227.2L742.7 228.6L736 227.5L733.3 225.8L731.7 223.6L730.9 218L732 211.3L734.1 206.9L737.5 203.6L732.4 203.6L730.5 206.5L729.2 210.2L727.7 223.6L728.2 226.9L729.4 228.7L733.9 231.4Z"/><path fill="#ccf5ff" fill-rule="evenodd" d="M74.3 301.4L226.5 301.4L237.3 265.8L239.5 264.6L252.8 262.8L257.2 261.3L258.5 260.3L259.4 258.1L257.7 251.4L259.4 250.1L308.2 245L314.6 243.6L323.5 240.3L326.8 238L328.1 235.6L328.4 230.2L326.9 221.4L327.4 220.2L341.4 214.9L348.1 211.6L352.8 208L355.6 203.6L348.8 203.6L348.7 205.8L345.9 209.1L341.4 211.6L335.9 213.3L325.9 214.6L307.1 214.1L304.4 214.7L311.9 224.7L312.6 228L311.9 231.4L309.9 234.7L306 238.1L300.4 241.1L294.9 242.8L278.3 245.1L262.7 244.7L250.6 241.6L245 238.8L241.1 235.8L238.5 231.4L238.5 229.1L239.8 225.8L246.1 219.1L255 213.8L261.6 211.7L270.5 210.4L298 211.3L298.5 205.8L299.9 203.6L259.8 203.6L242.8 216.4L225.1 232.9L219.5 233.7L181.8 230.6L175.2 230.8L169.6 231.9L164.1 234.7L159.9 239.2L157.9 243.6L156.1 251.4L154.1 254.3L149.7 256.4L141.9 258.7L126.4 260.9L118.7 260L111.3 258.1L106.9 255.8L104.8 252.5L107.8 244.7L110.9 240.4L119.8 232.7L129.8 225.8L131.8 223.6L131.3 221.4L123.1 211.3L119.8 203.6L66.6 203.6L66.6 213.4L75.4 213.9L83.7 215.8L91.1 219.1L96.6 223.6L98.6 226.9L99.1 230.2L96.4 236.9L96.5 238L100.6 242.5L101.3 244.7L99.9 248L97.6 250L93.2 251.9L88.7 252.9L75.4 253L69.9 252L66.6 250.2L66.6 287L73.2 290.2L76.5 293.7L77.1 295.9L76.7 298.1L73.9 301.4ZM149.8 298.1L143 296.5L136.4 293.2L133.6 290.3L132.7 285.9L134 282.5L136.4 280L144.9 275.9L144.7 274.8L140.8 272L139 269.2L138.9 267L140.8 264L144.2 261.8L147.5 260.6L153 259.9L158.6 260.6L160.8 261.7L162.5 263.6L162.8 267L160.8 270.3L154.7 274.8L154.3 275.9L163 280.1L168 283.6L171.5 288.1L172.1 292.6L169.6 296.6L165.2 298.7L158.6 299.1L150.8 298.4ZM98.8 295.9L92.1 292.5L88.6 289.2L86.3 285.9L84.3 279.2L84.7 274.8L85.8 271.4L89.9 265.8L96.5 262L104.2 261.3L115.3 263.5L122 266.5L125.9 271.4L127.3 278.1L125.2 285.9L121.1 291.4L115.3 295L107.6 296.9L99.8 296.2ZM199.5 293.7L188.5 293L179.6 290.9L161.8 275.9L162.2 273.6L169.6 264.2L184 258.1L183.6 257L180.9 255.8L167.4 252L163 249.8L161.4 248L160.8 245.8L161.8 241.4L164.1 238L168.7 234.7L174.1 233L181.8 232.5L198.5 233.7L211.8 236.5L218 239.2L226.3 244.7L248 251.4L251.6 253.6L253.4 255.8L253.5 258.1L252.8 259L249.4 260.6L228.3 262.5L231.1 268.1L231.3 273.6L228.4 282.8L224 288.5L219.5 290.9L215.1 292.2L199.6 293.7ZM331.5 301.4L386.3 301.4L390.6 291.4L399.1 280.2L404.6 277.6L414.6 276.8L423.4 277.5L425.7 278.9L426.4 280.3L426.7 292.6L424.9 301.4L490.8 301.4L487.4 292.6L486.7 287L486.9 279.2L485.5 276.5L481.1 274.9L470 273.2L442.3 270.8L440.1 269.9L439.1 268.1L438.5 244.7L439 241.3L441.2 238.2L448 232.5L448.8 230.2L448.5 223.6L455 212.4L460 207.5L466.6 203.6L454.1 203.6L452.8 206.9L446.6 215.8L439.1 224.7L438.3 231.4L434.5 235.9L433.5 239.2L435.5 251.4L435 259.2L433.3 263.6L430.1 267.3L424.6 270.8L419 272.7L398 275.3L395.2 277L389.1 286.3L384.7 289.6L376.9 291.8L365.8 292.5L353.6 291.7L348.1 290.5L343.7 288.7L341.4 286.7L340.3 283.6L340.3 280.3L341.5 277L344.8 274.5L351.4 272.4L379.1 269.2L379.9 268.1L379 262.5L379.8 258.1L383.8 246.9L387.3 241.4L393.5 237.3L415.4 230.2L417.9 229L419.9 226.9L418.8 223.6L405.6 209.1L404 205.8L403.9 203.6L397.2 203.6L399.8 208L411.1 221.4L411.9 224.7L410.9 226.9L406 230.2L390.2 236.7L385.2 240.3L382.3 244.7L375.8 260L373.6 263.8L371.4 265.8L366.9 267.4L344.8 271.5L340.3 273L337.5 274.8L336.1 278.1L334.4 292.6L331.1 301.4ZM447.4 298.1L437.9 295L434.5 292.8L432.4 290.3L431.4 287L431.5 283.6L432.4 281.4L434.5 278.8L441.2 275.5L450 273.9L461.1 274L473.3 275.7L480.3 278.1L483.3 281.4L483.8 289.2L483.1 291.4L481.5 293.7L475.5 296.8L466.7 298.8L456.7 299.2L447.8 298.2ZM610.8 301.2L678.6 301.4L671.7 298.3L667.4 294.8L665 290.3L665.8 285.9L669.8 281.4L676.2 277.9L685 275.3L695 274.3L701.6 274.9L709.4 276.8L718.3 279.9L723.8 282.7L727.8 287L728.7 292.6L728.1 295.9L726.8 298.1L721.9 301.4L734.3 301.4L732.6 288.1L730.5 283.3L728.2 281.1L723.8 278.7L700.5 270L695 269L688.3 269.5L659.8 273.6L651.8 278.9L647.3 280.4L625.2 281.1L620.7 282L614.1 285.9L609.2 291.4L608 295.9L610 300.3ZM624.4 293.7L623 292.6L623.2 291.4L626.8 288.1L631.8 287L636.2 287.5L639.6 288.9L640.6 290.3L638.7 292.6L631.8 294.2L625.2 293.9ZM795.8 301.4L820.3 301.4L824.2 295.9L830.1 291.4L839.1 287.2L847.9 285.1L854.6 285L862.4 286.3L869 288.8L873.4 292.2L873.4 253L865.7 251L859 244.2L856.2 242.5L846.8 240.5L836.9 241.4L829.7 243.6L807.2 253.6L807.3 254.7L824.4 258.1L828 260L829 261.4L827.9 263.6L825.8 265L814.7 267.9L801.4 268.2L794.7 267.3L788.1 265.2L784.3 262.5L782.8 259.2L779.5 255.8L778.6 251.4L779.2 248L780.6 245.8L785.3 242.5L797.6 238L832.1 228L836.5 225.8L844.6 219.2L850.2 216.2L861.2 213.6L873.4 213.9L873.4 203.6L848.2 203.6L832 222.5L826.6 226.9L815 231.4L781.4 240.6L777 243.3L772.4 254.7L770.4 257.3L764 262.5L763.5 264.7L765.2 267L768.1 268.9L779.7 273.6L784.8 278.7L791.8 288.1L795.7 301.4ZM806.6 293.7L803.6 292.4L800.9 289.2L797.5 282.5L797.4 280.3L798.3 279.2L801.4 277.8L808 276.8L815.5 277L822.4 278L829.1 280.3L830.4 281.4L830.1 283.6L827.3 285.9L815.2 292.6L811.4 293.7L806.9 293.7ZM838.7 253.6L826.9 251.7L825.1 250.3L825.4 249.2L827.9 246.9L832.4 244.7L838 243.2L843.5 242.9L848.5 243.6L853.5 245.5L856.4 248L856.5 250.3L854.6 251.7L850.2 253L839.1 253.6ZM872.3 301.4L873.4 301.4L873.4 300L871.9 301.4ZM289.3 270.4L288.4 270.3ZM702.8 259.6L706.1 260.1L710.5 259.4L714.9 257.9L718.2 255.8L720.5 252.6L724.9 241.8L728.2 238.7L754.3 235.8L758.2 234.9L760.4 233.6L782.8 203.6L778.4 203.6L775.8 209.1L770.4 216.9L764.8 223.3L760.4 226.9L751.5 230.9L741.5 232.2L733.8 231.3L730.5 229.8L728.8 228L727.7 223.6L728.4 214.7L729.8 208L732.4 203.6L726.4 203.6L725.1 219.1L721.5 231.4L719.4 233.5L717.2 234.2L705 235.2L699.4 234.8L692.8 233.2L685 230.7L678.4 227.4L665.4 218L652.8 203.6L608.9 203.6L597.9 212.4L596.7 214.7L604.1 222.9L611.3 233.6L615.2 236.7L628.5 241.9L641.8 244.5L650.7 245.1L681.7 244.8L688.3 245.4L691.7 247.2L698.3 256.4L701.7 259.2ZM708.1 252.5L706.1 252L703.6 250.3L701.8 245.8L702.6 243.6L704.1 242.5L709.4 241.6L713 242.5L714.3 243.6L714.8 245.8L712.7 250.5L710.5 252L708.3 252.5ZM639.8 241.4L626.3 238.4L616.3 233.9L613 230.9L610.1 226.9L607.1 221.4L606.4 218L607.3 215.8L609.9 213.6L619.6 209.6L631.8 207.8L644 208.3L650.7 209.8L656.2 212.7L666.7 221.4L685.4 234.7L687.4 236.9L687.1 238L685 239.4L675 241.4L656.2 242.2L640.7 241.5ZM512.1 240.4L521 241.3L533.2 240.9L540.9 239.6L549.8 236.4L554.8 232.5L557.1 226.9L557.1 221.4L556.3 220.2L553.1 218.7L542 216.4L527.6 215L511 215.2L502.1 216.6L497.3 224.7L497 226.9L497.6 229.1L499.7 232.5L503.2 235.9L507.7 238.8L511.6 240.3ZM523.8 238L515.4 236.2L509.9 233.2L508.1 231.4L507.3 229.1L507.4 226.9L508.6 224.7L513.2 221L519.9 218.5L527.6 217.4L537.6 217.8L545.4 219.3L550.9 221.8L552.6 223.6L553.4 225.8L552.4 230.2L548.7 233.9L542 236.8L533.2 238.3L524.3 238.1Z"/><path fill="#ffdd33" fill-rule="evenodd" d="M743.8 300.5L746.2 301.4L779.2 301.4L784.1 299.2L786.9 295.9L787.4 292.6L786.6 289.2L784.6 285.9L781.3 282.5L773.7 278.5L759.3 275.3L754.9 273.6L752.6 271.4L750.5 267L750.3 264.7L752.3 262.5L763.7 256.9L768.6 252.5L769.9 249.2L770 246.9L769 244.7L767 243.3L759.3 241.1L750.4 240.4L740.4 241.1L732.7 243.1L729.4 245.3L727.3 248L723.7 259.2L715.6 264.7L714 267L714.8 269.2L716.2 270.3L730.5 276.5L734.2 279.2L736.2 283.6L738.2 294.8L740.3 298.1L743.5 300.3ZM759.7 300.3L751.9 299.2L746.3 297L743.8 294.8L742 290.3L742.2 284.8L743.2 282.5L744.9 281L749.3 279.5L757.1 279.4L767 280.5L773.7 282.6L779.2 286.7L781.5 291.4L781.3 293.7L780.3 295.4L776.5 298.1L769.2 300L760.4 300.4ZM736.3 258.1L733.2 255.8L732 252.5L733.1 249.2L737.1 246.1L742.7 244.4L749.3 243.8L756 244.4L760.4 245.6L762.6 246.9L763.8 249.2L762.6 252.1L759.4 254.7L754.4 257L747.1 258.8L741.5 259.1L737.1 258.4ZM843.5 300.4L852.4 299.8L855.7 298.7L858.2 297L858.6 294.8L857.7 293.7L852.4 291.7L845.1 292.6L838.4 295.9L837.5 297L838 298.6L842.9 300.3ZM514.3 297L544.3 295.6L564.2 296.9L575.3 296.9L586.4 296L595.2 294.1L599.7 291.8L604.2 287L606.1 283.6L605.5 281.4L601.6 279.2L594.1 277.1L576.4 274.9L564.2 274.8L544.3 276.1L515.4 274.7L505.5 275.4L496.6 277.3L492.2 279.6L490.1 282.5L489.5 287L491.1 290.8L494.4 293.4L498.8 295L513.4 297ZM509.3 294.8L497.7 292.1L494.8 290.3L493 288.1L492.6 284.8L494.4 281.7L497.7 279.6L503.2 277.9L512.1 276.7L521 276.5L550.9 279.9L569.8 279.3L578.6 279.8L587.5 281.5L590.8 283L592.7 284.8L592.4 287L590.8 288.5L583.1 291.3L570.9 292.5L552 291.7L525.4 295L509.9 294.8ZM246.1 293.7L255 294.7L265 294.3L272.7 292.7L284.9 288.4L289.3 287.7L310.4 289.9L318.2 289.6L323.7 288.7L327.7 287L329.8 284.8L330.9 280.3L330.2 274.8L331.5 272.5L338.1 270.4L361.4 265.6L368.9 262.5L372.5 259.4L374.7 256.3L380.7 242.5L383.2 239.2L388 235.6L401.9 229.1L404.9 226.9L406.3 224.7L406.3 221.4L403.6 216.9L394.6 207.9L388.5 203.6L365.6 203.6L361.4 206L349.9 214.7L347.5 216.9L345.7 220.2L342.8 239.2L341 241.4L337 243.6L317 248.1L278 251.4L271.6 252.9L267.9 254.7L266.9 258.1L267.6 260.3L268.8 261.4L272.3 262.5L289.3 264.7L303.2 268.1L307.3 270.3L307.3 271.4L303.6 273.6L295.3 275.9L288.2 276.2L281.3 274.8L268.3 268.8L261.6 266.7L251.7 266.3L243.9 268.1L240.6 270.9L238.1 274.8L236.1 280.3L235.4 285.9L236.1 288.4L238.4 290.8L245.9 293.7ZM249.8 290.3L243.9 288.4L241 285.9L240.1 281.4L241.5 277L244.4 273.6L248.3 271.7L253.9 271L259.4 271.5L273.8 275.9L282.1 279.2L285.1 281.4L277.7 285.9L268.3 289.6L259.4 290.9L250.6 290.5ZM305.6 284.8L298.2 282.5L297.1 281.4L298.7 280.3L310.4 277.5L317.1 277L320.4 278L321.6 279.2L321.9 281.4L320.3 283.6L314.8 285.2L306 284.8ZM318 268.1L301.4 264.7L290.2 261.4L286.7 259.2L286.7 258.1L287.8 257L296.2 253.6L326.7 249.2L337 246.8L342.5 244.7L345.9 242.5L348.6 239.2L350.1 229.1L351.9 222.5L353.8 218L356.4 214.7L362.5 210.1L369.1 207.2L376.9 206L383.6 206.5L390.2 209L396.8 214L401.1 219.1L401.9 223.6L400.8 225.8L398.3 228L385.3 234.7L380.2 238.7L377.8 242.5L373.9 252.5L370.2 257.4L366.9 260.1L362.5 262.2L349.2 265.9L330.4 268.6L318.2 268.1ZM148.6 292.8L154.1 293.4L159.7 293.1L164.1 291.9L166.4 290.3L167 288.1L165 284.8L160.8 281.7L156.3 280L151.9 279.4L147.5 279.8L142.8 281.4L140 283.6L139.2 287L140.7 289.2L144.2 291.4L147.7 292.6ZM150.5 289.2L147.1 287L147.5 285L149.9 283.6L153.8 283.6L157.9 285.9L159.2 288.1L156.3 289.6L150.8 289.3ZM402.4 291.5L410.2 292.4L417.4 290.3L419.4 288.1L419.9 285.9L419.1 283.6L416.8 282L411.3 281.1L405.6 282.5L402.4 285.4L400.6 288.1L400.8 290.3L402.3 291.4ZM626.3 277.2L636.2 278L640.7 277.3L644.7 275.9L647.1 273.6L647.2 271.4L645 269.2L641.8 267.8L631.8 266.9L627.4 267.6L623.2 269.2L620.9 271.4L620.7 273.6L622.9 275.9L625.5 277ZM631.8 272.5L634 271.8L635.9 272.5L634 273.1L631.8 272.6ZM464.5 270.3L477.8 271L486.6 269L492.2 265.9L496.1 262.5L498.7 259.2L500.3 254.7L499.8 248L496.5 241.4L490.8 235.8L480.8 229.1L480.9 228L488.1 221.4L488.7 219.1L487.9 216.9L485.5 214.7L482.2 213L473.3 210.8L466.7 211L463.4 212.2L461.1 214.1L459.4 218L459.9 225.8L458.9 229.1L455.2 233.6L445.6 240.4L443.9 242.5L442.8 245.8L443.5 257L444.9 261.4L446.7 264.2L448.9 266.2L452.6 268.1L464.3 270.3ZM465.6 267L457.2 264.7L450.9 260.3L447.8 254.2L447.6 246.9L450 242.5L456.7 238.1L465.6 234.5L472.2 234L481.1 236.4L487.7 240.8L492.1 246.9L493.1 253.6L490.5 259.2L484.4 264L475.5 266.9L466.7 267.1ZM472 224.7L468.9 224L466.5 222.5L465.1 220.2L464.9 218L466.3 215.8L468.2 214.7L474.4 214.1L480 216.2L481.5 218L481.7 220.2L480.1 222.5L478.3 223.6L472.2 224.7ZM148.6 269.2L152.5 269.2L154.7 267L154.4 265.8L151.9 265.4L149.4 265.8L148 267L147.7 268.1L148.5 269.2ZM661.7 265.9L668.4 266.1L676.2 265.1L682.8 262.7L686.3 260.3L687.6 257L686.9 254.7L685.2 252.5L681.2 250.3L675 248.9L666.2 248.3L657.3 248.9L650.7 250.6L646.5 253.6L645.9 257L646.9 259.2L649.1 261.4L654 264.1L661.2 265.8ZM661.1 260.3L659.1 259.2L657.3 257L658 254.7L662.8 253.1L668.3 253.6L671.4 255.8L671.8 258.1L671.2 259.2L667.3 261L661.7 260.5ZM125.3 257L132 256.5L138.6 255.1L149.7 250.6L153 247.2L156.6 239.2L159.7 234.7L163 231.7L167.4 229.5L176.3 228.3L208.4 228.9L217.3 227.4L224 225L232.8 219.2L239.2 212.4L240.7 208L238.8 203.6L228.9 203.6L232 208L231.6 212.4L228.1 216.9L221.7 221.1L209.5 224.9L194 226.3L171.9 224.8L164.1 222.8L157.4 217.6L153.8 212.4L153.8 208L156.9 203.6L147 203.6L144.9 206.9L144.4 211.3L145.6 214.7L150.1 221.4L149.6 223.6L145.9 225.8L132 231L124.2 235.1L116.2 241.4L112.5 246.9L112.1 251.4L114.2 254.1L118.7 256.1L125.3 257ZM121.8 252.5L118.8 250.3L118.2 246.9L120.5 242.5L125.5 238L132 234.4L139.7 231.5L147.5 230L153.5 230.2L154.9 231.4L154.5 234.7L150.4 244.7L147.5 248.1L141.9 250.9L134.2 253L127.5 253.5L122 252.6ZM564.2 253.7L580.8 254.7L600.8 253.7L615.5 251.4L620.7 249.6L622.5 248L620.9 245.8L608.5 238.7L604.6 229.1L600.2 223.6L595.2 220.6L589.7 219.2L581.9 218.7L574.2 219.6L567.5 221.6L563 224.7L561.1 228L558.5 236.9L553.8 244.7L553.3 248L554.4 250.3L556 251.4L563.7 253.6ZM575.7 236.9L569.8 234.8L567.1 232.5L566.6 230.2L568.3 226.9L572 224.6L578.6 222.9L585.3 222.4L590.8 223.1L595.2 224.8L599 228L600.6 231.4L599.2 234.7L595.2 236.7L589.7 237.7L583.1 237.8L576.4 237.1ZM779.2 234.8L787 235.8L795.8 234.7L812.1 230.2L820.2 226.7L826.6 221.4L831.6 213.6L832.1 208L829.6 203.6L819.3 203.6L824.1 206.9L825.4 209.1L825.9 212.4L823.7 218L818 223.9L813 226.9L805.8 229.7L799.2 231.4L791.4 232.1L784.8 231.4L780.3 229.8L777.9 228L776.4 224.7L778 219.1L783.7 211.4L789.2 206.7L795.9 203.6L788 203.6L783.7 207.4L778.5 213.6L773.9 220.2L771.3 225.8L771.2 229.1L772.6 231.3L779.1 234.7ZM698.3 231.5L705 231.7L711.6 230.7L716.1 228.7L719.4 225.6L722 220.2L723.2 212.4L722.1 206.9L719 203.6L710.9 203.6L717.2 206.9L719.6 210.2L720.2 215.8L718.3 221.7L715.9 224.7L712.7 226.9L708.3 228.5L703.9 229.2L695 228.7L686.1 226.6L677.3 222.6L670.9 218L667.8 213.6L667.6 210.2L670.3 206.9L676.9 203.6L668.2 203.6L664 206.9L663.2 210.2L664.5 213.6L667 216.9L671.7 221L683.9 227.9L697.7 231.4ZM543.2 213.7L559.8 214.6L574.2 212.8L580.8 210.4L584.2 208.1L585.3 205.8L584.3 203.6L524.2 203.6L523.4 204.7L523.4 206.9L526.5 209.7L532.1 211.7L542.3 213.6ZM553.7 205.8L554.2 205.8Z"/><path fill="#ff6e00" fill-rule="evenodd" d="M760.4 300.4L769.2 300L776.5 298.1L780.3 295.4L781.3 293.7L781.5 291.4L779.2 286.7L773.7 282.6L767 280.5L757.1 279.4L749.3 279.5L744.9 281L743.2 282.5L742.2 284.8L742 290.3L743.8 294.8L746.3 297L751.9 299.2L759.7 300.3ZM756.6 295.9L753.2 294.8L750.3 292.6L749.3 290.3L749.7 287L751.5 285.3L754.8 284.1L763.7 284.3L768.6 285.9L771.5 288.1L772.8 290.3L772.6 293L770.8 294.8L767 296L757.1 296ZM509.9 294.8L525.4 295L552 291.7L570.9 292.5L583.1 291.3L590.8 288.5L592.4 287L592.7 284.8L590.8 283L587.5 281.5L578.6 279.8L569.8 279.3L550.9 279.9L521 276.5L512.1 276.7L503.2 277.9L497.7 279.6L494.4 281.7L492.6 284.8L493 288.1L494.8 290.3L497.7 292.1L509.3 294.8ZM516.6 293.7L507.7 292.8L501 291L496.8 288.1L496.2 284.8L498.8 281.8L503.2 279.9L511 278.5L519.9 278.1L529.8 278.8L539.8 280.8L546.8 283.6L548.2 285.9L546.8 288.1L544.8 289.2L538 291.4L527.6 293.2L517.7 293.7ZM250.6 290.5L259.4 290.9L268.3 289.6L277.7 285.9L285.1 281.4L282.1 279.2L273.8 275.9L259.4 271.5L253.9 271L248.3 271.7L244.4 273.6L241.5 277L240.1 281.4L241 285.9L243.9 288.4L249.8 290.3ZM252.6 285.9L249.4 284.6L247.6 282.5L247.4 280.3L249.4 277.8L255 276.7L265.5 278.1L270.4 280.3L270.9 281.4L268.9 283.6L261.6 286.1L252.8 285.9ZM150.8 289.3L156.3 289.6L159.2 288.1L157.9 285.9L153.8 283.6L149.9 283.6L147.5 285L147.1 287L150.5 289.2ZM306 284.8L314.8 285.2L320.3 283.6L321.9 281.4L321.6 279.2L320.4 278L317.1 277L310.4 277.5L298.7 280.3L297.1 281.4L298.2 282.5L305.6 284.8ZM631.8 272.6L634 273.1L635.9 272.5L634 271.8L631.8 272.5ZM318.2 268.1L330.4 268.6L349.2 265.9L362.5 262.2L366.9 260.1L370.2 257.4L373.9 252.5L377.8 242.5L380.2 238.7L385.3 234.7L398.3 228L400.8 225.8L401.9 223.6L401.1 219.1L396.8 214L390.2 209L383.6 206.5L376.9 206L369.1 207.2L362.5 210.1L356.4 214.7L353.8 218L351.9 222.5L350.1 229.1L348.6 239.2L345.9 242.5L342.5 244.7L337 246.8L326.7 249.2L296.2 253.6L287.8 257L286.7 258.1L286.7 259.2L290.2 261.4L301.4 264.7L318 268.1ZM315.7 264.7L307.1 263.3L301.2 261.4L300 260.3L300.8 258.1L308.2 254.7L335.9 250.1L341.4 248.5L345.9 246.4L355 239.2L355.6 236.9L354.8 231.4L355.5 226.9L358.1 220.2L361.2 215.8L365.8 212.4L370.2 210.6L375.8 209.5L381.3 209.6L388 211.5L393.5 215L397 219.1L397.7 221.4L397.4 223.6L396 225.8L393.5 227.8L382.4 233.8L376.7 238L374.4 241.4L371.9 250.3L368 255.3L363.9 258.1L359.2 260.1L343.7 264.1L330.4 265.5L315.9 264.8ZM466.7 267.1L475.5 266.9L484.4 264L490.5 259.2L493.1 253.6L492.1 246.9L487.7 240.8L481.1 236.4L472.2 234L465.6 234.5L456.7 238.1L450 242.5L447.6 246.9L447.8 254.2L450.9 260.3L457.2 264.7L465.6 267ZM465.3 261.4L459.6 259.2L455.9 255.8L454.4 252.5L454.5 247.9L456.7 244.5L462.1 241.4L467.8 240.1L473.3 240.5L478.6 242.5L482.6 245.8L484.9 250.3L484.6 254.7L482 258.1L477.8 260.5L472.2 261.8L465.6 261.5ZM661.7 260.5L667.3 261L671.2 259.2L671.8 258.1L671.4 255.8L668.3 253.6L662.8 253.1L658 254.7L657.3 257L659.1 259.2L661.1 260.3ZM737.1 258.4L741.5 259.1L747.1 258.8L754.4 257L759.4 254.7L762.6 252.1L763.8 249.2L762.6 246.9L760.4 245.6L756 244.4L749.3 243.8L742.7 244.4L737.1 246.1L733.1 249.2L732 252.5L733.2 255.8L736.3 258.1ZM122 252.6L127.5 253.5L134.2 253L141.9 250.9L147.5 248.1L150.4 244.7L154.5 234.7L154.9 231.4L153.5 230.2L147.5 230L139.7 231.5L132 234.4L125.5 238L120.5 242.5L118.2 246.9L118.8 250.3L121.8 252.5ZM129.4 248L127.7 246.9L127.1 244.7L128 242.5L130.2 240.3L136.4 236.8L140.8 235.7L144.2 235.9L145.5 236.9L145.8 240.3L144.8 243.6L143 245.6L137.5 248.1L133.1 248.6L129.7 248.1ZM576.4 237.1L583.1 237.8L589.7 237.7L595.2 236.7L599.2 234.7L600.6 231.4L599 228L595.2 224.8L590.8 223.1L585.3 222.4L578.6 222.9L572 224.6L568.3 226.9L566.6 230.2L567.1 232.5L569.8 234.8L575.7 236.9ZM581.9 231.4L584.2 230.7L587.2 231.4L585.3 231.9L581.9 231.4ZM784.8 231.4L792.5 232.1L801.4 230.9L810.6 228L818.4 223.6L823.7 218L825.9 212.4L825.4 209.1L824.1 206.9L819.3 203.6L795.9 203.6L791.4 205.4L787 208.3L780.1 215.8L777.5 220.2L776.4 223.6L776.6 225.8L778.1 228.2L781.3 230.2L784.7 231.4ZM790.4 228L784.8 226.1L782.4 223.6L782.6 219.1L785.9 214L790.3 210.1L797 207L803.6 205.6L810.1 205.8L815.8 207.6L818.6 210.2L819.4 212.4L819.3 214.7L816.8 219.1L811.4 223.6L805.8 226.2L798.2 228L791.4 228.1ZM698.3 229.1L705 229.1L711.6 227.4L716.1 224.5L719 220.2L720.3 214.7L719.4 209.7L716.1 206L710.9 203.6L699.2 203.6L706.1 204.9L711.6 207L715.6 210.2L717 213.6L716.6 218L713.8 222.5L709.4 225.3L703.9 226.8L696.1 226.8L686.1 224.6L677 220.2L672.3 215.8L671.4 213.6L671.6 211.3L674.5 208L680.6 205.2L688.6 203.6L676.9 203.6L671.7 205.9L668.1 209.1L667.4 211.3L668.3 214.7L670.9 218L675.2 221.4L686.1 226.6L698.3 229.1ZM184 225.9L195.1 226.3L205.1 225.6L214 223.9L221.7 221.1L228.1 216.9L231.6 212.4L232 208L228.9 203.6L219.4 203.6L222.9 206.9L223.8 209.1L223.8 211.3L221.9 214.7L217.4 218L207.3 221.5L192.9 223L178.5 221.7L168.5 218.4L163.8 214.7L162 211.3L162 209.1L162.9 206.9L166.5 203.6L156.9 203.6L154.3 206.9L153.5 211.3L155.2 215.1L159.7 219.7L164.1 222.8L167.4 224L183.1 225.8ZM472.2 224.7L478.3 223.6L480.1 222.5L481.7 220.2L481.5 218L480 216.2L474.4 214.1L468.2 214.7L466.3 215.8L464.9 218L465.1 220.2L466.5 222.5L468.9 224L472 224.7ZM554.2 205.8L553.7 205.8Z"/><path fill="#ff0000" fill-rule="evenodd" d="M757.1 296L767 296L770.8 294.8L772.6 293L772.8 290.3L771.5 288.1L768.6 285.9L763.7 284.3L754.8 284.1L751.5 285.3L749.7 287L749.3 290.3L750.3 292.6L753.2 294.8L756.6 295.9ZM517.7 293.7L527.6 293.2L538 291.4L544.8 289.2L546.8 288.1L548.2 285.9L546.8 283.6L539.8 280.8L529.8 278.8L519.9 278.1L511 278.5L503.2 279.9L498.8 281.8L496.2 284.8L496.8 288.1L501 291L507.7 292.8L516.6 293.7ZM510.8 291.4L506 290.3L501.7 288.1L500.8 287L500.8 284.8L503.2 282.5L507.7 281L513.2 280L528.1 280.3L534.3 281.5L539.5 283.6L541 285.9L539.5 288.1L534 290.3L527.6 291.5L518.8 292L511 291.5ZM252.8 285.9L261.6 286.1L268.9 283.6L270.9 281.4L270.4 280.3L265.5 278.1L255 276.7L249.4 277.8L247.4 280.3L247.6 282.5L249.4 284.6L252.6 285.9ZM315.9 264.8L330.4 265.5L343.7 264.1L359.2 260.1L363.9 258.1L368 255.3L371.9 250.3L374.4 241.4L376.7 238L382.4 233.8L393.5 227.8L396 225.8L397.4 223.6L397.7 221.4L397 219.1L393.5 215L388 211.5L381.3 209.6L375.8 209.5L370.2 210.6L365.8 212.4L361.2 215.8L358.1 220.2L355.5 226.9L354.8 231.4L355.6 236.9L355 239.2L345.9 246.4L341.4 248.5L335.9 250.1L308.2 254.7L300.8 258.1L300 260.3L301.2 261.4L307.1 263.3L315.7 264.7ZM319.2 261.4L312.6 260.3L311.8 259.2L312.9 258.1L318.2 256.5L327 255.9L332.6 257L332.9 258.1L332 259.2L327 260.8L319.3 261.4ZM352.7 255.8L349.2 255L347.3 253.6L347.5 251.4L349.2 249.2L353.4 245.8L357 244L364.7 242.6L367.5 243.6L368.8 245.8L368.7 248L366.9 251.2L361.4 254.7L353.6 255.9ZM366.2 235.8L361.4 232.5L360.2 229.1L361.5 223.6L365 218L369.1 214.8L374.7 212.9L380.2 212.7L385.8 213.9L389.2 215.8L392.4 219.1L393 222.5L391.9 224.7L387.5 228L374.7 234.9L370.2 236.4L366.9 236.1ZM465.6 261.5L472.2 261.8L477.8 260.5L482 258.1L484.6 254.7L484.9 250.3L482.6 245.8L478.6 242.5L473.3 240.5L467.8 240.1L462.1 241.4L456.7 244.5L454.5 247.9L454.4 252.5L455.9 255.8L459.6 259.2L465.3 261.4ZM129.7 248.1L133.1 248.6L137.5 248.1L143 245.6L144.8 243.6L145.8 240.3L145.5 236.9L144.2 235.9L140.8 235.7L136.4 236.8L130.2 240.3L128 242.5L127.1 244.7L127.7 246.9L129.4 248ZM581.9 231.4L585.3 231.9L587.2 231.4L584.2 230.7L581.9 231.4ZM791.4 228.1L798.2 228L805.8 226.2L811.4 223.6L816.8 219.1L819.3 214.7L819.4 212.4L818.6 210.2L815.8 207.6L810.1 205.8L803.6 205.6L797 207L790.3 210.1L785.9 214L782.6 219.1L782.4 223.6L784.8 226.1L790.4 228ZM697.2 226.9L705 226.6L710.7 224.7L714.9 221.2L717.1 215.8L716.3 211.3L713.2 208L707.2 205.2L699.2 203.6L688.6 203.6L680.6 205.2L673.9 208.4L672.2 210.2L671.3 212.4L671.7 214.7L673.1 216.9L678.8 221.4L687.2 225L697.1 226.9ZM690.6 223.6L683.9 221.4L678.2 218L675.8 214.7L676.5 211.3L680.6 208.4L687.2 206.4L693.9 205.8L701.6 206.6L707.2 208.4L711.5 211.3L713 214.7L711.9 219.1L708.3 222.5L703.9 224.1L698.3 224.6L691.7 223.8ZM184 222.5L192.9 223L201.8 222.4L210.6 220.7L217.4 218L221.9 214.7L223.8 211.3L223.8 209.1L222.9 206.9L219.4 203.6L203.7 203.6L209.2 205.8L211.7 208L212.4 210.2L211.7 212.4L209.2 214.7L204 216.8L192.9 218.2L181.8 216.9L176.6 214.7L174.1 212.4L173.4 210.2L174.2 208L176.7 205.8L182.1 203.6L166.5 203.6L163.8 205.8L162 209.1L162.3 212.4L163.8 214.7L167.4 217.7L171.9 219.9L183.9 222.5Z"/><path fill="#a02020" fill-rule="evenodd" d="M511 291.5L518.8 292L527.6 291.5L534 290.3L539.5 288.1L541 285.9L539.5 283.6L534.3 281.5L528.1 280.3L513.2 280L507.7 281L503.2 282.5L500.8 284.8L500.8 287L501.7 288.1L506 290.3L510.8 291.4ZM515.3 289.2L509.6 287L509.1 285.9L509.6 284.8L511.3 283.6L518.8 282.2L527.6 282.5L533.7 284.8L534.3 285.9L532.1 288L524.3 289.6L515.4 289.2ZM319.3 261.4L327 260.8L332 259.2L332.9 258.1L332.6 257L327 255.9L318.2 256.5L312.9 258.1L311.8 259.2L312.6 260.3L319.2 261.4ZM353.6 255.9L361.4 254.7L366.9 251.2L368.7 248L368.8 245.8L367.5 243.6L364.7 242.6L357 244L353.4 245.8L349.2 249.2L347.5 251.4L347.3 253.6L349.2 255L352.7 255.8ZM366.9 236.1L370.2 236.4L374.7 234.9L387.5 228L391.9 224.7L393 222.5L392.4 219.1L389.2 215.8L385.8 213.9L380.2 212.7L374.7 212.9L369.1 214.8L365 218L361.5 223.6L360.2 229.1L361.4 232.5L366.2 235.8ZM369.1 230.2L366.9 228.2L366.7 225.8L367.8 222.5L370.5 219.1L373.6 217.3L376.9 216.4L383.6 217.2L387.1 220.2L387.2 222.5L385.6 224.7L375.8 229.9L372.5 230.7L369.1 230.3ZM691.7 223.8L698.3 224.6L703.9 224.1L708.3 222.5L711.9 219.1L713 214.7L711.5 211.3L707.2 208.4L701.6 206.6L693.9 205.8L687.2 206.4L680.6 208.4L676.5 211.3L675.8 214.7L678.2 218L683.9 221.4L690.6 223.6ZM691.4 220.2L684 216.9L682.6 214.7L683.5 212.4L686.1 210.9L690.6 209.7L699.4 210.1L702.9 211.3L705.7 213.6L706.4 215.8L705.5 218L703.9 219.4L700.5 220.7L696.1 221L691.7 220.3ZM188.5 218L195.1 218.2L201.8 217.3L207 215.8L210.7 213.6L212.3 211.3L211.7 208L209.2 205.8L203.7 203.6L182.1 203.6L175.2 206.9L173.4 210.2L175.1 213.6L180.7 216.5L188.2 218Z"/><path fill="#ff69b4" fill-rule="evenodd" d="M515.4 289.2L524.3 289.6L532.1 288L534.3 285.9L533.7 284.8L527.6 282.5L518.8 282.2L511.3 283.6L509.6 284.8L509.1 285.9L509.6 287L515.3 289.2ZM369.1 230.3L372.5 230.7L375.8 229.9L385.6 224.7L387.2 222.5L387.1 220.2L383.6 217.2L376.9 216.4L373.6 217.3L370.5 219.1L367.8 222.5L366.7 225.8L366.9 228.2L369.1 230.2ZM691.7 220.3L696.1 221L700.5 220.7L703.9 219.4L705.5 218L706.4 215.8L705.7 213.6L702.9 211.3L699.4 210.1L690.6 209.7L686.1 210.9L683.5 212.4L682.6 214.7L684 216.9L691.4 220.2Z"/>
<use href="#map" transform="translate(0,137)"/>
<line x1="71.0" y1="252.5" x2="869.0" y2="252.5" stroke="#008000" stroke-width="1.2" stroke-dasharray="4.7,5.3"/>
<line x1="470.0" y1="208" x2="470.0" y2="297.0" stroke="#008000" stroke-width="1.2" stroke-dasharray="4.3,5.7" stroke-dashoffset="5.1"/>
</g>
<rect x="71.0" y="208" width="798.0" height="89.0" fill="none" stroke="#000" stroke-width="2"/>
<path d="M71.0 208v-4M71.0 297.0v4M104.2 208v-2M104.2 297.0v2M137.5 208v-2M137.5 297.0v2M170.8 208v-4M170.8 297.0v4M204.0 208v-2M204.0 297.0v2M237.2 208v-2M237.2 297.0v2M270.5 208v-4M270.5 297.0v4M303.8 208v-2M303.8 297.0v2M337.0 208v-2M337.0 297.0v2M370.2 208v-4M370.2 297.0v4M403.5 208v-2M403.5 297.0v2M436.8 208v-2M436.8 297.0v2M470.0 208v-4M470.0 297.0v4M503.2 208v-2M503.2 297.0v2M536.5 208v-2M536.5 297.0v2M569.8 208v-4M569.8 297.0v4M603.0 208v-2M603.0 297.0v2M636.2 208v-2M636.2 297.0v2M669.5 208v-4M669.5 297.0v4M702.8 208v-2M702.8 297.0v2M736.0 208v-2M736.0 297.0v2M769.2 208v-4M769.2 297.0v4M802.5 208v-2M802.5 297.0v2M835.8 208v-2M835.8 297.0v2M869.0 208v-4M869.0 297.0v4M71.0 208.0h-4M869.0 208.0h4M71.0 219.1h-2M869.0 219.1h2M71.0 230.2h-2M869.0 230.2h2M71.0 241.4h-2M869.0 241.4h2M71.0 252.5h-4M869.0 252.5h4M71.0 263.6h-2M869.0 263.6h2M71.0 274.8h-2M869.0 274.8h2M71.0 285.9h-2M869.0 285.9h2M71.0 297.0h-4M869.0 297.0h4" stroke="#000" stroke-width="1.6" fill="none"/>
<text transform="translate(68.60,202.60) scale(0.993,1.048)" font-size="28">19-Nov-2011 to 23-Nov-2011</text>
<text transform="translate(871.50,202.60) scale(0.993,1.048)" font-size="28" text-anchor="end">Observed</text>
<text transform="translate(50.00,217.90) scale(1.0,1.053)" font-size="28" text-anchor="end">20N</text>
<text transform="translate(50.00,262.40) scale(1.0,1.053)" font-size="28" text-anchor="end">0</text>
<text transform="translate(50.00,306.90) scale(1.0,1.053)" font-size="28" text-anchor="end">20S</text>
<g clip-path="url(#c2)">
<rect x="71.0" y="345" width="798.0" height="89.0" fill="#ffffcc"/>
<path fill="#8a2be2" fill-rule="evenodd" d="M220.6 404L233.9 404.1L239.9 402.8L245.4 400.6L250.4 397.3L254.8 392.8L258.3 387.5L260.2 382.8L260.9 378.4L260.4 373.9L258.3 368.4L255.5 363.9L251.7 360.1L247.2 357.2L241.7 354.8L236.1 353.6L226.2 354.3L215.1 358.5L209.7 361.7L205.7 365L201.6 371.7L200.7 376.2L200.6 380.6L203.2 396.2L204.1 398.4L206.2 400.4L209.2 401.7L220.3 404ZM707.2 361.9L716.1 362.6L724.3 360.6L726.6 358.4L726.1 356.1L720.5 353.4L710.8 352.8L702.9 355L701.6 356.1L701.1 358.4L703.4 360.6L706.2 361.7Z"/><path fill="#000090" fill-rule="evenodd" d="M226.2 407.3L232.8 407.2L239.5 406.1L245 404.2L250.6 401.1L255 397.3L259.6 391.7L262.9 386.2L264.8 380.6L264.9 376.2L263.7 371.7L260.5 365L257.2 360.6L252.8 356.8L247.2 353.5L241.7 351.5L235 350.5L229.5 350.8L222.8 352.5L208.5 359.5L203.8 362.8L200.6 366.1L198.6 369.5L197.3 373.9L196.9 380.6L198.5 391.7L196.9 399.5L197.4 402L199.6 403.4L202.9 404.3L225.5 407.3ZM220.3 404L209.2 401.7L206.2 400.4L204.1 398.4L203.2 396.2L200.6 380.6L200.7 376.2L201.6 371.7L205.7 365L209.7 361.7L215.1 358.5L226.2 354.3L236.1 353.6L241.7 354.8L247.2 357.2L251.7 360.1L255.5 363.9L258.3 368.4L260.4 373.9L260.9 378.4L260.2 382.8L258.3 387.5L254.8 392.8L250.4 397.3L245.4 400.6L239.9 402.8L233.9 404.1L220.6 404ZM618.5 371.8L628.5 371.6L632.1 370.6L635.5 368.4L636.1 366.1L634.5 363.9L627.4 361.4L616.8 361.7L613.5 362.8L610.8 364.9L610.2 367.2L611.9 369.5L618 371.7ZM506.6 367.3L514.3 366.6L518.5 363.9L518.8 362.6L517.6 360.6L511 358.3L503.2 358.8L501 359.6L498.9 361.7L498.8 363.2L500 365L505.7 367.2ZM703.9 365.1L712.7 366.1L720.5 365.7L728.2 364L732.8 361.7L735.5 358.4L734.5 355L730.5 352.2L723.8 350.1L716.1 349.2L707.2 349.6L699.4 351.3L694.3 353.9L692.1 357.2L693.6 360.6L697.2 362.9L703.7 365ZM706.2 361.7L703.4 360.6L701.1 358.4L701.6 356.1L702.9 355L710.8 352.8L720.5 353.4L726.1 356.1L726.6 358.4L724.3 360.6L716.1 362.6L707.2 361.9Z"/><path fill="#4169e1" fill-rule="evenodd" d="M151.9 418.4L159.7 419.5L171.9 418.3L180.7 416.2L197.4 409.9L202.9 408.6L209.5 408.5L226.2 410.2L236.1 409.8L245 407.6L252.8 403.4L258.2 398.4L264.2 390.6L269.5 382.8L270.8 378.4L269.9 375L264.7 365L260.9 359.5L253.9 353.5L246.1 349.6L236.1 347.5L227.3 348.5L215.1 353.5L201.2 361.7L196.6 366.1L194 371.7L193.1 379.5L194.3 390.6L192.5 395.1L187.4 398.1L168.5 402.4L156.3 407.3L151.5 410.6L149.2 414L149.2 416.2L151.9 418.4ZM225.5 407.3L202.9 404.3L199.6 403.4L197.4 402L196.9 399.5L198.5 391.7L196.9 380.6L197.3 373.9L198.6 369.5L200.6 366.1L203.8 362.8L208.5 359.5L222.8 352.5L229.5 350.8L235 350.5L241.7 351.5L247.2 353.5L252.8 356.8L257.2 360.6L260.5 365L263.7 371.7L264.9 376.2L264.8 380.6L262.9 386.2L259.6 391.7L255 397.3L250.6 401.1L245 404.2L239.5 406.1L232.8 407.2L226.2 407.3ZM390.2 387.4L394.6 387.8L400.2 387.1L405.9 385L408.8 382.8L409.7 380.6L408.8 378.4L405.6 376.2L401.3 374.8L395.7 374.2L390.2 374.5L381.3 376.9L375.8 377L373.6 378.4L373.4 380.6L374.7 382.2L380.2 383.4L389.4 387.3ZM818 377.3L830.2 376.8L834.6 375.5L837.1 373.9L837.1 371.7L835.8 370.6L826.9 368.3L815.8 368.7L812.2 369.5L808.5 371.7L808.3 373.9L809.5 375L817.9 377.3ZM620.7 373.9L627.4 373.8L634 372.4L638.5 370.1L640.6 367.2L640.3 365L637.4 362.3L632.9 360.4L626.3 359.3L619.6 359.3L613 360.5L608.5 362.6L606.4 365L606.5 368.4L608.5 370.7L613.4 372.8L620.4 373.9ZM618 371.7L611.9 369.5L610.2 367.2L610.8 364.9L613.5 362.8L616.8 361.7L627.4 361.4L634.5 363.9L636.1 366.1L635.5 368.4L632.1 370.6L628.5 371.6L618.5 371.8ZM503.2 370.6L509.9 370.9L516.6 370.1L521.7 368.4L525.4 365.3L526.3 362.8L525 359.5L521 356.9L514.3 355.1L507.7 354.6L501 355.2L495.5 357L492.2 359.6L491 362.8L492.6 366.1L496.6 368.7L503.2 370.6ZM505.7 367.2L500 365L498.8 363.2L498.9 361.7L501 359.6L503.2 358.8L511 358.3L517.6 360.6L518.8 362.6L518.5 363.9L514.3 366.6L506.6 367.3ZM703.9 367.4L714.9 368.2L724.9 367.4L732.7 365.2L738.7 361.7L741.1 358.4L741.1 356.1L739.6 353.9L733.8 350.3L724.9 347.8L714.9 346.9L703.9 347.7L695 349.9L688.3 353.6L686.4 357.2L687.8 360.6L695 364.9L703.2 367.2ZM703.7 365L697.2 362.9L693.6 360.6L692.1 357.2L694.3 353.9L699.4 351.3L707.2 349.6L716.1 349.2L723.8 350.1L730.5 352.2L734.5 355L735.5 358.4L732.8 361.7L728.2 364L720.5 365.7L712.7 366.1L703.9 365.1Z"/><path fill="#1e90ff" fill-rule="evenodd" d="M427.9 430.9L433.4 431.2L437.4 429.6L438 428.4L437 426.2L433.4 424.4L428.6 424L424.6 425.8L423.8 427.3L424.1 428.4L427.2 430.7ZM141.9 423.1L154.1 423.8L170.8 421.9L182.9 419.2L205.1 412.4L228.4 413.2L238.4 412.5L246.1 411L251.7 408.6L256.1 405.5L266.1 394.2L270.5 390.3L291.6 380.7L292.5 378.4L291.5 377.3L276 371.9L272.7 369.8L270.7 367.2L266.8 359.5L259.4 352.4L251.7 347.7L242.8 344.7L233.9 344L226.2 345.7L212.9 352.3L195.5 362.8L191.3 367.2L189.4 371.7L188.6 378.4L189.3 389.5L187.4 392.8L182.9 395.1L157.4 401.9L143.1 408.4L137.6 412.9L135.6 417.3L136.7 420.6L141.2 422.9ZM151.9 418.4L149.2 416.2L149.2 414L151.5 410.6L156.3 407.3L168.5 402.4L187.4 398.1L192.5 395.1L194.3 390.6L193.1 379.5L194 371.7L196.6 366.1L201.2 361.7L215.1 353.5L227.3 348.5L236.1 347.5L246.1 349.6L253.9 353.5L260.9 359.5L264.7 365L269.9 375L270.8 378.4L269.5 382.8L264.2 390.6L258.2 398.4L252.8 403.4L245 407.6L236.1 409.8L226.2 410.2L209.5 408.5L202.9 408.6L197.4 409.9L180.7 416.2L171.9 418.3L159.7 419.5L151.9 418.4ZM386.9 392L393.5 392.7L401.3 391.6L410.2 388.7L416 385L417.6 382.8L418 379.5L414.1 373.9L414.8 372.8L419 370.6L420.9 368.4L419.7 366.1L416.9 365L412.4 364.7L407.9 365.5L400.2 370L380.2 371.9L373.6 371.8L368.7 373.9L366.8 376.2L366.3 379.5L367 381.7L369.1 384.6L373.6 387.8L386.1 391.7ZM389.4 387.3L380.2 383.4L374.7 382.2L373.4 380.6L373.6 378.4L375.8 377L381.3 376.9L390.2 374.5L395.7 374.2L401.3 374.8L405.6 376.2L408.8 378.4L409.7 380.6L408.8 382.8L405.9 385L400.2 387.1L394.6 387.8L390.2 387.4ZM779.2 385.1L787.4 385L789.6 383.9L789.4 382.8L788.1 382.4L783.7 382.1L778.8 382.8L777.4 383.9L778.9 385ZM808 379.5L834.6 379.6L840.2 378.7L844.3 377.3L848.3 373.9L848.3 371.7L847.6 370.6L842.4 367.6L834.6 365.6L825.8 364.7L815.8 364.9L808 366.1L802.5 368.3L799 371.7L798.8 375L801.4 377.4L808 379.5ZM817.9 377.3L809.5 375L808.3 373.9L808.5 371.7L812.2 369.5L815.8 368.7L826.9 368.3L835.8 370.6L837.1 371.7L837.1 373.9L834.6 375.5L830.2 376.8L818 377.3ZM616.3 375.2L625.2 375.6L632.9 374.6L639.6 372.3L643.3 369.5L644.5 366.1L642.6 362.8L637.4 359.8L630.7 358.1L623 357.5L615.2 358.1L608.5 360L604.5 362.8L603.3 365L603.1 367.2L604.6 370.6L608.5 373.2L615.3 375ZM620.4 373.9L613.4 372.8L608.5 370.7L606.5 368.4L606.4 365L608.5 362.6L613 360.5L619.6 359.3L626.3 359.3L632.9 360.4L637.4 362.3L640.3 365L640.6 367.2L638.5 370.1L634 372.4L627.4 373.8L620.7 373.9ZM502.1 372.8L509.9 373.3L518.8 372.2L524.3 370.5L528.8 367.2L530.8 362.8L530.6 360.6L529.4 358.4L524.3 355L516.6 352.9L507.7 352.2L498.8 353.1L492.2 355.4L487.7 359.2L486.6 361.7L486.6 363.9L488.5 367.2L493.8 370.6L501.9 372.8ZM503.2 370.6L496.6 368.7L492.6 366.1L491 362.8L492.2 359.6L495.5 357L501 355.2L507.7 354.6L514.3 355.1L521 356.9L525 359.5L526.3 362.8L525.4 365.3L521.7 368.4L516.6 370.1L509.9 370.9L503.2 370.6ZM705 369.5L717.2 370.1L728.2 369L737.1 365.9L744.9 360.6L746.3 358.4L746.4 356.1L745.2 353.9L742.9 351.7L734.9 347.8L724.9 345.6L711.6 344.9L699.4 346.1L688.6 349.4L682.4 353.9L681.2 356.1L681.3 358.4L683.9 361.7L693.9 366.7L704.9 369.5ZM703.2 367.2L695 364.9L687.8 360.6L686.4 357.2L688.3 353.6L695 349.9L703.9 347.7L714.9 346.9L724.9 347.8L733.8 350.3L739.6 353.9L741.1 356.1L741.1 358.4L738.7 361.7L732.7 365.2L724.9 367.4L714.9 368.2L703.9 367.4ZM330.4 348.4L347 348.4L368.2 346.1L387.1 342.8L388.7 341.7L387.7 340.6L315.4 340.6L312 342.8L312.1 343.9L313.6 345L321.5 347.2L330.2 348.3Z"/><path fill="#a0d2ff" fill-rule="evenodd" d="M425.7 437.5L434.5 437.9L442.3 436.6L447.6 434L450.3 430.7L451.1 426.2L448.6 422.9L442.3 419.8L434.5 417.9L426.8 417.4L420.1 418.6L414.6 421.3L411.5 425.1L411.1 427.3L411.6 429.6L414.2 432.9L419 435.6L425 437.3ZM427.2 430.7L424.1 428.4L423.8 427.3L424.6 425.8L428.6 424L433.4 424.4L437 426.2L438 428.4L437.4 429.6L433.4 431.2L427.9 430.9ZM72.1 430.7L88.7 431L140.8 429.1L186.3 422.6L211.8 417.5L256.1 413.1L259.4 411.1L265.9 401.7L269.4 398.2L278.3 394.6L291.6 386.9L299.1 380.6L299.6 378.4L298.7 377.3L281.6 369.5L278.5 366.1L279.3 363.9L280.7 362.8L293.6 357.2L300.4 352.6L304.9 351.9L330.4 352.2L376.9 347.5L402.4 345.8L410.7 343.9L411.9 342.8L411.9 341.7L410.8 340.6L387.7 340.6L388.7 341.7L387.1 342.8L382.7 343.9L358.8 347.2L338.1 348.7L325.9 347.9L315.9 345.9L312.1 343.9L312 342.8L315.4 340.6L281.2 340.6L276.6 342.8L272.7 345.7L270.5 346.3L254 340.6L227.2 340.6L207.9 352.8L185.8 365L181.3 368.4L179 372.8L178.4 386.2L175.2 389.3L99.8 413.4L76.3 418.4L68.9 420.6L66.6 421.7L66.6 429.8L71.5 430.7ZM141.2 422.9L136.7 420.6L135.6 417.3L137.6 412.9L143.1 408.4L157.4 401.9L182.9 395.1L187.4 392.8L189.3 389.5L188.6 378.4L189.4 371.7L191.3 367.2L195.5 362.8L212.9 352.3L226.2 345.7L233.9 344L242.8 344.7L251.7 347.7L259.4 352.4L266.8 359.5L270.7 367.2L272.7 369.8L276 371.9L291.5 377.3L292.5 378.4L291.6 380.7L270.5 390.3L266.1 394.2L256.1 405.5L251.7 408.6L246.1 411L238.4 412.5L228.4 413.2L205.1 412.4L182.9 419.2L170.8 421.9L154.1 423.8L141.9 423.1ZM870.1 430.7L873.4 431L873.4 418.6L864.5 421.8L861.2 424L859.8 426.2L860.1 427.5L862.4 429L869.5 430.7ZM281.6 424L286 424.4L288.2 423.1L288.9 421.8L288.7 419.5L287.3 417.3L282.7 414L280.5 413.5L278.3 414L277 415.1L276.2 417.3L278.2 421.8L281.4 424ZM729.4 414.1L737.1 414.8L743.8 413.8L745.5 412.9L745.7 411.8L744.7 410.6L740.4 409L733.8 408.4L728 409.5L726.2 410.6L725.7 411.8L726.4 412.9L728.8 414ZM383.6 409.7L391.3 409.9L399 407.3L402.2 404L402.8 399.5L404.1 397.3L407 395.1L417.9 389.4L422.3 385.7L424 382.8L424.3 380.6L423.5 377.3L421.4 373.9L421.5 372.8L424.4 369.5L425 367.2L423.3 365L420.1 363.6L411.3 362.9L406.8 363.6L396.8 366.9L381.3 368.1L371.4 367.8L366.2 369.5L363.4 371.7L361.4 376.2L362.5 381.7L365.5 386.2L371.4 392.4L374.7 394.8L379.1 396.6L381 398.4L382.1 401.7L380.7 407.3L382.8 409.5ZM386.1 391.7L373.6 387.8L369.1 384.6L367 381.7L366.3 379.5L366.8 376.2L368.7 373.9L373.6 371.8L380.2 371.9L400.2 370L407.9 365.5L412.4 364.7L416.9 365L419.7 366.1L420.9 368.4L419 370.6L414.8 372.8L414.1 373.9L418 379.5L417.6 382.8L416 385L410.2 388.7L401.3 391.6L393.5 392.7L386.9 392ZM514.3 398.4L527.6 399.1L538.7 397.5L541.3 396.2L541.3 395.1L539.6 394L535 392.8L523.2 392.2L512.1 393.4L508.5 395.1L508.4 396.2L509.9 397.3L514.2 398.4ZM777 387.3L783.7 387.8L790.3 387L795.8 385L800.3 381.9L841.3 381.3L849 379.8L854 377.3L856.4 375L857.1 372.8L856.4 370.6L854.1 368.4L850.2 366.3L840.2 363.5L830.2 362.3L819.1 362.1L808 363.1L801.4 364.6L797 367L793.6 370.6L792.2 373.9L793 378.4L792.5 379L777.4 380.6L770.7 382.8L770.1 383.9L770.7 385L776.8 387.3ZM778.9 385L777.4 383.9L778.8 382.8L783.7 382.1L788.1 382.4L789.4 382.8L789.6 383.9L787.4 385L779.2 385.1ZM808 379.5L801.4 377.4L798.8 375L799 371.7L802.5 368.3L808 366.1L815.8 364.9L825.8 364.7L834.6 365.6L842.4 367.6L847.6 370.6L848.3 371.7L848.3 373.9L844.3 377.3L840.2 378.7L834.6 379.6L808 379.5ZM618.5 377.3L628.5 377.2L637.4 375.7L644 372.6L647.9 368.4L648.6 366.1L648.1 363.9L644.7 360.6L638.5 357.8L628.5 355.9L619.6 355.7L610.8 357L605.2 359L601.3 362.8L600.5 365L600.4 368.4L603 372.7L608.5 375.6L617.8 377.3ZM615.3 375L608.5 373.2L604.6 370.6L603.1 367.2L603.3 365L604.5 362.8L608.5 360L615.2 358.1L623 357.5L630.7 358.1L637.4 359.8L642.6 362.8L644.5 366.1L643.3 369.5L639.6 372.3L632.9 374.6L625.2 375.6L616.3 375.2ZM501 375.1L511 375.7L521 374.5L527.6 372.3L532.1 368.6L534.4 362.8L534.4 359.5L533.5 357.2L528.7 353.5L519.9 350.8L508.8 349.8L498.8 350.5L491.1 352.7L485.5 356.9L482.8 362.8L482.9 365L484 367.2L486.6 369.8L491.1 372.2L500.5 375ZM501.9 372.8L493.8 370.6L488.5 367.2L486.6 363.9L486.6 361.7L487.7 359.2L492.2 355.4L498.8 353.1L507.7 352.2L516.6 352.9L524.3 355L529.4 358.4L530.6 360.6L530.8 362.8L528.8 367.2L524.3 370.5L518.8 372.2L509.9 373.3L502.1 372.8ZM707.2 371.7L722.7 371.9L732.7 370.4L743.8 365L748.8 361.7L752 358.4L752.5 356.1L751.7 353.9L748.4 350.6L744.7 348.3L733.8 344.5L721.6 342.7L706.1 342.7L691.7 345.1L680.9 349.4L677.8 351.7L675.3 355L675 357.2L675.9 359.5L680.3 362.8L696.1 369.6L706.9 371.7ZM704.9 369.5L693.9 366.7L683.9 361.7L681.3 358.4L681.2 356.1L682.4 353.9L688.6 349.4L699.4 346.1L711.6 344.9L724.9 345.6L734.9 347.8L742.9 351.7L745.2 353.9L746.4 356.1L746.3 358.4L744.9 360.6L737.1 365.9L728.2 369L717.2 370.1L705 369.5ZM155.2 370.8L161.9 370.3L164.1 369.2L165.3 367.2L162.6 363.9L154.1 360.4L147.5 359.4L145.3 360.4L144.8 361.7L145.3 363.9L147.5 366.5L150.8 369L154.4 370.6Z"/><path fill="#ccf5ff" fill-rule="evenodd" d="M67.7 438.4L145.1 438.4L145.5 436.2L147.4 434L153.7 430.7L167.4 427.5L181.8 426.4L194 427.5L202.9 430.4L204.9 431.8L206.5 434L206.2 436.2L204.2 438.4L311.2 438.4L310 434L311.8 426.2L311.1 424L301.5 419.6L296 415.5L288.7 407.3L286.4 401.7L287 398.4L289.2 395.1L300.4 384.8L308.1 379.5L308.4 378.4L289 369.5L287 367.2L286.8 366.1L288.2 363.9L294.4 360.6L301.5 358.6L322.6 357.1L342.5 353L361.4 350.5L390.2 349L400.2 349.6L414.6 351.9L419 351.7L424.6 350.1L430.1 347.1L433.9 343.9L435.2 340.6L410.8 340.6L411.9 341.7L411.9 342.8L410.7 343.9L404.6 345.5L376.9 347.5L335.9 351.7L322.6 352.5L304.9 351.9L300.4 352.6L293.6 357.2L280.7 362.8L279.3 363.9L278.5 366.1L281.6 369.5L298.7 377.3L299.6 378.4L299.1 380.6L291.6 386.9L278.3 394.6L269.4 398.2L265.9 401.7L259.4 411.1L256.1 413.1L211.8 417.5L186.3 422.6L139.7 429.2L83.2 431.1L73.2 430.8L66.6 429.8L66.6 438.4ZM232.3 430.7L225.1 429.4L219.7 427.3L217.2 425.1L217.1 422.9L218 421.8L222.2 419.5L230.6 417.8L241.7 417L250.9 417.3L256.4 418.4L260.8 420.6L261.8 421.8L262.2 424L260.5 426.3L256.1 428.6L249.4 430.3L240.6 431.1L232.8 430.7ZM281.4 424L278.2 421.8L276.2 417.3L277 415.1L278.3 414L280.5 413.5L282.7 414L287.3 417.3L288.7 419.5L288.9 421.8L288.2 423.1L286 424.4L281.6 424ZM405.7 437.6L406.5 438.4L455 438.4L456 431.8L458.7 425.1L458.4 422.9L457.2 421.8L449 418.4L423.8 411.8L420.4 409.5L420.1 397.3L422.2 394L428.6 387.3L430.7 382.8L430.7 378.4L428.4 372.8L429.2 367.2L428.2 365L424.6 362.3L421.2 361L414.6 359.8L406.8 360L381.3 364.5L370.2 365.2L359.2 369.2L342.6 372.8L333.3 376.2L333.4 377.3L351.4 379.9L355.8 381.9L359.2 384.2L363.7 389.5L366.2 395.1L366.8 401.7L365.5 410.6L366.3 412.9L369.1 414.8L373.4 416.2L394.8 419.5L398.3 420.6L399.8 422.9L403 432.9L405.5 437.3ZM425 437.3L419 435.6L414.2 432.9L411.6 429.6L411.1 427.3L411.5 425.1L414.6 421.3L420.1 418.6L426.8 417.4L434.5 417.9L442.3 419.8L448.6 422.9L451.1 426.2L450.3 430.7L447.6 434L442.3 436.6L434.5 437.9L425.7 437.5ZM382.8 409.5L380.7 407.3L382.1 401.7L381 398.4L379.1 396.6L374.7 394.8L371.4 392.4L365.5 386.2L362.5 381.7L361.4 376.2L363.4 371.7L366.2 369.5L371.4 367.8L381.3 368.1L396.8 366.9L406.8 363.6L411.3 362.9L420.1 363.6L423.3 365L425 367.2L424.4 369.5L421.5 372.8L421.4 373.9L423.5 377.3L424.3 380.6L424 382.8L422.3 385.7L417.9 389.4L407 395.1L404.1 397.3L402.8 399.5L402.2 404L399 407.3L391.3 409.9L383.6 409.7ZM812.5 437.4L814.7 438.4L873.4 438.4L873.4 431L863.6 429.6L861.1 428.4L859.8 426.2L861.2 424L864.5 421.8L873.4 418.6L873.4 410.4L861.2 411.3L850.2 410.3L841.3 408.2L826.9 402.8L822.4 402.9L816.9 404.3L814.7 406.1L814.5 407.3L818.8 418.4L818.9 422.9L815.8 426.2L806.1 429.6L804.7 430.7L805.6 432.9L812.4 437.3ZM621.8 436.2L635.1 435.9L647.3 434.4L657.3 432L665.7 428.4L669.9 425.1L671.4 422.9L671.9 420.6L671.4 418.4L670 416.2L664 411.9L656.2 409L648.4 407.6L646.2 408.3L644.5 410.6L640.4 412.9L629.6 415.3L615.2 416L600.8 414.6L591.2 411.8L587.4 407.3L577.5 401L558.7 392.6L547.6 389.8L527.6 388.2L508.8 389.1L501 391.1L495.7 394L488 404L484.3 411.8L484 414L484.6 416.2L488.8 419.5L496.9 421.8L504.4 422.4L539.8 417.6L560.9 416.3L574.2 416.4L581.9 419L598.6 431L603 433.5L610.8 435.4L621.4 436.2ZM514.2 398.4L509.9 397.3L508.4 396.2L508.5 395.1L512.1 393.4L523.2 392.2L535 392.8L539.6 394L541.3 395.1L541.3 396.2L538.7 397.5L527.6 399.1L514.3 398.4ZM67.7 421.2L76.3 418.4L100.9 413.1L174.9 389.5L176.7 388.4L178.4 386.2L179 372.8L181.3 368.4L185.8 365L207.9 352.8L227.2 340.6L218 340.6L215.8 343.9L212.1 347.2L199.7 355L189.6 359.3L180.7 360.7L169.6 358.8L157.4 353.4L149.8 347.2L147.3 343.9L146 340.6L132.7 340.6L133.4 348.3L131.8 358.4L132 361.7L133.9 365L140.4 372.8L142.1 377.3L141.4 381.7L139.2 385L132 391.2L119.8 397L97.6 403.1L82.1 409.1L66.6 411.2L66.6 421.7ZM154.4 370.6L150.8 369L147.5 366.5L145.3 363.9L144.8 361.7L145.3 360.4L147.5 359.4L154.1 360.4L162.6 363.9L165.3 367.2L164.1 369.2L161.9 370.3L155.2 370.8ZM732.7 419.6L756 418.9L761.3 417.3L761.9 415.1L760.3 412.9L757.4 410.6L750.4 407.1L738.2 403.5L727.1 402L719.4 402.7L710.5 405.4L705.8 408.4L704.4 410.6L704.4 412.9L707.2 415.8L711.6 417.5L719.4 418.7L731.8 419.5ZM728.8 414L726.4 412.9L725.7 411.8L726.2 410.6L728 409.5L733.8 408.4L740.4 409L744.7 410.6L745.7 411.8L745.5 412.9L743.8 413.8L737.1 414.8L729.4 414.1ZM669.5 400.7L675 401L680.6 400.2L688.3 396.7L691.1 394L692 390.6L689.9 388.4L687.1 387.3L681.7 386.7L665.1 386.7L657.9 388.4L656.5 389.5L655.8 391.7L657.7 395.1L662.8 398.7L669.2 400.6ZM778.1 389.5L785.9 390.2L794.7 389.3L805.8 387.2L809.2 385L812.7 383.9L818 383.3L834.6 383.3L846.8 386.3L854.6 384.3L860.1 381L866 376.2L869.9 371.7L871.2 368.4L870.1 366.8L866.3 365L846.8 359.2L838 358L826.9 358.1L804.7 359.6L795.8 361.1L792.5 363.4L783.7 377.3L768.5 380.6L764 382.8L765 385L767 386.4L771.5 388.1L778 389.5ZM776.8 387.3L770.7 385L770.1 383.9L770.7 382.8L777.4 380.6L792.5 379L793 378.4L792.2 373.9L793.6 370.6L797 367L801.4 364.6L808 363.1L819.1 362.1L830.2 362.3L840.2 363.5L850.2 366.3L854.1 368.4L856.4 370.6L857.1 372.8L856.4 375L854 377.3L849 379.8L841.3 381.3L800.3 381.9L795.8 385L790.3 387L783.7 387.8L777 387.3ZM509.9 380.6L521 380.2L529.8 377.7L532.1 375.9L534.3 372.6L537.4 363.9L538.5 355L538.2 352.8L536.5 350.2L531 347.5L518.8 345.2L504.4 344.8L497.7 345.7L491.1 347.9L487.7 349.8L484.4 353.1L481.1 358.4L479.4 362.8L479.1 366.1L480 368.4L485.5 373L496.6 377.9L504.4 380L509.4 380.6ZM500.5 375L491.1 372.2L486.6 369.8L484 367.2L482.9 365L482.8 362.8L485.5 356.9L491.1 352.7L498.8 350.5L508.8 349.8L519.9 350.8L528.7 353.5L533.5 357.2L534.4 359.5L534.4 362.8L532.1 368.6L527.6 372.3L521 374.5L511 375.7L501 375.1ZM610.8 380.6L621.8 381.6L634 380.8L640.7 379.2L647.3 374.6L653.4 367.2L655.4 362.8L655.3 360.6L654 358.9L650.7 357L639.6 353.3L628.5 351.8L615.2 351.9L607.4 353.2L601.9 356.2L599.7 359.1L597.9 363.9L597.7 368.4L598.6 372.3L600.8 376.2L603 378.2L610.7 380.6ZM617.8 377.3L608.5 375.6L603 372.7L600.4 368.4L600.5 365L601.3 362.8L605.2 359L610.8 357L619.6 355.7L628.5 355.9L638.5 357.8L644.7 360.6L648.1 363.9L648.6 366.1L647.9 368.4L644 372.6L637.4 375.7L628.5 377.2L618.5 377.3ZM66.8 377.3L71.9 371.7L73.2 368.4L71 366.1L66.6 364.4L66.6 377.5ZM702.8 374L726 374.3L734.9 373.6L738.2 372.3L762.9 357.2L763.7 356.1L763.1 353.9L758.4 349.4L750.4 343.7L743.2 340.6L683.8 340.6L672.8 344.4L666.2 348.5L662.9 351.7L661.2 355L661.1 357.2L663.2 359.5L697.2 372.5L702.4 373.9ZM706.9 371.7L696.1 369.6L680.3 362.8L675.9 359.5L675 357.2L675.3 355L677.8 351.7L680.9 349.4L691.7 345.1L706.1 342.7L721.6 342.7L733.8 344.5L744.7 348.3L748.4 350.6L751.7 353.9L752.5 356.1L752 358.4L748.8 361.7L743.8 365L732.7 370.4L722.7 371.9L707.2 371.7ZM269.4 346.2L272.7 345.7L276.6 342.8L281.2 340.6L254 340.6L269.2 346.1Z"/><path fill="#ffdd33" fill-rule="evenodd" d="M160.8 437.6L163 438.4L189.9 438.4L192.9 437.3L195.4 435.1L194.8 432.9L192.9 431.6L182.9 429.3L168.5 430L159.6 432.9L158.2 435.1L160.2 437.3ZM324.8 438L325.4 438.4L335.5 438.4L331.8 436.2L329.9 434L329.5 431.8L331 428.4L334.8 425.4L339.2 423.3L350.3 421.3L358.1 421.6L367.1 422.9L374.7 425L379 427.3L381.2 429.6L381.8 432.9L379.3 436.2L375.5 438.4L386.2 438.4L389.7 435.1L390.7 432.9L390.2 429.6L388 426.8L384.7 424.5L375.8 421.3L357.7 417.3L354.7 416.2L353.6 415.1L354.2 412.9L358.8 405.1L360.6 399.5L360.7 394L358.1 389.4L352.5 386.2L343.7 384L331.5 382.8L319.3 382.9L311.5 383.7L306 385.4L301.6 388.4L297.7 392.8L294.7 398.4L294.1 402.8L295.6 407.3L299 411.8L302 414L306 415.6L323.7 418.4L327.3 419.5L328.1 420.6L321.6 430.7L321.7 434L324 437.3ZM314.8 412.9L305.6 410.6L302.6 408.7L300.4 405.9L299.4 402.8L299.6 399.5L303.8 392L308.2 388.8L314.6 387.3L325.9 386.6L336.6 387.3L347 389.6L351 391.7L352.5 393.5L353.4 396.2L353.1 399.5L351.4 404L349.2 407.2L344.4 410.6L337 412.8L327 413.5L314.8 412.9ZM467.8 437.5L472.4 438.4L484.8 438.4L494.4 435.8L497.9 432.9L497.9 430.7L495.6 428.4L490.4 426.2L483.3 424.7L476.6 424.3L471.1 424.7L466.7 426L463.2 428.4L461.6 431.8L462.9 435.1L467.1 437.3ZM472.3 434L469.8 431.8L471.3 429.6L475.5 428.3L482.2 428.7L486.7 430.7L487.1 431.8L486.5 432.9L484.4 434L480 434.8L473.3 434.3ZM525.4 437.7L527.3 438.4L567.9 438.4L572.7 436.2L575.5 432.9L574.6 429.6L569.8 426.2L562 423.8L552 422.8L539.8 423.2L529.1 425.1L523.1 427.3L519.4 430.7L519.9 434L524.5 437.3ZM698.3 438.4L706.7 438.4L706.3 435.1L707.5 432.9L710.2 430.7L714.9 428.5L722.7 426.7L731.6 426L740.4 426.7L748.2 428.5L752.9 430.7L755.6 432.9L756.9 435.1L756.4 438.4L765.3 438.4L765.7 435.1L764.8 432.9L761.5 429.6L757.1 427.1L746 423.8L730.5 422.8L717.2 423.8L705.5 427.3L701.6 429.6L698.4 432.9L697.4 435.1L697.8 438.4ZM231.7 426.2L239.5 427.2L247.3 426.2L249.8 425.1L250.9 424L250.9 422.9L247.2 420.9L238.4 420.5L230.8 421.8L228.8 422.9L228.4 424L231.7 426.2ZM791.4 418.5L800.6 418.4L803.2 417.3L804.4 415.1L803.9 412.9L801.5 409.5L794.6 404L781.4 396.5L765.9 389.5L746 382.1L731.6 378.6L718.3 378.2L714.9 379.2L713.7 380.6L714.3 382.8L716 385L724.4 391.7L738.1 399.5L756 406.5L770.4 413L781.4 416.5L791.1 418.4ZM777.8 410.6L770 408.4L749.9 400.6L736 392.8L731.6 388.4L731.6 386.2L736 385.2L743.2 386.2L751.6 388.4L763.8 392.8L773.5 397.3L783.1 402.8L788.3 407.3L789.2 409.5L788.6 410.6L784.8 411.5L778.1 410.7ZM454.5 416.3L460 416.4L465.6 415.3L470 413L474.4 409.1L477.1 405.1L478.3 401.7L479.6 391.7L481.5 383.9L481.1 379.5L475.2 372.8L473.8 369.5L474.5 366.1L479.5 353.9L479.8 351.7L479.2 349.4L477.1 347.2L473.3 345.1L463.4 342.6L455.6 342.7L447.8 344.5L440.6 348.3L436.4 352.8L435.2 356.1L435.3 359.5L436.8 363.5L441.5 371.7L442.1 381.7L440.1 386.2L430.9 395.1L428.4 400.6L429.2 406.2L430.7 408.4L433.4 410.5L442.3 413.9L453.5 416.2ZM449.6 412.9L441.3 410.6L436.8 407.9L434.1 404L434.3 399.5L437.6 395.1L443.4 391.6L451.2 389.7L458.9 390L465.6 391.9L470 395.1L472.2 399.5L471.7 404L468.5 408.4L463.4 411.6L456.7 413.1L450 412.9ZM451.5 367.2L445.6 364.5L442.3 361L441.1 357.2L442.5 352.8L446.7 349.2L453.4 346.8L460 346.2L467.3 347.2L472.2 349.4L475 352.8L474.8 357.2L472.2 362.3L468.9 365.7L464.5 367.7L458.9 368.3L452.3 367.5ZM611.9 410.7L620.7 411.1L623.7 410.6L624 409.5L616.3 408.8L611.8 409.5L611.7 410.6ZM67.7 406.8L77 405.1L86.5 399.5L106.5 396.7L118.7 393.3L128.6 388.1L132.4 385L135 381.7L136.1 377.3L134.6 372.8L130.8 368.5L124 362.8L122.6 360.6L125.5 352.8L125.3 349.4L124.1 347.2L120.9 344.3L116.4 342.4L105.4 341.5L78.8 343.5L72.1 345L66.6 347.4L66.6 355.8L67.7 356.5L76.5 359.4L93.6 361.7L97.1 362.8L98.3 363.9L97.9 365L94.5 367.2L78.8 374.6L73.8 378.4L70.8 381.7L68.9 386.2L70.2 392.8L68.8 394.8L66.6 395.6L66.6 406.9ZM87.3 395.1L81 393.4L76 389.5L75 387.3L74.9 385L75.6 382.8L78.1 379.5L86.3 373.9L100.9 368.1L109.8 365.7L116.4 365.7L124.2 368L129.9 372.8L131.2 375L131.6 378.4L130.4 381.7L128.7 383.9L120.9 389.4L110.9 393.2L98.7 395.3L87.6 395.1ZM97.2 358.4L81 355L77.1 352.8L77 350.6L80.7 348.3L85.4 347.2L99.8 345.4L108.7 345.7L113.8 347.2L116.7 349.4L117.5 351.7L115.9 355L112 357.5L107.6 358.9L97.6 358.4ZM855.7 406.2L864.6 406.9L873.4 405.6L873.4 388.5L872.8 386.2L873.4 377L869.6 380.6L867.1 385L867 388.4L868.2 392.8L867.9 394L864.6 395.6L852.1 398.4L848.5 400.6L848.3 402.8L849.5 404L855.5 406.2ZM562 381.8L572 381.9L581.9 380.3L590.8 376.8L594.1 373.4L595.1 361.7L594.7 359.5L593.3 357.2L586.4 353.3L575.3 350.7L564.2 350.3L553.1 352L545.9 355L542 359.5L539.6 368.4L539.7 371.7L540.9 374.2L544.3 376.9L548.7 378.9L561.2 381.7ZM557.6 378.4L548.7 375.3L544.2 371.7L543.2 369.5L543.1 366.1L544 362.8L546 359.5L550.9 356L558.7 353.7L568.6 352.9L577.5 353.9L586.4 356.9L590.8 360.6L592.1 366.1L590.7 371.7L586.4 375.3L578.6 378.1L568.6 379.3L558.7 378.6ZM664 381.7L673.9 382.2L687.2 381.5L691.1 380.6L694.1 378.4L694.4 377.3L693.4 375L688.5 371.7L677.3 367.2L669.5 365.9L665.1 366.2L660.6 367.8L657 370.6L654.1 375L653.9 377.3L655.3 379.5L658.4 381.1L663.2 381.7ZM666.7 372.8L667.7 371.7L669.5 371.3L674.1 371.7L673.8 372.8L667.3 373.2ZM759.3 376.2L771.5 376.1L775.4 375L778.7 372.8L781.1 369.5L781.6 366.1L778.9 363.9L774.1 362.8L767 362.6L761.5 363.6L755.4 366.1L750.8 369.5L749.5 371.7L751.1 373.9L759.1 376.2ZM304.9 374.1L313.7 374.8L324.8 373.7L345.9 368.7L359.2 366.4L370.2 362.9L381.3 361.5L389.1 358.9L394.2 356.1L395.4 353.9L394.3 352.8L391.3 351.8L379.1 351L359.2 352.2L347 354L328.1 358.7L300.4 361.2L294.6 363.9L293.6 365L293.3 367.2L296.4 370.6L304.3 373.9ZM305.6 371.7L301.2 369.5L299.9 367.2L300.4 365L304.9 362.8L333.7 360.2L347.8 356.1L359.2 354.1L382 353.9L384.2 355L384.1 356.1L380.4 358.4L370.2 359.9L359.2 363.8L347 365.6L322.9 371.7L313.7 372.5L306 371.8ZM871.2 358.6L873.4 359.1L873.4 344.1L864.9 347.2L861.6 350.6L861.6 352.8L863.4 355L870.4 358.4ZM175.2 356.2L180.7 357L186.3 356.8L196.2 353.9L202.3 350.6L208.2 346.1L210.6 342.8L211 340.6L202.3 340.6L202.7 343.9L198.4 348.3L191.8 351.8L184 353.1L176.3 352.1L169.6 349.2L165.9 345L165.7 342.8L166.8 340.6L157.4 340.6L157 342.8L157.5 345L160.9 349.4L167.4 353.6L174.8 356.1ZM793.6 353.9L810.3 354L824.7 351.2L830.2 348.7L833.5 346.1L834.7 343.9L834.2 340.6L819.1 340.6L820.2 342.8L819.9 343.9L817.5 346.1L811 348.3L802.5 349.1L794 348.3L787.4 346.1L785.1 343.9L784.8 342.8L785.9 340.6L770.7 340.6L770.2 342.8L770.8 345L774.8 348.7L782.6 351.9L793.4 353.9Z"/><path fill="#ff6e00" fill-rule="evenodd" d="M333.7 437.5L335.5 438.4L375.5 438.4L379.3 436.2L381.8 432.9L381.2 429.6L377.2 426.2L370.2 423.6L360.3 421.8L350.3 421.3L342.5 422.3L335.2 425.1L330.2 429.6L329.5 431.8L329.9 434L333.4 437.3ZM348.5 437.3L344.5 436.2L341 434L340.2 431.8L341.4 429.6L345.4 427.3L349.8 426.2L361.4 426.3L365.9 427.3L370.2 429.6L371.5 431.8L370.6 434L366.8 436.2L362.5 437.4L355.8 437.9L349.2 437.4ZM707.2 438.4L718.1 438.4L717.2 437L717.2 435.1L719.6 432.9L724.9 431L731.6 430.4L738.2 431L743.6 432.9L745.9 435.1L746 437L745.1 438.4L756.4 438.4L757 436.2L756.4 434L754.5 431.8L750.8 429.6L742.7 427L731.6 426L720.5 427L712.3 429.6L708.7 431.8L706.7 434L706.1 436.2L706.7 438.4ZM473.3 434.3L480 434.8L484.4 434L486.5 432.9L487.1 431.8L486.7 430.7L482.2 428.7L475.5 428.3L471.3 429.6L469.8 431.8L472.3 434ZM314.8 412.9L327 413.5L337 412.8L344.4 410.6L349.2 407.2L351.4 404L353.1 399.5L353.4 396.2L352.5 393.5L351 391.7L347 389.6L336.6 387.3L325.9 386.6L314.6 387.3L308.2 388.8L303.8 392L299.6 399.5L299.4 402.8L300.4 405.9L302.6 408.7L305.6 410.6L314.8 412.9ZM317.6 408.4L310.4 407.1L306.4 405.1L304.6 401.7L306 398.2L309.3 395.4L314.8 393.3L323.7 392.2L331.5 392.4L338.1 393.8L341.7 396.2L342.9 399.5L342.5 401.7L341.1 404L338 406.2L332.6 407.9L325.9 408.6L318.2 408.5ZM450 412.9L456.7 413.1L463.4 411.6L468.5 408.4L471.7 404L472.2 399.5L470 395.1L465.6 391.9L458.9 390L451.2 389.7L443.4 391.6L437.6 395.1L434.3 399.5L434.1 404L436.8 407.9L441.3 410.6L449.6 412.9ZM450.4 409.5L445.9 408.4L442.1 406.2L440.4 404L440.1 400.6L442.2 397.3L445.6 395.2L450 393.9L455.6 393.8L460.8 395.1L464.4 397.3L465.9 399.5L466 402.8L463.7 406.2L460.1 408.4L455.6 409.6L451.2 409.6ZM778.1 410.7L784.8 411.5L788.6 410.6L789.2 409.5L788.3 407.3L783.1 402.8L773.5 397.3L763.8 392.8L751.6 388.4L743.2 386.2L736 385.2L731.6 386.2L731.6 388.4L736 392.8L749.9 400.6L770 408.4L777.8 410.6ZM87.6 395.1L98.7 395.3L110.9 393.2L120.9 389.4L128.7 383.9L130.4 381.7L131.6 378.4L131.2 375L129.9 372.8L124.2 368L116.4 365.7L109.8 365.7L100.9 368.1L86.3 373.9L78.1 379.5L75.6 382.8L74.9 385L75 387.3L76 389.5L81 393.4L87.3 395.1ZM91.9 392.8L85.4 391.3L81 388.3L79.9 386.2L80 383.9L82.9 379.5L89.7 375L99.8 371.1L108.7 368.8L115.3 368.7L122 370.5L126.4 374.4L127.4 377.3L127.2 379.5L124.3 383.9L117.6 388.4L109.8 391.2L100.9 392.8L92.1 392.9ZM873.4 388.5L873.4 383.3L872.8 386.2L873.4 388.4ZM558.7 378.6L568.6 379.3L578.6 378.1L586.4 375.3L590.7 371.7L592.1 366.1L590.8 360.6L586.4 356.9L577.5 353.9L568.6 352.9L558.7 353.7L550.9 356L546 359.5L544 362.8L543.1 366.1L543.2 369.5L544.2 371.7L548.7 375.3L557.6 378.4ZM558.4 376.2L550.9 373.3L547.1 369.5L546.6 365L549.2 360.6L554.2 357.4L560.9 355.6L568.6 355.1L576.7 356.1L583.1 358.4L587.5 361.9L588.5 363.9L588.7 367.2L586.4 371.6L580.8 374.9L574.2 376.6L566.4 377.1L558.7 376.2ZM667.3 373.2L673.8 372.8L674.1 371.7L669.5 371.3L667.7 371.7L666.7 372.8ZM306 371.8L313.7 372.5L322.9 371.7L347 365.6L359.2 363.8L370.2 359.9L380.4 358.4L384.1 356.1L384.2 355L382 353.9L359.2 354.1L347.8 356.1L333.7 360.2L304.9 362.8L300.4 365L299.9 367.2L301.2 369.5L305.6 371.7ZM313.6 368.4L312.4 367.2L312.4 366.1L315.9 364.5L324.8 363.5L332.2 363.9L333.7 365L332.7 366.1L326.4 368.4L319.3 369.1L313.7 368.4ZM452.3 367.5L458.9 368.3L464.5 367.7L468.9 365.7L472.2 362.3L474.8 357.2L475 352.8L472.2 349.4L467.3 347.2L460 346.2L453.4 346.8L446.7 349.2L442.5 352.8L441.1 357.2L442.3 361L445.6 364.5L451.5 367.2ZM455.5 363.9L451.9 362.8L448.6 360.6L447.3 358.4L447.6 355L449.4 352.8L453.7 350.6L458.9 349.8L463.4 350.2L467.4 351.7L469.6 353.9L470.1 356.1L469 359.5L466.7 362L463.4 363.6L455.6 363.9ZM97.6 358.4L107.6 358.9L112 357.5L115.9 355L117.5 351.7L116.7 349.4L113.8 347.2L108.7 345.7L99.8 345.4L85.4 347.2L80.7 348.3L77 350.6L77.1 352.8L81 355L97.2 358.4ZM179.6 352.8L187.8 352.8L195.1 350.3L198.5 348.3L202 345L203 342.8L202.3 340.6L166.8 340.6L165.7 343.9L167.4 347.3L172 350.6L179.2 352.8ZM794.7 348.5L805.8 349L815.1 347.2L817.5 346.1L819.9 343.9L820.2 342.8L819.1 340.6L785.9 340.6L784.8 342.8L785.9 345L789.9 347.2L794 348.3Z"/><path fill="#ff0000" fill-rule="evenodd" d="M349.2 437.4L355.8 437.9L362.5 437.4L366.8 436.2L370.6 434L371.5 431.8L370.2 429.6L365.9 427.3L361.4 426.3L349.8 426.2L345.4 427.3L341.4 429.6L340.2 431.8L341 434L344.5 436.2L348.5 437.3ZM718.3 438.4L745.1 438.4L746 437L745.9 435.1L743.6 432.9L738.2 431L731.6 430.4L724.9 431L719.6 432.9L717.2 435.1L717.2 437L718.1 438.4ZM451.2 409.6L455.6 409.6L460.1 408.4L463.7 406.2L466 402.8L465.9 399.5L464.4 397.3L460.8 395.1L455.6 393.8L450.1 393.9L445.6 395.2L442.2 397.3L440.1 400.6L440.4 404L442.1 406.2L445.9 408.4L450.4 409.5ZM318.2 408.5L325.9 408.6L332.6 407.9L338 406.2L341.1 404L342.5 401.7L342.9 399.5L341.7 396.2L338.1 393.8L331.5 392.4L323.7 392.2L314.8 393.3L309.3 395.4L306 398.2L304.6 401.7L306.4 405.1L310.4 407.1L317.6 408.4ZM92.1 392.9L100.9 392.8L109.8 391.2L117.6 388.4L124.3 383.9L127.2 379.5L127.4 377.3L126.4 374.4L122 370.5L115.3 368.7L108.7 368.8L99.8 371.1L89.7 375L82.9 379.5L80 383.9L79.9 386.2L81 388.3L85.4 391.3L91.9 392.8ZM90.6 389.5L86.5 387.3L85.3 385L86.2 381.7L89.7 378.4L96.2 375L104.2 372.4L110.9 371.4L116.4 371.9L120.5 373.9L122.6 377.3L122.4 379.5L121.3 381.7L117.7 385L110.9 388.3L104.2 389.9L97.6 390.5L91 389.6ZM558.7 376.2L566.4 377.1L574.2 376.6L580.8 374.9L586.4 371.6L588.7 367.2L588.5 363.9L587.5 361.9L583.1 358.4L576.7 356.1L568.6 355.1L560.9 355.6L554.2 357.4L549.2 360.6L546.6 365L547.1 369.5L550.9 373.3L558.4 376.2ZM559.8 373.9L554.2 371.7L551 368.4L550.7 365L552.9 361.7L556.5 359.5L563.1 357.7L568.6 357.5L575.3 358.4L580.8 360.6L583.4 362.8L584.6 366.1L583.1 369.9L578.7 372.8L574.2 374.2L567.5 374.8L560.9 374.2ZM313.7 368.4L319.3 369.1L326.4 368.4L332.7 366.1L333.7 365L332.2 363.9L324.8 363.5L315.9 364.5L312.4 366.1L312.4 367.2L313.6 368.4ZM455.6 363.9L463.4 363.6L466.7 362L469 359.5L470.1 356.1L469.6 353.9L467.4 351.7L463.4 350.2L458.9 349.8L453.7 350.6L449.4 352.8L447.6 355L447.3 358.4L448.6 360.6L451.9 362.8L455.5 363.9Z"/><path fill="#a02020" fill-rule="evenodd" d="M91 389.6L97.6 390.5L104.2 389.9L110.9 388.3L117.7 385L121.3 381.7L122.4 379.5L122.6 377.3L120.5 373.9L116.4 371.9L110.9 371.4L104.2 372.4L96.2 375L89.7 378.4L86.2 381.7L85.3 385L86.5 387.3L90.6 389.5ZM96.9 385L95.3 383.9L95.1 382.8L97.8 379.5L105.3 376.2L112 375.9L114.1 377.3L114.5 378.4L113.6 380.6L111 382.8L105.4 385.1L97.6 385.3ZM560.9 374.2L567.5 374.8L574.2 374.2L578.7 372.8L583.1 369.9L584.6 366.1L583.4 362.8L580.8 360.6L575.3 358.4L568.6 357.5L563.1 357.7L556.5 359.5L552.9 361.7L550.7 365L551 368.4L554.2 371.7L559.8 373.9ZM562.4 370.6L559.8 369.5L557.6 367.2L557.6 365L558.7 363.7L564.2 361.3L572.6 361.7L575.3 362.8L577.5 365L577.5 367.2L576.7 368.4L574.2 370L570.9 371L563.1 370.7Z"/><path fill="#ff69b4" fill-rule="evenodd" d="M97.6 385.3L105.4 385.1L111 382.8L113.6 380.6L114.5 378.4L114.1 377.3L112 375.9L105.3 376.2L97.8 379.5L95.1 382.8L95.3 383.9L96.9 385ZM563.1 370.7L570.9 371L574.2 370L576.7 368.4L577.5 367.2L577.5 365L575.3 362.8L572.6 361.7L564.2 361.3L558.7 363.7L557.6 365L557.6 367.2L559.8 369.5L562.4 370.6Z"/>
<use href="#map" transform="translate(0,274)"/>
<line x1="71.0" y1="389.5" x2="869.0" y2="389.5" stroke="#008000" stroke-width="1.2" stroke-dasharray="4.7,5.3"/>
<line x1="470.0" y1="345" x2="470.0" y2="434.0" stroke="#008000" stroke-width="1.2" stroke-dasharray="4.3,5.7" stroke-dashoffset="5.1"/>
</g>
<rect x="71.0" y="345" width="798.0" height="89.0" fill="none" stroke="#000" stroke-width="2"/>
<path d="M71.0 345v-4M71.0 434.0v4M104.2 345v-2M104.2 434.0v2M137.5 345v-2M137.5 434.0v2M170.8 345v-4M170.8 434.0v4M204.0 345v-2M204.0 434.0v2M237.2 345v-2M237.2 434.0v2M270.5 345v-4M270.5 434.0v4M303.8 345v-2M303.8 434.0v2M337.0 345v-2M337.0 434.0v2M370.2 345v-4M370.2 434.0v4M403.5 345v-2M403.5 434.0v2M436.8 345v-2M436.8 434.0v2M470.0 345v-4M470.0 434.0v4M503.2 345v-2M503.2 434.0v2M536.5 345v-2M536.5 434.0v2M569.8 345v-4M569.8 434.0v4M603.0 345v-2M603.0 434.0v2M636.2 345v-2M636.2 434.0v2M669.5 345v-4M669.5 434.0v4M702.8 345v-2M702.8 434.0v2M736.0 345v-2M736.0 434.0v2M769.2 345v-4M769.2 434.0v4M802.5 345v-2M802.5 434.0v2M835.8 345v-2M835.8 434.0v2M869.0 345v-4M869.0 434.0v4M71.0 345.0h-4M869.0 345.0h4M71.0 356.1h-2M869.0 356.1h2M71.0 367.2h-2M869.0 367.2h2M71.0 378.4h-2M869.0 378.4h2M71.0 389.5h-4M869.0 389.5h4M71.0 400.6h-2M869.0 400.6h2M71.0 411.8h-2M869.0 411.8h2M71.0 422.9h-2M869.0 422.9h2M71.0 434.0h-4M869.0 434.0h4" stroke="#000" stroke-width="1.6" fill="none"/>
<text transform="translate(69.70,339.60) scale(0.993,1.048)" font-size="28">24-Nov-2011 to 28-Nov-2011</text>
<text transform="translate(871.50,339.60) scale(0.993,1.048)" font-size="28" text-anchor="end">Observed</text>
<text transform="translate(50.00,354.90) scale(1.0,1.053)" font-size="28" text-anchor="end">20N</text>
<text transform="translate(50.00,399.40) scale(1.0,1.053)" font-size="28" text-anchor="end">0</text>
<text transform="translate(50.00,443.90) scale(1.0,1.053)" font-size="28" text-anchor="end">20S</text>
<g clip-path="url(#c3)">
<rect x="71.0" y="482" width="798.0" height="89.0" fill="#ffffcc"/>
<path fill="#4169e1" fill-rule="evenodd" d="M243.9 550L251.7 550.7L255 549.8L257.7 547.6L258.4 545.4L257.4 543.2L254.6 541L251.7 539.7L247.2 538.9L242.8 539L239.5 539.9L237.2 541.5L236.5 543.2L237.2 545.9L239.5 548L243.3 549.9ZM220.6 524.3L227.3 525L233.9 524.1L238.4 522.2L240.3 519.8L240.6 516.5L237.9 512L233.1 508.7L227.3 506.5L220.6 505.6L215.1 506.1L210.6 507.9L208 510.9L207.6 514.3L210.1 518.7L214.7 522L220.5 524.3ZM392.4 503.2L398 502.7L400 502L400.9 500.9L400 499.8L395.2 498.7L390.2 499.1L387.8 499.8L386.9 500.8L387.6 502L391.9 503.1Z"/><path fill="#1e90ff" fill-rule="evenodd" d="M743.8 567.7L748.2 567.8L750.4 567.1L752.3 565.4L752.2 563.2L750.8 561L748.2 558.7L743.8 556.5L739.3 555.3L731.4 555.4L729.5 556.5L729 558.8L730.5 561.3L734.2 564.3L739.1 566.6L743.5 567.7ZM243.9 555.5L253.9 556.2L261.6 554.5L266.7 551L267.9 548.8L267.8 545.4L265 541L258.6 535.4L255.9 532.1L251.8 524.3L248.4 515.4L245.2 510.9L237.2 505.2L226.2 501.3L215.1 500.3L206.2 502.5L202.9 504.7L200.4 507.6L199.3 510.9L199.6 514.3L201.2 517.6L204 521.1L224 538.3L229 546.5L231.7 549.7L237.1 553.2L243.7 555.4ZM243.3 549.9L239.5 548L237.2 545.9L236.5 543.2L237.2 541.5L239.5 539.9L242.8 539L247.2 538.9L251.7 539.7L254.6 541L257.4 543.2L258.4 545.4L257.7 547.6L255 549.8L251.7 550.7L243.9 550ZM220.5 524.3L214.7 522L210.1 518.7L207.6 514.3L208 510.9L210.6 507.9L215.1 506.1L220.6 505.6L227.3 506.5L233.1 508.7L237.9 512L240.6 516.5L240.3 519.8L238.4 522.2L233.9 524.1L227.3 525L220.6 524.3ZM333.7 541L344.7 539.8L348.6 537.6L348.1 536.2L344.8 534.6L335.9 533.4L325.7 534.3L321.1 536.5L321 537.6L322.1 538.7L324.8 539.8L333.3 541ZM441.2 523.2L452.3 523L461.8 520.9L463.4 519.8L463 518.7L454.5 517.2L441.2 517.5L432.3 519.1L430.7 519.8L430.6 520.9L431.2 521.2L440.1 523.2ZM389.1 506.5L401.3 506.2L406.8 504.9L410.4 503.1L411.6 500.9L410.1 498.7L405.7 496.7L399.1 495.4L385.8 495.8L379.6 497.6L376.9 499.5L376.2 500.9L376.5 502L379.1 504.1L388.9 506.5ZM391.9 503.1L387.6 502L386.9 500.8L387.8 499.8L390.2 499.1L395.2 498.7L400 499.8L400.9 500.9L400 502L398 502.7L392.4 503.2ZM598.6 504.3L605.2 503.8L607.4 503L609.8 500.9L609.8 498.7L608.9 497.6L603.5 495.4L596.4 495.8L594.1 496.7L592 498.7L591.9 500.7L592.8 502L598.1 504.2ZM830.2 494.4L838.5 494.2L841.3 493L843.1 490.9L842.9 488.7L842 487.6L838.3 485.3L834.6 484.2L826.9 483.8L823.6 484.9L821.3 486.6L820.7 488.7L822.1 490.9L825.7 493.1L829.3 494.2ZM298.2 489.9L303.8 490.5L308.2 490.1L312.6 488.7L314.8 487.2L316.4 484.2L315.6 482L312.8 479.8L309.8 478.7L304.9 477.9L300.4 478.1L296 479.3L293 480.9L291.3 483.1L291.6 485.8L293.8 488.1L297.7 489.8Z"/><path fill="#a0d2ff" fill-rule="evenodd" d="M747.1 573.3L754.8 573.4L760.4 571.1L762 567.7L760.9 563.2L757.3 558.8L751.5 555L744.2 552.1L736 550.3L728.2 550L722.7 551.1L720.5 552.6L719.5 554.3L720.2 557.6L724.4 563.2L730.5 567.8L738.2 571.3L746.4 573.2ZM743.5 567.7L739.1 566.6L734.2 564.3L730.5 561.3L729 558.8L729.5 556.5L731.4 555.4L739.3 555.3L743.8 556.5L748.2 558.7L750.8 561L752.2 563.2L752.3 565.4L750.4 567.1L748.2 567.8L743.8 567.7ZM108.7 566.6L120.9 567.3L133.1 566.3L144.2 563.5L150.1 559.9L151.3 557.6L151 555.4L146.5 551L138 546.5L128.6 544.1L119.8 543.8L110.5 545.4L96.8 551L90.6 555.4L89.7 558.8L92.9 562.1L98.7 564.6L108 566.6ZM405.7 566.7L410.1 566.6L412.9 565.4L414.3 563.2L413.6 561L410.4 557.6L404.3 553.2L398 550.5L394.6 550.3L392 551L390.6 552.1L390.4 554.3L399.1 563.3L402.1 565.4L405 566.6ZM248.3 561.2L259.4 561.5L265 560.1L269.4 557.9L273.4 554.3L275.5 551L276 547.6L275.2 544.3L254.9 513.2L250 507.6L243.9 503.2L236.1 499.2L225.1 494.8L216.2 492.5L206.2 492.3L201.8 493.6L198.5 495.7L195.1 499.7L192.3 505.4L191.4 509.8L192.1 513.2L199.1 524.3L217.7 541L228.3 553.2L236.1 557.8L247.3 561ZM243.7 555.4L237.1 553.2L231.7 549.7L229 546.5L224 538.3L204 521.1L201.2 517.6L199.6 514.3L199.3 510.9L200.4 507.6L202.9 504.7L206.2 502.5L215.1 500.3L226.2 501.3L237.2 505.2L245.2 510.9L248.4 515.4L251.8 524.3L255.9 532.1L258.6 535.4L265 541L267.8 545.4L267.9 548.8L266.7 551L261.6 554.5L253.9 556.2L243.9 555.5ZM815.8 557.8L828 558.6L833.5 557.9L839.1 556.4L842.2 554.3L842.5 552.1L839.8 549.9L835.8 548.5L822.4 547.4L814.7 548.2L810.3 549.6L808.2 551L807.7 553.2L810.3 555.7L815.1 557.6ZM322.6 543.3L331.5 544.1L341.4 543.9L350.3 542.7L356.1 541L359.6 538.7L360.1 536.5L359.4 535.4L355.6 533.2L348.1 531.2L339.2 530.3L329.2 530.4L320.4 531.4L313.7 533.3L310.2 535.4L309.5 536.5L310 538.7L313.7 541.1L322 543.2ZM333.3 541L324.8 539.8L322.1 538.7L321 537.6L321.1 536.5L325.7 534.3L335.9 533.4L344.8 534.6L348.1 536.2L348.6 537.6L344.7 539.8L333.7 541ZM127.5 526.7L133.1 527.1L139.7 525.8L145 523.2L147.5 520.3L149.6 514.3L148.8 510.9L145.7 507.6L139.7 505.1L133.1 504.1L126.4 504.6L121.4 506.5L117.8 509.8L116.8 514.3L118.7 520L122 524.3L126.6 526.5ZM434.5 524.3L455.6 524.7L489.9 519.9L493.8 518.7L497.1 516.5L496.4 515.4L494 514.3L487.7 513L475.5 512.2L462.2 512.5L425.7 516.8L421.1 518.7L420.6 519.8L421.3 520.9L427 523.2L433.9 524.3ZM440.1 523.2L431.2 521.2L430.6 520.9L430.7 519.8L432.3 519.1L441.2 517.5L454.5 517.2L463 518.7L463.4 519.8L461.8 520.9L452.3 523L441.2 523.2ZM846.8 517.8L851.3 517.1L858.8 512L873.4 507.9L873.4 485.1L846.9 477.6L790.3 477.6L789.9 479.8L790.6 482L793.4 485.3L801.8 490.9L813.3 496.5L833.2 504.2L839.8 507.6L842.7 510.9L842.4 515.4L846.1 517.6ZM829.3 494.2L825.7 493.1L822.1 490.9L820.7 488.7L821.3 486.6L823.6 484.9L826.9 483.8L834.6 484.2L838.3 485.3L842 487.6L842.9 488.7L843.1 490.9L841.3 493L838.5 494.2L830.2 494.4ZM391.3 512L401.3 512.8L409 512L415.7 509.2L420.1 505.5L420.3 502L416.8 497.6L411.3 493.7L404.6 491.2L394.6 490.7L382.4 492.3L373.6 495.2L368.7 498.7L368 502L371.4 505.8L379.1 509.2L391.3 512ZM388.9 506.5L379.1 504.1L376.5 502L376.2 500.9L376.9 499.5L379.6 497.6L385.8 495.8L399.1 495.4L405.7 496.7L410.1 498.7L411.6 500.9L410.4 503.1L406.8 504.9L401.3 506.2L389.1 506.5ZM595.2 511.1L604.1 511.3L613 509.7L619.8 506.5L623.6 502L623.7 497.6L620.7 493.8L614.1 490.2L606.3 488.5L597.5 488.3L589.7 489.6L584.2 492.2L580.8 496.1L579.7 500.9L581.2 505.4L585.9 508.7L594.2 510.9ZM598.1 504.2L592.8 502L591.9 500.7L592 498.7L594.1 496.7L596.4 495.8L603.5 495.4L608.9 497.6L609.8 498.7L609.8 500.9L607.4 503L605.2 503.8L598.6 504.3ZM67.7 510L80.6 506.5L85.4 504.3L88.3 500.9L89 497.6L87.7 493.1L83 488.7L76.1 485.3L66.6 482.6L66.6 510.2ZM486.6 504.3L493.3 504.6L498.2 503.1L499.3 502L499.2 499.8L495.4 497.6L488.8 497.3L484.4 498.7L483.1 499.8L482.8 502L486.5 504.2ZM670.6 499.9L678.4 500.4L687.2 499.7L702.8 496.8L709.2 494.2L711.5 490.9L711.1 486.4L708.3 481.7L702.8 477.6L668.3 477.6L664 479.9L661.3 482L658.9 485.3L658.2 487.6L658.4 490.9L660.3 494.2L662.7 496.5L670.3 499.8ZM298.2 495.5L304.9 495.8L311.5 495.2L318.2 493.3L322.7 490.9L325.9 487.6L326.9 484.2L325.9 480.9L322.7 477.6L284.8 477.6L281.1 482L280.7 485.3L281.6 487.6L283.5 489.8L287.1 492.3L297.2 495.4ZM297.7 489.8L293.8 488.1L291.6 485.8L291.3 483.1L293 480.9L296 479.3L300.4 478.1L304.9 477.9L309.8 478.7L312.8 479.8L315.6 482L316.4 484.2L314.8 487.2L312.6 488.7L308.2 490.1L303.8 490.5L298.2 489.9Z"/><path fill="#ccf5ff" fill-rule="evenodd" d="M67.7 575.4L167.6 575.4L163 573.2L160.4 569.9L160.4 566.6L163.9 557.6L163 554.8L158.5 551L141.9 539.8L140.1 537.6L140 536.5L143.4 533.2L155.4 526.5L156.3 518.7L159.7 514.4L165.2 511.5L171.9 510.5L180.7 512.2L187.4 516.3L189.9 520.9L189.1 526.5L189.7 527.6L201.8 534.8L210.1 541L215.4 546.5L219.8 554.3L220.4 558.8L218.4 562L210.6 566.2L202.9 572.5L196.3 575.4L302.4 575.4L299.8 573.2L297.6 569.9L297 567.7L297.3 564.3L300.4 559.4L307.1 554.9L315.9 551.6L324.8 549.8L355.8 547.8L362.5 548.2L368 549.6L373.6 552.3L381.3 557.7L386.3 562.1L389.5 566.6L391.1 571L391.1 575.4L446.5 575.4L439 572.9L434.5 570.2L425 559.9L415.7 551.9L406.8 545.5L393.3 537.6L391.5 535.4L392.1 533.2L395.7 530.6L402.4 528.2L410.2 526.8L420.1 526L441.2 527.1L466.7 531L477.8 531.1L483.3 529.8L495.9 524.3L524 517.6L525.5 516.5L525 515.4L509.6 507.6L508.8 506.3L508 499.8L504.5 494.2L503.9 492L506.8 487.6L512.1 483.4L518.8 480.2L528.5 477.6L322.7 477.6L325.1 479.8L326.8 483.1L326.5 486.4L324.1 489.8L320.4 492.3L315.9 494.1L310.4 495.3L303.8 495.8L297.1 495.3L291.6 494.1L287.1 492.3L283.5 489.8L281.1 486.4L280.7 483.1L282.4 479.8L284.8 477.6L150.8 477.6L159.7 478.8L166.3 480.9L171.8 484.2L174.1 487.6L174.5 492L171.9 497.1L167.4 500.3L160.8 501.6L138.6 498L120.9 495.9L117.6 494.9L115.3 493.3L114 490.9L114 487.6L115 485.3L117.6 482.9L126.4 479.3L137.4 477.6L66.6 477.6L66.6 482.6L76.1 485.3L83 488.7L87.7 493.1L89 497.6L87.6 502L83.5 505.4L66.6 510.2L66.6 516.2L74.3 512.8L84.3 510.7L95.4 510.1L103.1 511.4L107.6 514.5L110.3 518.7L111.4 523.2L111.7 533.2L111.1 535.4L110 536.5L106.3 538.7L97.4 542.1L82.1 546.5L77.6 547.1L73.2 546.8L69.7 545.4L66.6 542.7L66.6 575.4ZM108 566.6L98.7 564.6L92.9 562.1L89.7 558.8L90.6 555.4L96.8 551L110.5 545.4L119.8 543.8L128.6 544.1L138 546.5L146.5 551L151 555.4L151.3 557.6L150.1 559.9L144.2 563.5L133.1 566.3L120.9 567.3L108.7 566.6ZM405 566.6L402.1 565.4L399.1 563.3L390.4 554.3L390.6 552.1L392 551L394.6 550.3L398 550.5L404.3 553.2L410.4 557.6L413.6 561L414.3 563.2L412.9 565.4L410.1 566.6L405.7 566.7ZM247.3 561L236.1 557.8L228.3 553.2L217.7 541L199.1 524.3L192.1 513.2L191.4 509.8L192.3 505.4L195.1 499.7L198.5 495.7L201.8 493.6L206.2 492.3L216.2 492.5L225.1 494.8L236.1 499.2L243.9 503.2L250 507.6L254.9 513.2L275.2 544.3L276 547.6L275.5 551L273.4 554.3L269.4 557.9L265 560.1L259.4 561.5L248.3 561.2ZM322 543.2L313.7 541.1L310 538.7L309.5 536.5L310.2 535.4L313.7 533.3L320.4 531.4L329.2 530.4L339.2 530.3L348.1 531.2L355.6 533.2L359.4 535.4L360.1 536.5L359.6 538.7L356.1 541L350.3 542.7L341.4 543.9L331.5 544.1L322.6 543.3ZM126.6 526.5L122 524.3L118.7 520L116.8 514.3L117.8 509.8L121.4 506.5L126.4 504.6L133.1 504.1L139.7 505.1L145.7 507.6L148.8 510.9L149.6 514.3L147.5 520.3L145 523.2L139.7 525.8L133.1 527.1L127.5 526.7ZM433.9 524.3L427 523.2L421.3 520.9L420.6 519.8L421.1 518.7L425.7 516.8L462.2 512.5L475.5 512.2L487.7 513L494 514.3L496.4 515.4L497.1 516.5L493.8 518.7L490 519.9L455.6 524.7L434.5 524.3ZM309.2 522L299.3 520.5L292.7 517.9L290.8 515.4L291.1 514.3L293.8 512.2L302.6 509.5L312.6 508.3L322.6 508.2L332.6 509.1L339.2 510.7L344.2 513.2L345.3 514.3L345.7 516.5L343.3 518.7L335.9 521.2L327 522.3L309.3 522.1ZM391.3 512L379.1 509.2L371.4 505.8L368 502L368.7 498.7L373.6 495.2L382.4 492.3L394.6 490.7L404.6 491.2L411.3 493.7L416.8 497.6L420.3 502L420.1 505.5L415.7 509.2L409 512L401.3 512.8L391.3 512ZM450.4 506.5L439 504.5L429 500.6L423 495.4L421.9 490.9L423.4 487.6L425.5 485.3L432.3 481.3L442.3 478.8L455.6 478.5L466.7 480.2L474.4 482.7L480.8 486.4L484 490.9L482.8 493.1L477.1 497.6L472.2 503.2L470 504.8L462.2 506.4L451.2 506.5ZM486.5 504.2L482.8 502L483.1 499.8L484.4 498.7L488.8 497.3L495.4 497.6L499.2 499.8L499.3 502L498.2 503.1L493.3 504.6L486.6 504.3ZM531 575.4L671.3 575.4L668.5 572.1L666.9 567.7L667.6 563.2L669.8 559.9L673.9 556.2L679.5 552.9L686.1 550.5L697.2 548.4L699 547.6L698 546.5L693.3 544.3L689.4 543.4L672.8 543.1L649.8 539.8L638.5 539.1L623 540.7L599.7 546.8L575.3 547.1L549.8 550.5L531.4 551L530.8 552.1L536.5 557.2L538.6 559.9L540.2 565.4L539.3 568.8L537.4 571L530 575.4ZM721.6 575.4L773.1 575.4L770.8 571L768.7 564.3L767.8 558.8L768.1 555.8L769.9 553.2L772.6 551.4L777 550L782.6 549.4L789.2 550L794.7 551.5L799.2 553.8L807.2 559.9L810.2 564.3L811.3 568.8L810.5 572.1L807.7 575.4L873.4 575.4L873.4 547.1L869 546.1L865 543.2L857.7 532.1L857.1 529.8L859.9 522L861.9 518.7L865.8 515.4L873.4 512.4L873.4 507.9L857.9 512.4L850.2 517.6L845.7 517.5L842.4 515.4L842.7 510.9L839.8 507.6L833.2 504.2L810.7 495.4L796.2 487.6L790.6 482L789.9 479.8L790.3 477.6L775.2 477.6L779.8 484.2L785.2 488.7L792.6 493.1L815.5 503.1L823.9 507.6L826.8 510.9L825.9 518.7L827.5 523.2L832.4 527L841.8 531L840.5 532.1L838 532.6L825.8 533.9L781.4 535.5L778.1 537L772.7 544.3L769.2 547.4L765.9 549.2L761.5 550.4L754.8 550L736 546.2L727.1 545.2L717.2 545.6L706.6 547.6L704.4 548.8L705 549.9L714.9 559.6L721.7 568.8L722.6 572.1L720.8 575.4ZM746.4 573.2L738.2 571.3L730.5 567.8L724.4 563.2L720.2 557.6L719.5 554.3L720.5 552.6L722.7 551.1L728.2 550L736 550.3L744.2 552.1L751.5 555L757.3 558.8L760.9 563.2L762 567.7L760.4 571.1L754.8 573.4L747.1 573.3ZM815.1 557.6L810.3 555.7L807.7 553.2L808.2 551L810.3 549.6L814.7 548.2L822.4 547.4L835.8 548.5L839.8 549.9L842.5 552.1L842.2 554.3L839.1 556.4L833.5 557.9L828 558.6L815.8 557.8ZM760.4 528.9L767 529.5L771.5 529.1L774.8 527.6L776.8 525.4L776.7 522L774.5 519.8L769.7 517.6L765.2 516.5L759.3 515.9L753.7 516.3L749.6 517.6L747.1 519.8L746.8 522L749.3 525.2L753.7 527.3L759.5 528.7ZM585.3 517.6L603 518.6L618.5 517.9L625.2 516.3L637.4 510.1L644 508.1L679.5 506.7L719.4 500.1L724.2 497.6L726.2 493.1L725.8 488.7L721.9 482L721.1 477.6L702.8 477.6L708.5 482L711.4 487.6L711.2 492L707.2 495.4L693.7 498.7L677.3 500.5L670.3 499.8L665.1 497.9L660.6 494.6L658.4 490.9L658.4 486.4L660.3 483.1L664 479.9L668.3 477.6L557.8 477.6L564.2 479.1L570.9 481.7L574.2 484.2L575.2 486.4L574.8 492L571.4 506.5L569.8 510.3L567 514.3L568 515.4L569.8 515.8L584.9 517.6ZM594.2 510.9L585.9 508.7L581.2 505.4L579.7 500.9L580.8 496.1L584.2 492.2L589.7 489.6L597.5 488.3L606.3 488.5L614.1 490.2L620.7 493.8L623.7 497.6L623.6 502L619.8 506.5L613 509.7L604.1 511.3L595.2 511.1ZM871.2 484.4L873.4 485.1L873.4 477.6L846.9 477.6L870.7 484.2Z"/><path fill="#ffdd33" fill-rule="evenodd" d="M321.5 574.6L323.6 575.4L340.8 575.4L332.6 573.7L326.6 571L323.6 567.7L324.2 564.3L328.5 561L334.8 558.8L342.5 557.4L351.4 557.1L359.2 557.6L365.8 559.2L371.5 562.1L374.4 565.4L374.7 568.8L372.5 571.5L366.9 574L359.8 575.4L376.4 575.4L381.3 572L382.4 569.9L382.1 566.6L378 561.1L371.4 557L362.5 554.5L349.2 553.6L335.9 554.6L324.8 557.2L317.2 561L314.9 563.2L313.8 565.4L313.8 567.7L314.9 569.9L321 574.3ZM478.9 574.5L496.6 574.9L505.5 573.9L512.1 572.2L517.5 569.9L521.2 566.6L521.7 563.2L520.4 561L516.6 558.2L511 556L490 552L482.6 549.9L478.9 547.6L471.8 539.8L465.4 536.5L455.6 533.8L442.3 531.5L426.8 530.8L415.7 532.4L411.7 534.3L410.2 536.4L410.3 538.7L411.7 541L429.6 556.5L439 562.7L461.1 570.8L478 574.3ZM481.1 569.9L471.1 568.5L461.3 565.4L441.1 556.5L434.1 552.1L425.6 544.3L424 542.1L423.4 539.8L425 537.6L427.9 536.6L439 536L447.8 537L455.6 539L461.1 542.1L467.8 549.7L471.1 551.8L496.9 558.8L503.9 562.1L505.1 564.3L504.7 565.4L501.6 567.7L492.2 569.8L482.2 570ZM692.8 574.5L698.3 574.6L703.9 573.4L708 571L709.7 568.8L710 565.4L707.7 562.1L704.1 559.9L699.4 558.6L693.9 558.5L688.3 559.7L684.2 562.1L682.5 564.3L682.1 567.7L683.9 570.7L687.2 572.9L692 574.3ZM785.9 572.1L793.6 571.8L797.7 569.9L799.6 567.7L800.1 565.4L798.7 562.1L795.8 559.5L791.4 557.6L787 557.1L783.5 557.6L779.3 559.9L777.7 562.1L777.4 565.4L779.2 568.8L782.4 571L785.8 572.1ZM177.4 567.9L184 568.6L190.7 566.6L194.8 563.2L199.6 556.9L204.5 553.2L206.3 551L206.3 547.6L203.1 543.2L198.5 539.7L191.8 536.4L181.8 533.8L170.8 533L161.9 534.4L158.6 536.1L157.1 537.6L156.9 539.8L159.3 543.2L172.8 553.2L173.9 556.5L173.7 564.3L175 566.6L176.7 567.7ZM539.8 545.5L553.1 545.8L563.2 543.2L565.7 541L565.2 538.7L562 536.7L556.4 535.2L549.8 534.6L542 534.8L536.5 535.8L531.9 537.6L530 539.8L530.9 542.1L535 544.3L539.6 545.4ZM654 532.1L660.6 532.8L668.4 532.6L696.1 528.4L714.9 527.9L721.6 526.7L724.4 525.4L727.1 523L729.4 519.2L730.3 515.4L730 513.2L728.3 510.9L722.7 508.7L711.6 508.3L674.6 512L660.6 513.9L652.9 515.8L645.3 519.8L642.6 523.2L642.2 525.4L643.4 527.6L646.2 529.7L654 532.1ZM81 531L87.6 531.6L94.3 530.8L99.8 528.9L103.1 526.5L105 523.2L104.2 518.9L100.9 515.8L96.5 514.1L89.8 513.4L82.1 514.1L75.4 516L70.8 518.7L68.9 522L69.8 525.4L74.3 528.9L80.6 531ZM82.2 526.5L78.1 524.3L77.6 522.3L78.5 520.9L84.3 518.5L92.1 518.2L95.4 519.4L96.9 520.9L97 523.2L96.3 524.3L91 526.7L83.2 526.7ZM872.3 528.9L873.4 529.4L873.4 516L868.8 518.7L866.9 522L867.8 525.4L872 528.7ZM170.8 524.4L177.4 523.7L180.4 522L181.1 520.9L181.1 519.8L179.6 518L175.2 516.3L169.2 516.5L165 518.7L164.5 520.9L165 522L169.7 524.3ZM797 523.2L804.7 523.3L809.2 521.7L813.3 515.4L813.8 513.2L812.9 510.9L806.9 506.7L784.8 497L770.4 488.7L768.7 486.4L768.4 480.9L766.2 477.6L758.2 477.6L760.9 479.8L761.3 482L760.7 483.1L757.2 485.3L752.6 486.3L744.9 486.2L738.2 484.2L734.8 480.9L735.4 478.7L736.7 477.6L729 477.6L728.2 479.8L728.7 482L732.7 485.8L741.7 490.9L745.5 500.9L748.5 504.2L753.3 507.6L761 510.9L777 514.9L789.2 521.3L796.6 523.2ZM795.8 516.5L792.3 514.3L792.2 512L793.1 510.9L798.1 509.2L804.7 510L807.5 512L807.5 514.3L806.5 515.4L801.4 517.1L795.8 516.5ZM312.6 517.7L321.5 518.1L328.1 517.1L330.6 515.4L329.7 514.3L325.9 513.1L317 512.6L310.4 513.7L307.8 515.4L308.7 516.5L312.1 517.6ZM535.4 508.7L545.4 509.3L554.2 508.1L560.9 505.6L565.3 501.8L567.3 496.5L567 493.1L565.8 490.9L560.9 487.2L552 484.4L542 483.6L532.1 484.9L524.3 487.7L519.1 492L517.9 494.2L517.6 497.6L520 502L526.5 506.3L535.2 508.7ZM535.6 503.1L531 501.1L528.5 498.7L528 495.4L529.4 493.1L532.6 490.9L537.6 489.3L543.2 488.8L549.8 489.6L555.3 491.9L557.7 494.2L558.1 497.6L556.8 499.8L553.6 502L548.7 503.6L543.2 504.1L536.5 503.4ZM447.8 502.1L455.6 501.9L463.4 500.3L468.6 497.6L471.2 494.2L470.7 490.9L467 487.6L461.1 485.2L453.4 483.8L445.6 483.7L437.9 485L432.2 487.6L429.3 490.9L429.4 494.2L432.4 497.6L439 500.5L446.9 502ZM444.5 497.6L441.6 496.5L438.8 494.2L438.2 492L439.7 489.8L446.7 487.6L455.6 488.2L461.3 490.9L462.4 493.1L461.2 495.4L458.9 496.8L454.5 498L450 498.3L444.5 497.6Z"/><path fill="#ff6e00" fill-rule="evenodd" d="M335.9 574.6L340.8 575.4L359.8 575.4L365.8 574.3L371.5 572.1L374.7 568.8L374.8 566.6L373.7 564.3L369.8 561L362.5 558.3L353.6 557.1L342.5 557.4L333.7 559.1L327 561.8L323.6 565.4L324.2 568.8L328.5 572.1L334.9 574.3ZM344 569.9L339.4 567.7L339.4 565.4L340.9 564.3L348.1 562.7L355.8 563.1L360.6 565.4L360.8 567.7L359.5 568.8L352.5 570.4L344.8 570ZM482.2 570L492.2 569.8L501.6 567.7L504.7 565.4L505.1 564.3L503.9 562.1L496.9 558.8L471.1 551.8L467.8 549.7L461.1 542.1L455.6 539L447.8 537L439 536L427.9 536.6L425 537.6L423.4 539.8L424 542.1L425.6 544.3L434.1 552.1L441.1 556.5L461.3 565.4L471.1 568.5L481.1 569.9ZM83.2 526.7L91 526.7L96.3 524.3L97 523.2L96.9 520.9L95.4 519.4L92.1 518.2L84.3 518.5L78.5 520.9L77.6 522.3L78.1 524.3L82.2 526.5ZM795.8 516.5L801.4 517.1L806.5 515.4L807.5 514.3L807.5 512L804.7 510L798.1 509.2L793.1 510.9L792.2 512L792.3 514.3L795.8 516.5ZM797.1 514.3L796.3 513.2L797 512L799.2 511.4L802.5 511.9L803.7 513.2L802.9 514.3L798.1 514.6ZM536.5 503.4L543.2 504.1L548.7 503.6L553.6 502L556.8 499.8L558.1 497.6L557.7 494.2L555.3 491.9L549.8 489.6L543.2 488.8L537.6 489.3L532.6 490.9L529.4 493.1L528 495.4L528.5 498.7L531 501.1L535.6 503.1ZM444.5 497.6L450 498.3L454.5 498L458.9 496.8L461.2 495.4L462.4 493.1L461.3 490.9L455.6 488.2L446.7 487.6L439.7 489.8L438.2 492L438.8 494.2L441.6 496.5L444.5 497.6ZM748.2 486.5L756 485.7L760.4 483.4L761.4 480.9L760.4 479.2L758.2 477.6L736.7 477.6L736 478.1L734.8 480.9L736.5 483.1L741 485.3L747.4 486.4Z"/><path fill="#ff0000" fill-rule="evenodd" d="M344.8 570L352.5 570.4L359.5 568.8L360.8 567.7L360.6 565.4L355.8 563.1L348.1 562.7L340.9 564.3L339.4 565.4L339.4 567.7L344 569.9ZM798.1 514.6L802.9 514.3L803.7 513.2L802.5 511.9L799.2 511.4L797 512L796.3 513.2L797.1 514.3Z"/>
<use href="#map" transform="translate(0,411)"/>
<line x1="71.0" y1="526.5" x2="869.0" y2="526.5" stroke="#008000" stroke-width="1.2" stroke-dasharray="4.7,5.3"/>
<line x1="470.0" y1="482" x2="470.0" y2="571.0" stroke="#008000" stroke-width="1.2" stroke-dasharray="4.3,5.7" stroke-dashoffset="5.1"/>
</g>
<rect x="71.0" y="482" width="798.0" height="89.0" fill="none" stroke="#000" stroke-width="2"/>
<path d="M71.0 482v-4M71.0 571.0v4M104.2 482v-2M104.2 571.0v2M137.5 482v-2M137.5 571.0v2M170.8 482v-4M170.8 571.0v4M204.0 482v-2M204.0 571.0v2M237.2 482v-2M237.2 571.0v2M270.5 482v-4M270.5 571.0v4M303.8 482v-2M303.8 571.0v2M337.0 482v-2M337.0 571.0v2M370.2 482v-4M370.2 571.0v4M403.5 482v-2M403.5 571.0v2M436.8 482v-2M436.8 571.0v2M470.0 482v-4M470.0 571.0v4M503.2 482v-2M503.2 571.0v2M536.5 482v-2M536.5 571.0v2M569.8 482v-4M569.8 571.0v4M603.0 482v-2M603.0 571.0v2M636.2 482v-2M636.2 571.0v2M669.5 482v-4M669.5 571.0v4M702.8 482v-2M702.8 571.0v2M736.0 482v-2M736.0 571.0v2M769.2 482v-4M769.2 571.0v4M802.5 482v-2M802.5 571.0v2M835.8 482v-2M835.8 571.0v2M869.0 482v-4M869.0 571.0v4M71.0 482.0h-4M869.0 482.0h4M71.0 493.1h-2M869.0 493.1h2M71.0 504.2h-2M869.0 504.2h2M71.0 515.4h-2M869.0 515.4h2M71.0 526.5h-4M869.0 526.5h4M71.0 537.6h-2M869.0 537.6h2M71.0 548.8h-2M869.0 548.8h2M71.0 559.9h-2M869.0 559.9h2M71.0 571.0h-4M869.0 571.0h4" stroke="#000" stroke-width="1.6" fill="none"/>
<text transform="translate(69.70,476.60) scale(0.993,1.048)" font-size="28">29-Nov-2011 to 3-Dec-2011</text>
<text transform="translate(871.50,471.50) scale(0.993,1.048)" font-size="28" text-anchor="end">Projected</text>
<text transform="translate(50.00,491.90) scale(1.0,1.053)" font-size="28" text-anchor="end">20N</text>
<text transform="translate(50.00,536.40) scale(1.0,1.053)" font-size="28" text-anchor="end">0</text>
<text transform="translate(50.00,580.90) scale(1.0,1.053)" font-size="28" text-anchor="end">20S</text>
<g clip-path="url(#c4)">
<rect x="71.0" y="619" width="798.0" height="89.0" fill="#ffffcc"/>
<path fill="#4169e1" fill-rule="evenodd" d="M266.1 669.2L272.7 669.7L278.3 669.1L283.8 667.2L287.5 664.6L288.9 661.3L287.5 657.9L283.8 655.4L278.3 653.7L271.6 653.2L265 653.9L259.4 655.6L256.2 657.9L254.7 661.3L256.1 664.6L259.4 667L265.6 669.1Z"/><path fill="#1e90ff" fill-rule="evenodd" d="M150.8 706.9L159.8 706.9L163.8 705.8L167.2 703.6L167.8 701.3L166.3 699.1L162.1 696.9L157.7 695.8L149.7 695.9L146.4 696.9L143 699.2L142.2 701.3L143.2 703.6L146.6 705.8L150.7 706.9ZM739.3 703.6L744.9 703.9L748.2 703.3L750.3 701.3L750 699.1L748.2 696.9L744.9 694.6L734.3 691.3L725.2 691.3L722.7 692.4L721.8 694.6L723.2 696.9L728.2 700.2L738.7 703.6ZM256.1 685.9L260.5 686.5L265 686L266.9 684.6L265 683.1L260.5 682.6L256.1 683.3L254.5 684.6L255.7 685.8ZM267.2 673.6L276 674.2L282.7 672.9L291.6 668.7L294.9 665.8L296.2 663.5L296.7 661.3L296 657.9L290.7 649L290.8 646.8L293.8 639L293.2 635.7L289.3 632.3L280.5 629.6L270.5 628.8L262.7 630.2L256.1 633.6L253.9 635.7L252 639L250.9 650.2L246.9 659L247.3 663.5L249.8 666.8L253.9 669.6L259.4 671.8L266.8 673.5ZM265.6 669.1L259.4 667L256.1 664.6L254.7 661.3L256.2 657.9L259.4 655.6L265 653.9L271.6 653.2L278.3 653.7L283.8 655.4L287.5 657.9L288.9 661.3L287.5 664.6L283.8 667.2L278.3 669.1L272.7 669.7L266.1 669.2ZM67.7 636.7L73.2 635.9L75.3 634.6L74.3 633.3L68.8 632.4L66.6 632.4L66.6 636.7ZM860.1 635.9L864.6 636.7L870.1 636.2L873.3 634.6L872.3 633.3L867.9 632.4L862.4 632.7L859 633.8L858.3 634.6L859.4 635.7Z"/><path fill="#a0d2ff" fill-rule="evenodd" d="M147.5 711.4L156.3 712L165.2 711L173 708.3L177.4 704.7L177.8 701.3L175 698L166.4 693.5L157.4 691L149.7 690.3L143 691.4L136.4 694.7L132.3 699.1L131.8 701.3L132.3 703.6L135.2 706.9L139.7 709.4L146.9 711.3ZM150.7 706.9L146.6 705.8L143.2 703.6L142.2 701.3L143 699.2L146.4 696.9L149.7 695.9L157.7 695.8L162.1 696.9L166.3 699.1L167.8 701.3L167.2 703.6L163.8 705.8L159.8 706.9L150.8 706.9ZM746 709.2L754.8 708.9L759.7 706.9L761 703.6L759 699.1L753.7 694.2L747.1 690.6L738.2 687.8L729.4 686.3L720.5 686.2L714.1 688L712.6 689.1L711.5 691.3L712.5 694.6L717.1 699.1L726 704L736 707.4L745.4 709.1ZM738.7 703.6L728.2 700.2L723.2 696.9L721.8 694.6L722.7 692.4L725.2 691.3L734.3 691.3L744.9 694.6L748.2 696.9L750 699.1L750.3 701.3L748.2 703.3L744.9 703.9L739.3 703.6ZM274.9 691.4L283.8 692.3L291.6 691.8L298.2 690L302.7 686.9L303.3 684.6L302.4 682.4L296.1 676.8L295 674.6L303.4 664.6L304.4 661.3L304.4 653.5L305.2 650.2L313.3 639L314.6 635.7L313.3 631.2L308.1 626.8L300.4 623.4L279.4 616.7L271.6 615.7L263.8 616.3L256.1 618.5L249.4 622.3L244.7 626.8L240.3 633.5L238.4 639L237 647.9L238.2 660.2L239.2 663.5L241.2 666.8L246.3 671.3L257.9 676.8L260.6 679.1L261 680.2L255 682L252.1 683.5L251.6 684.6L252.3 685.8L257.2 687.5L265 688.1L274.4 691.3ZM255.7 685.8L254.5 684.6L256.1 683.3L260.5 682.6L265 683.1L266.9 684.6L265 686L260.5 686.5L256.1 685.9ZM266.8 673.5L259.4 671.8L253.9 669.6L249.8 666.8L247.3 663.5L246.9 659L250.9 650.2L252 639L253.9 635.7L256.1 633.6L262.7 630.2L270.5 628.8L280.5 629.6L289.3 632.3L293.2 635.7L293.8 639L290.8 646.8L290.7 649L296 657.9L296.7 661.3L296.2 663.5L294.9 665.8L291.6 668.7L282.7 672.9L276 674.2L267.2 673.6ZM436.8 669.2L446.7 669.7L458.9 669.2L468 668L474.4 665.8L475.8 664.6L476 663.5L473.7 661.3L467 659L460 657.9L441.2 657.4L432.3 658.5L426.3 660.2L422.9 662.4L422.5 663.5L423.4 665.1L427.9 667.4L435.8 669.1ZM66.6 646.8L105.4 640.9L138.6 639.7L155.2 638.4L163.6 636.8L168.5 634.6L169.3 633.5L168.6 632.4L165.5 631.2L157.4 629.9L140.8 628.7L100.9 627.5L66.6 622.4L66.6 632.4L73.2 633L74.7 633.5L75.3 634.6L72.1 636.2L66.6 636.7L66.6 646.8ZM853.5 646.9L861.2 647.1L873.4 645.6L873.4 624L859 621.4L844.6 619.7L831.3 620.2L822.4 622.8L818 625.7L816.3 627.9L817.7 631.2L823.8 635.7L843.5 644L853 646.8ZM859.4 635.7L858.3 634.6L859 633.8L862.4 632.7L867.9 632.4L872.3 633.3L873.3 634.6L870.1 636.2L864.6 636.7L860.1 635.9ZM368 641.4L381.3 642.3L395.5 641.2L405.7 638.7L413.4 634.6L415.1 632.4L415.3 630.1L412.4 626.8L402.5 621.2L393.5 618.8L380.2 617.9L365.8 619.2L357 621.4L333.7 630.1L333.1 631.2L333.8 632.4L336.1 633.5L367.1 641.2ZM591.9 638L599.7 637.7L606.3 635.8L612.3 632.4L616.1 627.9L616.6 625.7L616.1 623.4L613.3 620.1L607.4 617.2L599.7 615.6L591.9 615.8L585.3 617.2L579.7 620.1L577.5 623.4L577.5 628.2L580.8 634.5L585.2 636.8L591.1 637.9ZM672.8 626L679.5 626.6L699.4 624.9L703.9 623.9L705.8 622.3L705.2 619L702.8 616.6L698.3 614.7L676.6 614.6L673.2 615.7L669.4 617.9L667.6 621.2L668.6 623.4L672 625.7Z"/><path fill="#ccf5ff" fill-rule="evenodd" d="M125.3 711.6L126.8 712.4L183.7 712.4L187.4 710.1L190.3 706.9L190.3 703.6L186.7 700.2L178.9 695.8L157.7 685.8L156.1 682.4L156.4 674.6L155.2 672.4L152.5 670.2L144.2 666.6L136.4 666.1L128.6 668.8L123.3 673.5L121.8 676.8L121.6 680.2L125.2 689.1L124 691.3L119 696.9L117.7 701.3L118 703.6L119.8 706.9L124.8 711.3ZM146.9 711.3L139.7 709.4L135.2 706.9L132.3 703.6L131.8 701.3L132.3 699.1L136.4 694.7L143 691.4L149.7 690.3L157.4 691L166.4 693.5L175 698L177.8 701.3L177.4 704.7L173 708.3L165.2 711L156.3 712L147.5 711.4ZM730.5 711.5L733.8 712.4L770 712.4L771.4 708L771 698L773.2 695.8L783.4 690.2L786.2 688L787 685.8L784.5 683.5L775.2 681.3L711.6 673.6L701.6 673.8L692.8 676.8L687.9 680.2L685.5 683.5L685.5 688L687.8 691.3L697.2 697.2L719.4 707.5L730 711.3ZM745.4 709.1L736 707.4L726 704L717.1 699.1L712.5 694.6L711.5 691.3L712.6 689.1L714.1 688L720.5 686.2L729.4 686.3L738.2 687.8L747.1 690.6L753.7 694.2L759 699.1L761 703.6L759.7 706.9L754.8 708.9L746 709.2ZM851.3 709.1L855.7 709.8L861.2 709L867.9 706.6L873.4 703.4L873.4 645.6L859 647.2L849 645.9L823.8 635.7L817.7 631.2L816.3 627.9L818 625.7L823.6 622.2L829.1 620.5L835.8 619.7L850.4 620.1L873.4 624L873.4 614.6L799.1 614.6L793.6 616.2L788.3 619L783.6 623.4L781.6 626.8L781.6 630.1L783.9 632.4L803.6 635.1L814.7 637.6L828 642.4L834.9 646.8L836.2 650.2L833.9 654.6L819.9 664.6L812.1 673.5L802.8 682.4L801.4 685.8L803.5 688L806 689.1L824.7 694.4L834.3 698L840.3 701.3L851.2 709.1ZM67.7 707.5L74.3 704.1L79.3 700.2L82.9 695.8L84.7 691.3L85.1 686.9L84.4 683.5L82.3 679.1L76.7 671.3L76.5 669.1L77 668L79.6 665.7L92.1 658.5L99.5 652.4L104.5 650.2L109.8 649.3L144.2 648.4L157.4 646L174.1 640.2L188.4 633.5L194.5 629L196.1 626.8L196.6 624.6L195.1 622.3L189.6 620.4L176.3 618.2L158.6 616.5L136.4 615.5L107.6 615.4L98.1 614.6L66.6 614.6L66.6 622.4L100.9 627.5L140.8 628.7L157.4 629.9L165.5 631.2L168.6 632.4L169.3 633.5L168.5 634.6L163.6 636.8L155.2 638.4L138.6 639.7L105.4 640.9L66.6 646.8L66.6 707.9ZM403.5 703.7L409 703.6L413.5 701.8L416.3 699.1L417.8 694.6L417.4 689.1L415.1 684.6L411.3 681.6L405.7 679.5L396.8 678.9L389.1 680.5L383.6 683.6L381.4 685.8L380.4 688L381.7 691.3L385.5 694.6L395.7 700.8L402.9 703.6ZM280.5 700.2L293.8 699.9L304.9 698.3L314.8 695.1L321.5 690.8L323.6 688L324 684.6L322.5 681.3L317 675L316.7 672.4L320.9 664.6L324.8 654.9L327 652.6L329.2 651.6L338.1 650.9L359.2 654L373.6 655.2L388 655.2L401.3 654.3L417.9 651.9L431.2 648L435.6 645.7L441 641.2L454.5 633.5L465.6 636.3L474.4 637.4L487.7 637.6L498.8 636.5L501.5 635.7L502.2 634.6L500.5 630.1L499.8 617.9L497.1 614.6L474.7 614.6L456.7 629.6L453.4 631.3L434.5 627.3L424.6 624.1L417.1 620.1L411.6 614.6L229.5 614.6L228.2 616.8L227.9 619L230.8 627.9L230 640.1L227.8 646.8L220.8 659L220.3 661.3L221 663.5L232.4 675.7L241.3 686.9L247.2 691.7L253.9 695.2L260.5 697.4L270.5 699.4L279.9 700.2ZM274.4 691.3L265 688.1L257.2 687.5L252.3 685.8L251.6 684.6L252.1 683.5L255 682L261 680.2L260.6 679.1L257.9 676.8L246.3 671.3L241.2 666.8L239.2 663.5L238.2 660.2L237 647.9L238.4 639L240.3 633.5L244.7 626.8L249.4 622.3L256.1 618.5L263.8 616.3L271.6 615.7L279.4 616.7L300.4 623.4L308.1 626.8L313.3 631.2L314.6 635.7L313.3 639L305.2 650.2L304.4 653.5L304.4 661.3L303.4 664.6L295 674.6L296.1 676.8L302.4 682.4L303.3 684.6L302.7 686.9L298.2 690L291.6 691.8L283.8 692.3L274.9 691.4ZM367.1 641.2L336.1 633.5L333.8 632.4L333.1 631.2L333.7 630.1L357 621.4L365.8 619.2L380.2 617.9L393.5 618.8L402.5 621.2L412.4 626.8L415.3 630.1L415.1 632.4L413.4 634.6L405.7 638.7L395.5 641.2L381.3 642.3L368 641.4ZM513.2 688L534.3 688.4L540.9 687.3L544.3 685.7L552.1 676.8L552.9 674.6L546.7 659L543.2 653.5L543.5 652.4L547.6 650.6L559.8 647.4L572 648.1L580 650.2L583.2 652.4L589.3 660.2L594.1 664.8L599.7 668.3L604.1 669.7L615.2 670.5L630.7 669.7L645.1 667.6L654 665.2L659.5 662.6L662.3 660.2L663.5 657.9L663.3 654.6L661.7 652.4L657.3 649.6L638.5 643.5L634.6 641.2L633.9 639L634.7 635.7L638.5 629L640.7 626.6L642.9 626.6L651.8 631.8L659.5 635.1L668.4 637.2L675 637.4L690.6 632.3L710.5 629.9L716.7 627.9L718.3 626.8L719.5 624.6L715.6 614.6L697.9 614.6L702.8 616.6L705 618.7L706 621.2L704.8 623.4L700.5 624.8L678.4 626.7L673.9 626.2L670.6 625L668.6 623.4L667.6 621.2L669.5 617.8L676.6 614.6L646.2 614.6L641.8 618.9L639.6 619.7L632 614.6L564.8 614.6L565.7 624.6L565.1 630.1L563.1 632.9L557.4 636.8L557 637.9L563.2 642.4L563.7 643.5L563.1 644.7L559.8 646.4L498 650.2L480 653.9L454.5 652.6L437.9 652.6L422.3 654L413.5 656.1L406.8 659.6L405.2 661.3L404.4 663.5L405.4 665.7L406.8 667L414.6 670.5L421.2 672.1L431.2 673.3L464.5 672.2L474.4 672.8L484.4 676.4L501 686.1L512.5 688ZM435.8 669.1L427.9 667.4L423.4 665.1L422.5 663.5L422.9 662.4L426.3 660.2L432.3 658.5L441.2 657.4L460 657.9L467 659L473.7 661.3L476 663.5L475.8 664.6L474.4 665.8L468 668L458.9 669.2L446.7 669.7L436.8 669.2ZM591.1 637.9L585.2 636.8L580.8 634.5L577.5 628.2L577.5 623.4L579.7 620.1L585.3 617.2L591.9 615.8L599.7 615.6L607.4 617.2L613.3 620.1L616.1 623.4L616.6 625.7L616.1 627.9L612.3 632.4L606.3 635.8L599.7 637.7L591.9 638Z"/><path fill="#ffdd33" fill-rule="evenodd" d="M344.8 711.5L346.7 712.4L380.5 712.4L384.7 710.1L386.8 706.9L385.5 703.6L380.2 699.6L373.6 697.2L365.8 696.3L357 696.6L349.2 698.2L342.6 701.3L340.1 704.7L340.5 708L344.4 711.3ZM790.3 711.5L792.3 712.4L824.9 712.4L828.3 710.2L829.6 706.9L827.5 703.6L824.1 701.3L818 698.9L809.2 697.3L801.4 697.2L794.7 698.4L788.3 701.3L785.7 704.7L786.1 708L789.9 711.3ZM493.3 708.1L506.6 708.6L519 706.9L526.4 703.6L527.5 701.3L526.3 699.1L522.2 696.9L518.4 695.8L494.4 692.3L490.4 690.2L484.8 684.6L479.9 681.3L473.3 678.6L465.6 677L457.8 676.7L451.2 677.4L445.6 678.8L440 681.3L435.9 684.6L433.9 688L433.9 692.4L435.9 695.8L442.1 700.2L451.2 703.2L492.7 708ZM464.7 700.2L456.4 699.1L450 697.2L445.7 694.6L443.5 691.3L443.9 688L447.8 684.3L454.5 682L462.2 681.5L470 682.9L475.7 685.8L483.3 694.6L484.2 696.9L482.2 699.1L478.9 700L465.6 700.3ZM616.3 705.9L626.3 706.8L632.9 706.1L635 704.7L635.1 703.6L632.3 700.2L624.5 695.8L613 691.3L601.4 688L589.7 685.6L579.7 684.6L573.1 685.4L571 686.9L571 688L573.7 691.3L581.5 695.8L590.8 699.5L603 703.1L615.6 705.8ZM191.8 695.9L200.7 695.7L209.5 693.5L216.2 689.8L219 686.9L220.1 684.6L220.3 681.3L219.5 679.1L216.9 675.7L213.9 673.5L206.2 670.3L189.1 666.8L187.7 665.7L191.4 663.5L209.5 655.5L215.1 651.9L219.5 647.6L222.2 642.4L221.7 637.3L218.8 633.5L214 631.8L208.4 632.1L201.8 633.7L178.5 642.4L167.7 647.9L165.2 650.2L163 653.5L162.5 657.9L164.5 661.3L168.5 663.7L178.4 666.8L178.4 668L170.8 673.6L167.4 677.2L165.8 681.3L166.6 684.6L170.6 688L177.1 691.3L185.2 694.4L191 695.8ZM185.9 690.2L180.2 688L176 684.6L175.3 681.3L177.4 678L181.8 675.3L188.5 673.7L195.1 673.5L201.6 674.6L206.8 676.8L210.1 680.2L210.6 683.5L208.4 686.8L204.7 689.1L198.5 690.9L192.9 691.2L186.3 690.3ZM178 656.8L175.2 654.6L175.2 651.3L178.1 647.9L181.9 645.7L187.7 643.5L197.4 641.1L205.1 640.4L209.5 641.2L211.8 643.2L211.7 645.7L208.9 649L203.7 652.4L196.2 655.5L189.6 657.2L182.9 657.8L178.5 657ZM748.2 673.6L769.2 674.1L775.9 673.1L779.6 671.3L779.9 669.1L775.3 665.7L767 663L742.7 657.9L735.6 654.6L733.5 651.3L734.3 646.8L737.1 643.2L754.4 634.6L767 627.2L772.1 623.4L776.5 617.9L775.9 614.6L764.9 614.6L767 616.2L767.8 617.9L766.9 620.1L764.4 622.3L757.1 625.3L748.2 626.5L741.5 625.8L736.6 623.4L733.5 619L733.4 616.8L734.8 614.6L724.3 614.6L724.4 617.9L729 626.8L728.3 629L727.1 630.1L720.5 632.8L699.2 635.7L694.1 637.9L692.2 640.1L691.6 642.4L692.1 645.7L694.7 650.2L698.3 652.9L710.5 658.9L718.9 666.8L723.6 669.1L730.5 671.1L747.5 673.5ZM707.1 650.2L703.3 647.9L701.8 645.7L701.8 643.5L703.4 641.2L707.2 639.3L710.5 638.6L718.3 639.4L721.9 641.2L724.1 643.5L724.7 645.7L723.6 647.9L720.5 649.8L716.1 650.9L711.6 651.1L707.2 650.2ZM794.7 658L805.8 658.1L815.8 656.7L823.6 653.7L826.8 650.2L826.1 646.8L821.3 643.5L812.5 640.5L802.5 638.8L791.4 638.8L781.4 640.4L773.6 643.5L770.5 646.8L771.1 650.2L775.9 653.8L783.7 656.4L794.1 657.9ZM791.1 653.5L787 652.3L783 650.2L781.8 647.9L783.1 645.7L787.8 643.5L793.6 642.4L805.8 642.9L811.8 644.6L815.4 646.8L816.5 649L815.1 651.3L810.3 653.4L804.7 654.2L791.4 653.5ZM525.4 633.5L534.3 634L543.2 633.3L550.9 631.4L554.7 629L556 625.7L555.5 623.4L554 621.2L549.8 618.7L542 616.7L533.2 616.2L525.4 616.8L518.8 618.5L513.9 621.2L511.9 624.6L511.9 626.8L513 629L517.7 631.8L525.2 633.5ZM440.1 622.5L447.8 622.4L453.4 620.8L457 617.9L457.5 615.7L457 614.6L425.2 614.6L426.1 616.8L428.8 619L434 621.2L439 622.3Z"/><path fill="#ff6e00" fill-rule="evenodd" d="M465.6 700.3L478.9 700L482.2 699.1L484.2 696.9L483.3 694.6L475.7 685.8L470 682.9L462.2 681.5L454.5 682L447.8 684.3L443.9 688L443.5 691.3L445.7 694.6L450 697.2L456.4 699.1L464.7 700.2ZM186.3 690.3L192.9 691.2L198.5 690.9L204.7 689.1L208.4 686.8L210.6 683.5L210.1 680.2L206.8 676.8L201.6 674.6L195.1 673.5L188.5 673.7L181.8 675.3L177.4 678L175.3 681.3L176 684.6L180.2 688L185.9 690.2ZM178.5 657L182.9 657.8L189.6 657.2L196.2 655.5L203.7 652.4L208.9 649L211.7 645.7L211.8 643.2L209.5 641.2L205.1 640.4L197.4 641.1L187.7 643.5L181.9 645.7L178.1 647.9L175.2 651.3L175.2 654.6L178 656.8ZM791.4 653.5L804.7 654.2L810.3 653.4L815.1 651.3L816.5 649L815.4 646.8L811.8 644.6L805.8 642.9L793.6 642.4L787.8 643.5L783.1 645.7L781.8 647.9L783 650.2L787 652.3L791.1 653.5ZM707.2 650.2L711.6 651.1L716.1 650.9L720.5 649.8L723.6 647.9L724.7 645.7L724.1 643.5L721.9 641.2L718.3 639.4L710.5 638.6L707.2 639.3L703.4 641.2L701.8 643.5L701.8 645.7L703.3 647.9L707.1 650.2ZM741.5 625.8L747.1 626.4L752.6 626.2L762.4 623.4L765.8 621.2L767.5 619L767.5 616.8L764.9 614.6L734.8 614.6L733.8 615.7L733.3 617.9L734.6 621.2L737.1 623.8L741.1 625.7Z"/>
<use href="#map" transform="translate(0,548)"/>
<line x1="71.0" y1="663.5" x2="869.0" y2="663.5" stroke="#008000" stroke-width="1.2" stroke-dasharray="4.7,5.3"/>
<line x1="470.0" y1="619" x2="470.0" y2="708.0" stroke="#008000" stroke-width="1.2" stroke-dasharray="4.3,5.7" stroke-dashoffset="5.1"/>
</g>
<rect x="71.0" y="619" width="798.0" height="89.0" fill="none" stroke="#000" stroke-width="2"/>
<path d="M71.0 619v-4M71.0 708.0v4M104.2 619v-2M104.2 708.0v2M137.5 619v-2M137.5 708.0v2M170.8 619v-4M170.8 708.0v4M204.0 619v-2M204.0 708.0v2M237.2 619v-2M237.2 708.0v2M270.5 619v-4M270.5 708.0v4M303.8 619v-2M303.8 708.0v2M337.0 619v-2M337.0 708.0v2M370.2 619v-4M370.2 708.0v4M403.5 619v-2M403.5 708.0v2M436.8 619v-2M436.8 708.0v2M470.0 619v-4M470.0 708.0v4M503.2 619v-2M503.2 708.0v2M536.5 619v-2M536.5 708.0v2M569.8 619v-4M569.8 708.0v4M603.0 619v-2M603.0 708.0v2M636.2 619v-2M636.2 708.0v2M669.5 619v-4M669.5 708.0v4M702.8 619v-2M702.8 708.0v2M736.0 619v-2M736.0 708.0v2M769.2 619v-4M769.2 708.0v4M802.5 619v-2M802.5 708.0v2M835.8 619v-2M835.8 708.0v2M869.0 619v-4M869.0 708.0v4M71.0 619.0h-4M869.0 619.0h4M71.0 630.1h-2M869.0 630.1h2M71.0 641.2h-2M869.0 641.2h2M71.0 652.4h-2M869.0 652.4h2M71.0 663.5h-4M869.0 663.5h4M71.0 674.6h-2M869.0 674.6h2M71.0 685.8h-2M869.0 685.8h2M71.0 696.9h-2M869.0 696.9h2M71.0 708.0h-4M869.0 708.0h4" stroke="#000" stroke-width="1.6" fill="none"/>
<text transform="translate(69.70,613.60) scale(0.993,1.048)" font-size="28">4-Dec-2011 to 8-Dec-2011</text>
<text transform="translate(871.50,608.50) scale(0.993,1.048)" font-size="28" text-anchor="end">Projected</text>
<text transform="translate(50.00,628.90) scale(1.0,1.053)" font-size="28" text-anchor="end">20N</text>
<text transform="translate(50.00,673.40) scale(1.0,1.053)" font-size="28" text-anchor="end">0</text>
<text transform="translate(50.00,717.90) scale(1.0,1.053)" font-size="28" text-anchor="end">20S</text>
<g clip-path="url(#c5)">
<rect x="71.0" y="756" width="798.0" height="89.0" fill="#ffffcc"/>
<path fill="#1e90ff" fill-rule="evenodd" d="M263.8 825.2L266.1 824.4L266.8 822.8L266.4 819.4L265 817.6L262.7 817.2L260.8 819.4L261.3 822.8L263.4 825ZM308.2 808.4L317 809.1L323.7 808.1L327.4 806.1L328.5 803.8L328.2 801.6L324.3 796L318.6 791.6L310.4 787.5L302.6 785.4L284.9 784.9L277.2 784L274.9 785.5L272.7 789.1L271.1 793.8L271.1 797.2L272.4 799.4L274.4 800.5L286 800.9L298.8 806.1L307.3 808.3ZM466.7 805L472.2 804.4L474.9 802.7L474.4 800.5L470 798.8L463.9 799.4L460.5 801.6L460.6 802.7L461.9 803.8L466.2 805ZM273.8 779.6L277.2 779.7L290.5 773.1L293.3 770.5L293.8 767.5L292.7 764.6L289.8 761.6L284.9 758.6L277.2 755.8L269.4 755L262.7 756.8L260.5 758.3L258.3 761.1L257.6 766L259.9 770.5L265.1 774.9L273.4 779.4ZM466.7 767.1L471.1 767.2L473.1 766L473.2 763.8L471.1 762.4L466.7 762.5L464.7 763.8L465 766L466.6 767.1Z"/><path fill="#a0d2ff" fill-rule="evenodd" d="M143 846.2L150.8 846.1L166.3 843.9L185.2 844.7L194 844.4L201.3 842.8L203.5 840.6L201.5 838.3L198.3 837.2L173 834.2L168.8 832.8L159.7 828.1L149.7 826.1L140.8 826.2L132 827.8L127.5 830.4L125.4 833.9L125.1 838.3L127.8 841.7L134.2 844.6L142.4 846.1ZM558.7 842.9L563.1 843.7L566.8 842.8L567.9 841.7L567.8 840.6L564.8 838.3L560.9 837.7L557.9 838.3L556.5 840.6L558.4 842.8ZM260.5 841.8L265 841.7L269.4 839.8L272.7 836.7L276.3 831.6L277.8 827.2L277.3 812.7L278.4 810.5L281.6 808.5L287.1 808.3L310.4 814.3L324.8 815.6L332.6 815L339.2 813.4L343.7 811L345.5 808.3L345.4 806.1L343.7 802.7L336.9 796L328.1 789.7L309.5 778.2L307.3 774.9L304.6 764.9L301.9 760.4L296 755.2L287.9 751.6L258.8 751.6L252.8 755.3L249.1 760.4L248.8 763.8L250.3 767.1L263.2 779.4L265.7 783.8L265.3 788.3L262.5 796L259.7 801.6L251 815L249.1 819.4L248.1 823.9L248.5 829.4L250.8 835L255 839.3L260.1 841.7ZM263.4 825L261.3 822.8L260.8 819.4L262.7 817.2L265 817.6L266.4 819.4L266.8 822.8L266.1 824.4L263.8 825.2ZM307.3 808.3L298.8 806.1L286 800.9L274.4 800.5L272.4 799.4L271.1 797.2L271.1 793.8L272.7 789.1L274.9 785.5L277.2 784L284.9 784.9L302.6 785.4L310.4 787.5L318.6 791.6L324.3 796L328.2 801.6L328.5 803.8L327.4 806.1L323.7 808.1L317 809.1L308.2 808.4ZM273.4 779.4L265.1 774.9L259.9 770.5L257.6 766L258.3 761.1L260.5 758.3L262.7 756.8L269.4 755L277.2 755.8L284.9 758.6L289.8 761.6L292.7 764.6L293.8 767.5L293.3 770.5L290.5 773.1L277.2 779.7L273.8 779.6ZM734.9 841.8L742.7 842.3L750.8 841.7L758.2 839.6L761.8 837.2L762.7 835L760.6 831.6L756 829.2L748.2 827.3L740.4 826.9L732.7 827.6L726.3 829.4L722.7 831.6L721.4 833.9L722.6 837.2L727.1 839.9L734 841.7ZM303.8 833.9L315.9 834L323.9 831.6L325.6 829.4L324.5 827.2L321.5 825.6L317 824.6L304.9 824.7L296.2 827.2L294.9 828.3L294.9 830.5L298.6 832.8L303.3 833.9ZM524.3 832.9L536.5 832.7L541.3 831.6L545.7 829.4L546.8 827.2L545.6 825L541.3 822.8L535.4 821.5L523.1 821.6L517.9 822.8L513.3 825L512.1 827.2L513.4 829.4L518 831.6L523.4 832.8ZM434.5 810.6L444.5 811L472.2 810L482.2 808.9L489.6 806.1L493.6 802.7L494.6 800.5L494.4 798.3L492.9 796L490.1 793.8L492.2 792.8L535.4 791.3L541 790.5L543.2 789.4L536.5 787.7L514.3 786.6L484.4 787.9L476.1 789.4L472.2 792.4L464.6 793.8L454.5 795.1L437.9 795.7L427.9 797.2L419.4 800.5L417.9 802L417.4 803.8L419.1 806.1L422.3 807.8L433.6 810.5ZM466.2 805L461.9 803.8L460.6 802.7L460.5 801.6L463.9 799.4L470 798.8L474.4 800.5L474.9 802.7L472.2 804.4L466.7 805ZM856.8 789.4L861.2 789.7L865.7 789L869.9 787.2L873.4 784.4L873.4 770.7L870.1 768.2L865.7 766.5L860.1 766L853.5 767.6L848.7 770.5L845.5 774.9L845.1 779.4L846.9 783.8L850.8 787.2L856.6 789.4ZM67.7 789L72.1 787L76 783.8L78.1 780.5L78.7 777.1L77.8 773.8L75.2 770.5L71 767.7L66.6 766.3L66.6 789.3ZM576.4 785.1L586.4 785.9L595.2 785.4L598.5 784.9L600.6 783.8L598.6 782.7L589.7 781.5L579.7 781.7L574.3 782.7L573.1 783.8L575.5 784.9ZM569.8 773.8L575.3 774.6L585.5 773.8L596.9 771.6L607.3 768.2L613.7 764.9L616.8 761.6L616.8 759.3L613.7 757.1L606.3 755.8L596.4 756L585.3 757.7L575.1 760.4L568.6 763.8L566.4 766.9L566.1 769.4L566.8 771.6L569.6 773.8ZM355.8 771.7L366.9 772.1L376.9 770.2L380.1 768.2L380.3 767.1L378 765.4L373.6 764.2L362 763.8L351.6 766L349.9 767.1L349.3 768.2L349.8 769.4L355.2 771.6ZM462.2 770.5L467.8 771.3L473.3 771.1L477.8 770.1L481.6 768.2L483.4 766L483.4 763.8L481.7 761.6L476.6 759.2L471.1 758.3L465.6 758.4L460 759.6L456.2 761.6L454.6 763.8L454.8 766L456.9 768.2L462.1 770.5ZM466.6 767.1L465 766L464.7 763.8L466.7 762.5L471.1 762.4L473.2 763.8L473.1 766L471.1 767.2L466.7 767.1Z"/><path fill="#ccf5ff" fill-rule="evenodd" d="M109.8 848.4L111.2 849.4L210.3 849.4L219.5 846.4L223.1 843.9L224.6 841.7L224.6 839.4L223.1 837.2L217.3 833.9L210.6 832.7L189.6 831.2L181.8 829.9L171.9 825.9L156.3 817.4L144.9 815L141.9 813.6L140.5 811.6L136.9 802.7L123.1 788.4L117.9 780.5L115.9 774.9L116.1 770.5L117.5 767.1L120.9 763.1L130.2 754.9L130.5 752.7L129.5 751.6L74.6 751.6L66.6 753.7L66.6 766.3L71 767.7L75.2 770.5L77.8 773.8L78.7 777.1L78.1 780.5L75.4 784.4L71.9 787.2L66.6 789.3L66.6 800L79.9 798.4L94.3 800.8L98.3 802.7L99.1 805L99.3 812.7L100.6 816.1L110.9 824.2L113.1 826.9L114 829.4L113.6 835L108.8 845L108.9 847.2L109.7 848.3ZM142.4 846.1L134.2 844.6L127.8 841.7L125.1 838.3L125.4 833.9L127.5 830.4L132 827.8L140.8 826.2L149.7 826.1L159.7 828.1L168.8 832.8L173 834.2L198.3 837.2L201.5 838.3L203.5 840.6L201.3 842.8L194 844.4L185.2 844.7L166.3 843.9L150.8 846.1L143 846.2ZM243.9 848.8L244.8 849.4L278 849.4L284.2 840.6L287.1 838.8L303.8 840.3L317 840.3L327 838.9L335.9 835.6L339.2 833L340.7 830.5L340.7 825L341.4 823.5L358.1 817L362.9 813.8L365.8 810.5L366.6 807.2L365.8 805L358.4 797.2L356.6 793.8L357 791.6L364.2 779.4L367.3 777.1L384.7 773.3L391.3 770.7L393.2 769.4L394.4 767.1L393.6 764.9L392.4 763.7L385.8 760.8L374.7 759.1L345.9 759L324.8 757.2L319.3 755.6L312.7 751.6L287.9 751.6L296 755.2L301.9 760.4L304.6 764.9L307.3 774.9L309.5 778.2L328.1 789.7L336.9 796L343.7 802.7L345.4 806.1L345.5 808.3L343.7 811L339.2 813.4L332.6 815L324.8 815.6L310.4 814.3L287.1 808.3L281.6 808.5L278.4 810.5L277.3 812.7L277.8 827.2L276.3 831.6L272.7 836.7L269.4 839.8L266.1 841.5L261.6 841.9L256.1 840L251.7 836.1L249.1 831.6L248.1 826.1L248.5 821.6L249.9 817.2L252.8 811.6L260.9 799.4L265.6 787.2L265.7 783.8L264.1 780.5L251.1 768.2L248.8 763.8L249.1 760.4L251 757.1L254.7 753.8L258.8 751.6L237.6 751.6L234.4 754.9L232.5 758.2L232.1 760.4L232.9 762.7L235.6 764.9L247.2 771.1L253.9 775.6L258.4 780.5L260 784.9L259.1 790.5L255.5 798.3L248.3 807.5L238.6 818.3L233.5 828.3L233.5 832.8L235.8 839.4L238.8 843.9L243.3 848.3ZM303.3 833.9L298.6 832.8L294.9 830.5L294.9 828.3L296.2 827.2L304.9 824.7L317 824.6L321.5 825.6L324.5 827.2L325.6 829.4L323.9 831.6L315.9 834L303.8 833.9ZM355.2 771.6L349.8 769.4L349.3 768.2L349.9 767.1L351.6 766L362 763.8L373.6 764.2L378 765.4L380.3 767.1L380.1 768.2L376.9 770.2L366.9 772.1L355.8 771.7ZM549.8 848.9L551.6 849.4L574.2 849.4L579.7 846.3L581.6 842.8L580.8 839.4L577.8 836.1L565 829.4L562.3 822.8L559.8 820.2L552.1 815L552.7 813.8L583.1 807L592.9 803.8L599.8 800.5L602.4 798.3L604.2 794.9L604.2 792.7L602.9 789.4L604.5 788.3L614.1 785.9L616.8 783.8L615.9 782.7L610.1 780.5L608.9 779.4L629.6 772L643 764.9L647.1 761.6L649.6 758.2L650.5 754.9L649.2 751.6L568.5 751.6L563.1 753.4L559.8 755.5L557.1 759.3L551.1 773.8L547.6 777.1L543.2 779.1L537.6 780.1L529.8 780.2L505.5 777.5L498.8 777.6L483.5 782.7L457.4 789.4L432.3 791.2L417.9 793.5L405.8 797.2L398.3 801.6L397.1 803.8L397.7 806.1L402.3 809.4L413.5 813.5L429 816.6L437.9 816.7L462.2 813.9L488.8 814.6L502.1 812.8L506.6 812.9L508.8 813.8L501 818.2L499 820.5L498.3 822.8L499.2 829.4L501 833.2L503.2 835.7L507.7 838L516.6 839.7L538.7 840.6L540.9 841.5L545.1 846.1L548.7 848.3ZM558.4 842.8L556.5 840.6L557.9 838.3L560.9 837.7L564.8 838.3L567.8 840.6L567.9 841.7L566.8 842.8L563.1 843.7L558.7 842.9ZM523.4 832.8L518 831.6L513.4 829.4L512.1 827.2L513.3 825L517.9 822.8L523.1 821.6L535.4 821.5L541.3 822.8L545.6 825L546.8 827.2L545.7 829.4L541.3 831.6L536.5 832.7L524.3 832.9ZM433.6 810.5L422.3 807.8L419.1 806.1L417.4 803.8L417.9 802L419.4 800.5L427.9 797.2L437.9 795.7L454.5 795.1L464.6 793.8L472.2 792.4L476.1 789.4L484.4 787.9L514.3 786.6L536.5 787.7L543.2 789.4L541 790.5L535.4 791.3L492.2 792.8L490.1 793.8L492.9 796L494.4 798.3L494.6 800.5L493.6 802.7L489.6 806.1L482.2 808.9L472.2 810L444.5 811L434.5 810.6ZM575.5 784.9L573.1 783.8L574.3 782.7L579.7 781.7L589.7 781.5L598.6 782.7L600.6 783.8L598.5 784.9L595.2 785.4L586.4 785.9L576.4 785.1ZM569.6 773.8L566.8 771.6L566.1 769.4L566.4 766.9L568.6 763.8L575.1 760.4L585.3 757.7L596.4 756L606.3 755.8L613.7 757.1L616.8 759.3L616.8 761.6L613.7 764.9L607.3 768.2L596.9 771.6L585.5 773.8L575.3 774.6L569.8 773.8ZM728.2 848.5L746 849.4L761.5 847.8L770.4 845.7L775.9 843.4L779.2 841.4L782.2 838.3L783.3 835L782.7 828.3L786.8 819.4L786.6 816.1L785 812.7L780.4 808.3L774.8 805.1L767 802.1L757.1 799.7L749.3 798.9L740.4 799.1L708 802.7L696.1 805.9L692.4 808.3L690.6 810.5L689.7 813.8L690.8 818.3L693.3 822.8L699.1 830.5L703.6 839.4L707.2 842.3L711.6 844.5L718.3 846.7L727.1 848.3ZM734 841.7L727.1 839.9L722.6 837.2L721.4 833.9L722.7 831.6L726.3 829.4L732.7 827.6L740.4 826.9L748.2 827.3L756 829.2L760.6 831.6L762.7 835L761.8 837.2L758.2 839.6L750.8 841.7L742.7 842.3L734.9 841.8ZM855.7 799.6L863.5 800.1L873.4 798.6L873.4 784.4L869.9 787.2L864.6 789.3L859 789.7L854.6 788.8L849.2 786L846.2 782.7L845.1 779.4L845.5 774.9L847.6 771.6L850.2 769.4L857.9 766.3L862.4 766L866.8 766.8L870.1 768.2L873.4 770.7L873.4 751.6L856.8 755.3L840.2 760.9L805.8 761.9L781.4 765.1L768.1 769.2L764.9 771.6L763.5 773.8L762.7 778.2L763.7 783.1L766.1 786L771.5 788.7L777 788.7L787 784.3L794.7 782L802.5 780.8L810.3 780.9L815.4 782.7L816.9 784.9L815.7 788.3L810.2 793.8L811.4 794.7L840.2 795.3L854.6 799.4ZM466.7 775L475.5 775.2L483.3 774.4L490 772.1L492.7 769.4L493.2 764.9L490 759.5L483.3 755.5L476.6 754L463.4 753.9L454.5 755.2L448.9 757.8L446 761.6L445.3 766L446.4 768.2L448.9 770.3L456.7 773.4L466.2 774.9ZM462.1 770.5L456.9 768.2L454.8 766L454.6 763.8L456.2 761.6L460 759.6L465.6 758.4L471.1 758.3L476.6 759.2L481.7 761.6L483.4 763.8L483.4 766L481.6 768.2L477.8 770.1L473.3 771.1L467.8 771.3L462.2 770.5Z"/><path fill="#ffdd33" fill-rule="evenodd" d="M460 844L470 844.1L478.9 842.5L486.6 839.3L491.2 835L492 832.8L491.9 829.4L490.6 826.1L488.8 823.8L482.2 819.7L473.3 817.6L462.2 817.2L451.2 819.1L443.4 822.5L438.8 827.2L438 829.4L438.3 832.8L439.5 835L442.3 837.8L450 841.9L459.3 843.9ZM459.8 840.6L451.8 838.3L446.7 835L444.9 831.6L445.6 827.6L449.6 823.9L455.6 821.4L463.4 820.2L471.1 820.5L477.8 822.1L483.3 825.2L486 829.4L486.1 831.6L485.2 833.9L481.5 837.2L475.5 839.7L467.8 840.9L460 840.6ZM82.1 840.6L88.7 841.1L95.4 840.4L100.9 838.4L103.6 836.1L105 832.8L104.2 829.4L100.9 826.8L95.4 825L88.7 824.4L81.5 825L75.4 826.7L71.2 829.4L69.6 832.8L71.2 836.1L75.4 838.8L81.5 840.6ZM873.4 838.8L873.4 826.7L869.2 829.4L867.6 832.8L869.2 836.1L872.4 838.3ZM194 828.3L208.4 827.8L215.1 826.2L220.9 823.9L226.2 819.4L230.7 811.6L246.1 803L249.9 799.4L252.8 795.1L254.8 789.4L255.1 784.9L254.2 781.6L251.6 778.2L247.2 775.1L240.6 772.3L232.8 770.3L225.1 769.2L209.5 769.2L185.2 772.3L177.4 772.6L170.8 771.8L157.4 768L149.7 767.4L145.3 767.9L140.9 769.4L137.9 771.6L136.4 773.7L135.7 776L136 779.4L137.7 782.7L139.8 784.9L145.1 788.3L160.3 794.9L164.4 798.3L169.1 803.8L170.6 806.1L171.1 808.3L169.2 816.1L169.9 818.3L171.6 820.5L175.2 823.2L180.7 825.7L187.4 827.5L193.6 828.3ZM188.9 825L180.7 822.2L176.5 818.3L176 816.1L177.6 812.7L185.5 807.2L186.6 806.1L186.5 805L177.4 799L171.1 792.7L167.9 787.2L167.8 784.9L168.8 782.7L171.6 780.5L177.4 778.4L202.9 773.6L217.3 772.6L231.8 773.8L243 777.1L246.7 779.4L248.7 781.6L250.1 784.9L250 789.4L248.7 793.8L246.6 797.2L242.8 800.5L238.4 802.7L220.1 808.3L219.2 809.4L220.6 815L220.3 817.2L217.8 820.5L214.1 822.8L208.4 824.6L202.9 825.5L196.2 825.8L189.6 825.1ZM702.8 791.7L714.9 792.2L726 790.6L735 787.2L740.1 782.7L741.2 780.5L741.5 777.1L739.3 772.7L732.7 767.9L723.8 764.5L710.5 764.1L698.3 765.6L688.3 769.3L682.9 773.8L681.7 776L681.4 779.4L682.9 782.7L684.9 784.9L692.8 789.2L702.3 791.6ZM792.5 790.6L798.1 790.9L803.6 789.5L806 787.2L804.7 785.8L800.3 785.3L795.5 786L791.4 788.3L791.1 789.4L792.1 790.5ZM523.2 772.8L531 773.5L537.6 772.3L542.5 769.4L545.5 764.9L546 761.6L544.3 758L539.8 754.8L532 751.6L509.4 751.6L506.3 753.8L504.9 756L504.9 760.4L508.8 766L515.4 770.3L522.5 772.7ZM419 769.4L423.4 769.4L427.9 768.2L431.2 766.4L433.9 763.8L435.5 760.4L435.6 757.1L434 753.8L431.6 751.6L410.9 751.6L408.5 753.8L406.7 758.2L407.2 761.6L408.4 763.8L412.4 767.4L418.6 769.4ZM728.2 761.6L739.3 761.8L752.8 759.3L758.7 756L759.6 753.8L758.6 751.6L722.1 751.6L720.9 753.8L721.6 757.1L723.8 759.6L728 761.6Z"/><path fill="#ff6e00" fill-rule="evenodd" d="M460 840.6L467.8 840.9L475.5 839.7L481.5 837.2L485.2 833.9L486.1 831.6L486 829.4L483.3 825.2L477.8 822.1L471.1 820.5L463.4 820.2L455.6 821.4L449.6 823.9L445.6 827.6L444.9 831.6L446.7 835L451.8 838.3L459.8 840.6ZM463.4 837.2L457.9 836.1L454.5 834.4L452.2 831.6L452.2 829.4L453.8 827.2L457.8 825L466.7 823.8L472.2 824.7L475.7 826.1L478.2 828.3L478.9 831.4L477.3 833.9L473.3 836.1L464.5 837.3ZM189.6 825.1L196.2 825.8L202.9 825.5L208.4 824.6L214.1 822.8L217.8 820.5L220.3 817.2L220.6 815L219.2 809.4L220.1 808.3L238.4 802.7L242.8 800.5L246.6 797.2L248.7 793.8L250 789.4L250.1 784.9L248.7 781.6L246.7 779.4L243 777.1L231.8 773.8L217.3 772.6L202.9 773.6L177.4 778.4L171.6 780.5L168.8 782.7L167.8 784.9L167.9 787.2L171.1 792.7L177.4 799L186.5 805L186.6 806.1L185.5 807.2L177.6 812.7L176 816.1L176.5 818.3L180.7 822.2L188.9 825ZM191.2 821.6L187.4 820.4L184 818.1L183.5 815L185.2 813L188.5 811.2L194 809.8L199.6 809.3L205.1 809.8L210.2 811.6L212.8 813.8L213.4 816.1L212.1 818.3L208.4 820.5L204 821.8L197.4 822.3L191.8 821.8ZM210.9 803.8L197.4 802.1L187.4 798.8L183.2 796L181.2 793.8L179.7 790.5L179.7 788.3L181.7 784.9L186.3 782.5L206.1 777.1L215.1 776.3L227.8 778.2L237.4 781.6L241.7 785.7L242.6 788.3L242.7 791.6L240.6 796L237.9 798.3L233.4 800.5L224 803L211.8 803.9Z"/><path fill="#ff0000" fill-rule="evenodd" d="M464.5 837.3L473.3 836.1L477.3 833.9L478.9 831.4L478.2 828.3L475.7 826.1L472.2 824.7L466.7 823.8L457.8 825L453.8 827.2L452.2 829.4L452.2 831.6L454.5 834.4L457.9 836.1L463.4 837.2ZM191.8 821.8L197.4 822.3L204 821.8L208.4 820.5L212.1 818.3L213.4 816.1L212.8 813.8L210.2 811.6L205.1 809.8L199.6 809.3L194 809.8L188.5 811.2L185.2 813L183.5 815L184 818.1L187.4 820.4L191.2 821.6ZM211.8 803.9L224 803L233.4 800.5L237.9 798.3L240.6 796L242.7 791.6L242.6 788.3L241.7 785.7L237.4 781.6L227.8 778.2L215.1 776.3L206.1 777.1L186.3 782.5L181.7 784.9L179.7 788.3L179.7 790.5L181.2 793.8L183.2 796L187.4 798.8L197.4 802.1L210.9 803.8ZM206.5 799.4L197.2 797.2L193.6 794.9L192.8 792.7L195.5 790.5L204.7 788.3L205.2 783.8L207.3 781.7L214.3 780.5L218.4 781.6L219.6 782.7L219.9 784.9L217.7 788.3L217.8 789.4L226.6 792.7L228 793.8L228.1 796L224.7 798.3L220.2 799.4L207.3 799.5Z"/><path fill="#a02020" fill-rule="evenodd" d="M207.3 799.5L220.2 799.4L224.7 798.3L228.1 796L228 793.8L226.6 792.7L217.8 789.4L217.7 788.3L219.9 784.9L219.6 782.7L218.4 781.6L214.3 780.5L207.3 781.7L205.2 783.8L204.7 788.3L195.5 790.5L192.8 792.7L193.6 794.9L197.2 797.2L206.5 799.4Z"/>
<use href="#map" transform="translate(0,685)"/>
<line x1="71.0" y1="800.5" x2="869.0" y2="800.5" stroke="#008000" stroke-width="1.2" stroke-dasharray="4.7,5.3"/>
<line x1="470.0" y1="756" x2="470.0" y2="845.0" stroke="#008000" stroke-width="1.2" stroke-dasharray="4.3,5.7" stroke-dashoffset="5.1"/>
</g>
<rect x="71.0" y="756" width="798.0" height="89.0" fill="none" stroke="#000" stroke-width="2"/>
<path d="M71.0 756v-4M71.0 845.0v4M104.2 756v-2M104.2 845.0v2M137.5 756v-2M137.5 845.0v2M170.8 756v-4M170.8 845.0v4M204.0 756v-2M204.0 845.0v2M237.2 756v-2M237.2 845.0v2M270.5 756v-4M270.5 845.0v4M303.8 756v-2M303.8 845.0v2M337.0 756v-2M337.0 845.0v2M370.2 756v-4M370.2 845.0v4M403.5 756v-2M403.5 845.0v2M436.8 756v-2M436.8 845.0v2M470.0 756v-4M470.0 845.0v4M503.2 756v-2M503.2 845.0v2M536.5 756v-2M536.5 845.0v2M569.8 756v-4M569.8 845.0v4M603.0 756v-2M603.0 845.0v2M636.2 756v-2M636.2 845.0v2M669.5 756v-4M669.5 845.0v4M702.8 756v-2M702.8 845.0v2M736.0 756v-2M736.0 845.0v2M769.2 756v-4M769.2 845.0v4M802.5 756v-2M802.5 845.0v2M835.8 756v-2M835.8 845.0v2M869.0 756v-4M869.0 845.0v4M71.0 756.0h-4M869.0 756.0h4M71.0 767.1h-2M869.0 767.1h2M71.0 778.2h-2M869.0 778.2h2M71.0 789.4h-2M869.0 789.4h2M71.0 800.5h-4M869.0 800.5h4M71.0 811.6h-2M869.0 811.6h2M71.0 822.8h-2M869.0 822.8h2M71.0 833.9h-2M869.0 833.9h2M71.0 845.0h-4M869.0 845.0h4" stroke="#000" stroke-width="1.6" fill="none"/>
<text transform="translate(69.70,750.60) scale(0.993,1.048)" font-size="28">9-Dec-2011 to 13-Dec-2011</text>
<text transform="translate(871.50,745.50) scale(0.993,1.048)" font-size="28" text-anchor="end">Projected</text>
<text transform="translate(50.00,765.90) scale(1.0,1.053)" font-size="28" text-anchor="end">20N</text>
<text transform="translate(50.00,810.40) scale(1.0,1.053)" font-size="28" text-anchor="end">0</text>
<text transform="translate(50.00,854.90) scale(1.0,1.053)" font-size="28" text-anchor="end">20S</text>
<text transform="translate(71.00,886.20) scale(1.0,1.05)" font-size="28" text-anchor="middle">0</text>
<text transform="translate(170.75,886.20) scale(1.0,1.05)" font-size="28" text-anchor="middle">45E</text>
<text transform="translate(270.50,886.20) scale(1.0,1.05)" font-size="28" text-anchor="middle">90E</text>
<text transform="translate(370.25,886.20) scale(1.0,1.05)" font-size="28" text-anchor="middle">135E</text>
<text transform="translate(470.00,886.20) scale(1.0,1.05)" font-size="28" text-anchor="middle">180</text>
<text transform="translate(569.75,886.20) scale(1.0,1.05)" font-size="28" text-anchor="middle">135W</text>
<text transform="translate(669.50,886.20) scale(1.0,1.05)" font-size="28" text-anchor="middle">90W</text>
<text transform="translate(769.25,886.20) scale(1.0,1.05)" font-size="28" text-anchor="middle">45W</text>
<text transform="translate(869.00,886.20) scale(1.0,1.05)" font-size="28" text-anchor="middle">0</text>
<rect x="914.5" y="237.5" width="57.0" height="45.5" fill="#ff69b4" stroke="#111" stroke-width="1"/>
<rect x="914.5" y="283.0" width="57.0" height="45.5" fill="#a02020" stroke="#111" stroke-width="1"/>
<rect x="914.5" y="328.5" width="57.0" height="45.5" fill="#ff0000" stroke="#111" stroke-width="1"/>
<rect x="914.5" y="374.0" width="57.0" height="45.5" fill="#ff6e00" stroke="#111" stroke-width="1"/>
<rect x="914.5" y="419.5" width="57.0" height="45.5" fill="#ffdd33" stroke="#111" stroke-width="1"/>
<rect x="914.5" y="465.0" width="57.0" height="45.5" fill="#ffffcc" stroke="#111" stroke-width="1"/>
<rect x="914.5" y="510.5" width="57.0" height="45.5" fill="#ccf5ff" stroke="#111" stroke-width="1"/>
<rect x="914.5" y="556.0" width="57.0" height="45.5" fill="#a0d2ff" stroke="#111" stroke-width="1"/>
<rect x="914.5" y="601.5" width="57.0" height="45.5" fill="#1e90ff" stroke="#111" stroke-width="1"/>
<rect x="914.5" y="647.0" width="57.0" height="45.5" fill="#4169e1" stroke="#111" stroke-width="1"/>
<rect x="914.5" y="692.5" width="57.0" height="45.5" fill="#000090" stroke="#111" stroke-width="1"/>
<rect x="914.5" y="738.0" width="57.0" height="45.5" fill="#8a2be2" stroke="#111" stroke-width="1"/>
<text transform="translate(1004.50,291.20) scale(1.0,1.087)" font-size="24" text-anchor="middle">25</text>
<text transform="translate(1004.50,336.70) scale(1.0,1.087)" font-size="24" text-anchor="middle">20</text>
<text transform="translate(1004.50,382.20) scale(1.0,1.087)" font-size="24" text-anchor="middle">15</text>
<text transform="translate(1004.50,427.70) scale(1.0,1.087)" font-size="24" text-anchor="middle">10</text>
<text transform="translate(1004.50,473.20) scale(1.0,1.087)" font-size="24" text-anchor="middle">5</text>
<text transform="translate(1004.50,518.70) scale(1.0,1.087)" font-size="24" text-anchor="middle">0</text>
<text transform="translate(1004.50,564.20) scale(1.0,1.087)" font-size="24" text-anchor="middle">-5</text>
<text transform="translate(1004.50,609.70) scale(1.0,1.087)" font-size="24" text-anchor="middle">-10</text>
<text transform="translate(1004.50,655.20) scale(1.0,1.087)" font-size="24" text-anchor="middle">-15</text>
<text transform="translate(1004.50,700.70) scale(1.0,1.087)" font-size="24" text-anchor="middle">-20</text>
<text transform="translate(1004.50,746.20) scale(1.0,1.087)" font-size="24" text-anchor="middle">-25</text>
<text transform="translate(968.00,175.90) scale(1.0,1.08)" font-size="24" text-anchor="middle">W/m^2</text>
</svg></body></html>
